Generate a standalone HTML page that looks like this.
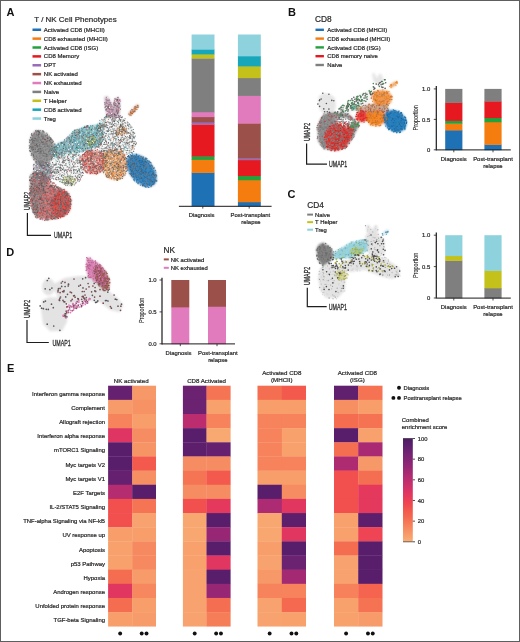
<!DOCTYPE html>
<html><head><meta charset="utf-8"><style>
html,body{margin:0;padding:0;background:#fff;}
body{width:520px;height:642px;overflow:hidden;}
svg{display:block;font-family:"Liberation Sans", sans-serif;will-change:transform;}
</style></head><body>
<svg width="520" height="642" viewBox="0 0 520 642">
<rect x="0" y="0" width="520" height="642" fill="#fff"/>
<text x="6.40" y="15.80" font-size="11.0" text-anchor="start" fill="#111" font-weight="bold" >A</text>
<text x="288.00" y="15.70" font-size="11.0" text-anchor="start" fill="#111" font-weight="bold" >B</text>
<text x="287.60" y="197.60" font-size="11.0" text-anchor="start" fill="#111" font-weight="bold" >C</text>
<text x="6.20" y="255.70" font-size="11.0" text-anchor="start" fill="#111" font-weight="bold" >D</text>
<text x="7.00" y="372.20" font-size="11.0" text-anchor="start" fill="#111" font-weight="bold" >E</text>
<text x="34.30" y="21.80" font-size="7.95" text-anchor="start" fill="#2b2b2b" font-weight="normal" stroke="#2b2b2b" stroke-width="0.22" >T / NK Cell Phenotypes</text>
<rect x="32.5" y="28.50" width="8.6" height="2.5" fill="#1f71b6"/>
<text x="43.80" y="31.85" font-size="6.0" text-anchor="start" fill="#2b2b2b" font-weight="normal" stroke="#2b2b2b" stroke-width="0.22" >Activated CD8 (MHCII)</text>
<rect x="32.5" y="37.38" width="8.6" height="2.5" fill="#f57d0f"/>
<text x="43.80" y="40.73" font-size="6.0" text-anchor="start" fill="#2b2b2b" font-weight="normal" stroke="#2b2b2b" stroke-width="0.22" >CD8 exhausted (MHCII)</text>
<rect x="32.5" y="46.26" width="8.6" height="2.5" fill="#22a23c"/>
<text x="43.80" y="49.61" font-size="6.0" text-anchor="start" fill="#2b2b2b" font-weight="normal" stroke="#2b2b2b" stroke-width="0.22" >Activated CD8 (ISG)</text>
<rect x="32.5" y="55.14" width="8.6" height="2.5" fill="#e5191f"/>
<text x="43.80" y="58.49" font-size="6.0" text-anchor="start" fill="#2b2b2b" font-weight="normal" stroke="#2b2b2b" stroke-width="0.22" >CD8 Memory</text>
<rect x="32.5" y="64.02" width="8.6" height="2.5" fill="#9a6cb8"/>
<text x="43.80" y="67.37" font-size="6.0" text-anchor="start" fill="#2b2b2b" font-weight="normal" stroke="#2b2b2b" stroke-width="0.22" >DPT</text>
<rect x="32.5" y="72.90" width="8.6" height="2.5" fill="#9b5149"/>
<text x="43.80" y="76.25" font-size="6.0" text-anchor="start" fill="#2b2b2b" font-weight="normal" stroke="#2b2b2b" stroke-width="0.22" >NK activated</text>
<rect x="32.5" y="81.78" width="8.6" height="2.5" fill="#e27bbd"/>
<text x="43.80" y="85.13" font-size="6.0" text-anchor="start" fill="#2b2b2b" font-weight="normal" stroke="#2b2b2b" stroke-width="0.22" >NK exhausted</text>
<rect x="32.5" y="90.66" width="8.6" height="2.5" fill="#7f7f7f"/>
<text x="43.80" y="94.01" font-size="6.0" text-anchor="start" fill="#2b2b2b" font-weight="normal" stroke="#2b2b2b" stroke-width="0.22" >Naive</text>
<rect x="32.5" y="99.54" width="8.6" height="2.5" fill="#c4c21a"/>
<text x="43.80" y="102.89" font-size="6.0" text-anchor="start" fill="#2b2b2b" font-weight="normal" stroke="#2b2b2b" stroke-width="0.22" >T Helper</text>
<rect x="32.5" y="108.42" width="8.6" height="2.5" fill="#17a6ba"/>
<text x="43.80" y="111.77" font-size="6.0" text-anchor="start" fill="#2b2b2b" font-weight="normal" stroke="#2b2b2b" stroke-width="0.22" >CD8 activated</text>
<rect x="32.5" y="117.30" width="8.6" height="2.5" fill="#8ed2dd"/>
<text x="43.80" y="120.65" font-size="6.0" text-anchor="start" fill="#2b2b2b" font-weight="normal" stroke="#2b2b2b" stroke-width="0.22" >Treg</text>
<text x="315.00" y="22.40" font-size="8.3" text-anchor="start" fill="#2b2b2b" font-weight="normal" stroke="#2b2b2b" stroke-width="0.22" >CD8</text>
<rect x="315.5" y="28.60" width="8.4" height="2.4" fill="#1f71b6"/>
<text x="327.30" y="31.90" font-size="5.9" text-anchor="start" fill="#2b2b2b" font-weight="normal" stroke="#2b2b2b" stroke-width="0.22" >Activated CD8 (MHCII)</text>
<rect x="315.5" y="37.40" width="8.4" height="2.4" fill="#f57d0f"/>
<text x="327.30" y="40.70" font-size="5.9" text-anchor="start" fill="#2b2b2b" font-weight="normal" stroke="#2b2b2b" stroke-width="0.22" >CD8 exhausted (MHCII)</text>
<rect x="315.5" y="46.20" width="8.4" height="2.4" fill="#22a23c"/>
<text x="327.30" y="49.50" font-size="5.9" text-anchor="start" fill="#2b2b2b" font-weight="normal" stroke="#2b2b2b" stroke-width="0.22" >Activated CD8 (ISG)</text>
<rect x="315.5" y="55.00" width="8.4" height="2.4" fill="#e5191f"/>
<text x="327.30" y="58.30" font-size="5.9" text-anchor="start" fill="#2b2b2b" font-weight="normal" stroke="#2b2b2b" stroke-width="0.22" >CD8 memory naive</text>
<rect x="315.5" y="63.80" width="8.4" height="2.4" fill="#7f7f7f"/>
<text x="327.30" y="67.10" font-size="5.9" text-anchor="start" fill="#2b2b2b" font-weight="normal" stroke="#2b2b2b" stroke-width="0.22" >Naive</text>
<text x="307.20" y="208.20" font-size="8.3" text-anchor="start" fill="#2b2b2b" font-weight="normal" stroke="#2b2b2b" stroke-width="0.22" >CD4</text>
<rect x="307.2" y="213.60" width="5.8" height="2.0" fill="#7f7f7f"/>
<text x="315.00" y="216.70" font-size="5.9" text-anchor="start" fill="#2b2b2b" font-weight="normal" stroke="#2b2b2b" stroke-width="0.22" >Naive</text>
<rect x="307.2" y="221.15" width="5.8" height="2.0" fill="#c4c21a"/>
<text x="315.00" y="224.25" font-size="5.9" text-anchor="start" fill="#2b2b2b" font-weight="normal" stroke="#2b2b2b" stroke-width="0.22" >T Helper</text>
<rect x="307.2" y="228.70" width="5.8" height="2.0" fill="#8ed2dd"/>
<text x="315.00" y="231.80" font-size="5.9" text-anchor="start" fill="#2b2b2b" font-weight="normal" stroke="#2b2b2b" stroke-width="0.22" >Treg</text>
<text x="163.60" y="253.20" font-size="8.3" text-anchor="start" fill="#2b2b2b" font-weight="normal" stroke="#2b2b2b" stroke-width="0.22" >NK</text>
<rect x="163.8" y="258.40" width="5.0" height="2.0" fill="#9b5149"/>
<text x="170.80" y="261.50" font-size="5.9" text-anchor="start" fill="#2b2b2b" font-weight="normal" stroke="#2b2b2b" stroke-width="0.22" >NK activated</text>
<rect x="163.8" y="266.80" width="5.0" height="2.0" fill="#e27bbd"/>
<text x="170.80" y="269.90" font-size="5.9" text-anchor="start" fill="#2b2b2b" font-weight="normal" stroke="#2b2b2b" stroke-width="0.22" >NK exhausted</text>
<rect x="191.60" y="172.50" width="22.90" height="33.85" fill="#1f71b6"/>
<rect x="191.60" y="159.60" width="22.90" height="13.25" fill="#f57d0f"/>
<rect x="191.60" y="156.10" width="22.90" height="3.85" fill="#22a23c"/>
<rect x="191.60" y="124.30" width="22.90" height="32.15" fill="#e5191f"/>
<rect x="191.60" y="122.00" width="22.90" height="2.65" fill="#9a6cb8"/>
<rect x="191.60" y="116.80" width="22.90" height="5.55" fill="#9b5149"/>
<rect x="191.60" y="111.90" width="22.90" height="5.25" fill="#e27bbd"/>
<rect x="191.60" y="58.20" width="22.90" height="54.05" fill="#7f7f7f"/>
<rect x="191.60" y="54.10" width="22.90" height="4.45" fill="#c4c21a"/>
<rect x="191.60" y="49.20" width="22.90" height="5.25" fill="#17a6ba"/>
<rect x="191.60" y="34.50" width="22.90" height="15.05" fill="#8ed2dd"/>
<rect x="237.90" y="201.90" width="22.90" height="4.45" fill="#1f71b6"/>
<rect x="237.90" y="179.90" width="22.90" height="22.35" fill="#f57d0f"/>
<rect x="237.90" y="175.70" width="22.90" height="4.55" fill="#22a23c"/>
<rect x="237.90" y="159.90" width="22.90" height="16.15" fill="#e5191f"/>
<rect x="237.90" y="158.20" width="22.90" height="2.05" fill="#9a6cb8"/>
<rect x="237.90" y="123.20" width="22.90" height="35.35" fill="#9b5149"/>
<rect x="237.90" y="95.60" width="22.90" height="27.95" fill="#e27bbd"/>
<rect x="237.90" y="77.80" width="22.90" height="18.15" fill="#7f7f7f"/>
<rect x="237.90" y="66.10" width="22.90" height="12.05" fill="#c4c21a"/>
<rect x="237.90" y="56.00" width="22.90" height="10.45" fill="#17a6ba"/>
<rect x="237.90" y="34.50" width="22.90" height="21.85" fill="#8ed2dd"/>
<line x1="178.9" y1="206.3" x2="271.6" y2="206.3" stroke="#1a1a1a" stroke-width="1.0"/>
<line x1="202.8" y1="206.3" x2="202.8" y2="208.6" stroke="#222" stroke-width="0.8"/>
<line x1="249.2" y1="206.3" x2="249.2" y2="208.6" stroke="#222" stroke-width="0.8"/>
<text x="201.60" y="216.60" font-size="5.9" text-anchor="middle" fill="#2b2b2b" font-weight="normal" stroke="#2b2b2b" stroke-width="0.22" >Diagnosis</text>
<text x="250.40" y="216.60" font-size="5.9" text-anchor="middle" fill="#2b2b2b" font-weight="normal" stroke="#2b2b2b" stroke-width="0.22" >Post-transplant</text>
<text x="251.00" y="223.80" font-size="5.9" text-anchor="middle" fill="#2b2b2b" font-weight="normal" stroke="#2b2b2b" stroke-width="0.22" >relapse</text>
<rect x="445.20" y="130.10" width="17.20" height="20.05" fill="#1f71b6"/>
<rect x="445.20" y="123.40" width="17.20" height="7.05" fill="#f57d0f"/>
<rect x="445.20" y="120.60" width="17.20" height="3.15" fill="#22a23c"/>
<rect x="445.20" y="102.60" width="17.20" height="18.35" fill="#e5191f"/>
<rect x="445.20" y="88.90" width="17.20" height="14.05" fill="#7f7f7f"/>
<rect x="484.40" y="144.50" width="17.20" height="5.65" fill="#1f71b6"/>
<rect x="484.40" y="121.90" width="17.20" height="22.95" fill="#f57d0f"/>
<rect x="484.40" y="117.70" width="17.20" height="4.55" fill="#22a23c"/>
<rect x="484.40" y="101.20" width="17.20" height="16.85" fill="#e5191f"/>
<rect x="484.40" y="88.90" width="17.20" height="12.65" fill="#7f7f7f"/>
<line x1="436.3" y1="86.0" x2="436.3" y2="150.4" stroke="#1a1a1a" stroke-width="1.2"/>
<line x1="433.8" y1="88.9" x2="436.3" y2="88.9" stroke="#222" stroke-width="0.8"/>
<text x="430.30" y="91.00" font-size="5.9" text-anchor="end" fill="#2b2b2b" font-weight="normal" stroke="#2b2b2b" stroke-width="0.22" >1.0</text>
<line x1="433.8" y1="119.4" x2="436.3" y2="119.4" stroke="#222" stroke-width="0.8"/>
<text x="430.30" y="121.50" font-size="5.9" text-anchor="end" fill="#2b2b2b" font-weight="normal" stroke="#2b2b2b" stroke-width="0.22" >0.5</text>
<line x1="433.8" y1="149.8" x2="436.3" y2="149.8" stroke="#222" stroke-width="0.8"/>
<text x="430.30" y="151.90" font-size="5.9" text-anchor="end" fill="#2b2b2b" font-weight="normal" stroke="#2b2b2b" stroke-width="0.22" >0</text>
<line x1="436.7" y1="149.9" x2="510.8" y2="149.9" stroke="#1a1a1a" stroke-width="1.0"/>
<line x1="453.8" y1="150" x2="453.8" y2="152.3" stroke="#222" stroke-width="0.8"/>
<line x1="493.0" y1="150" x2="493.0" y2="152.3" stroke="#222" stroke-width="0.8"/>
<text x="453.80" y="160.50" font-size="5.9" text-anchor="middle" fill="#2b2b2b" font-weight="normal" stroke="#2b2b2b" stroke-width="0.22" >Diagnosis</text>
<text x="493.00" y="160.50" font-size="5.9" text-anchor="middle" fill="#2b2b2b" font-weight="normal" stroke="#2b2b2b" stroke-width="0.22" >Post-transplant</text>
<text x="493.00" y="167.70" font-size="5.9" text-anchor="middle" fill="#2b2b2b" font-weight="normal" stroke="#2b2b2b" stroke-width="0.22" >relapse</text>
<text x="0" y="0" font-size="7.2" fill="#2b2b2b" stroke="#2b2b2b" stroke-width="0.12" text-anchor="middle" transform="translate(418.0,117.8) rotate(-90) scale(0.77,1)">Proportion</text>
<rect x="445.20" y="260.50" width="17.20" height="37.85" fill="#7f7f7f"/>
<rect x="445.20" y="255.70" width="17.20" height="5.15" fill="#c4c21a"/>
<rect x="445.20" y="235.20" width="17.20" height="20.85" fill="#8ed2dd"/>
<rect x="484.40" y="288.00" width="17.20" height="10.35" fill="#7f7f7f"/>
<rect x="484.40" y="270.50" width="17.20" height="17.85" fill="#c4c21a"/>
<rect x="484.40" y="235.20" width="17.20" height="35.65" fill="#8ed2dd"/>
<line x1="436.3" y1="232.6" x2="436.3" y2="298.6" stroke="#1a1a1a" stroke-width="1.2"/>
<line x1="433.8" y1="235.2" x2="436.3" y2="235.2" stroke="#222" stroke-width="0.8"/>
<text x="430.30" y="237.30" font-size="5.9" text-anchor="end" fill="#2b2b2b" font-weight="normal" stroke="#2b2b2b" stroke-width="0.22" >1.0</text>
<line x1="433.8" y1="266.6" x2="436.3" y2="266.6" stroke="#222" stroke-width="0.8"/>
<text x="430.30" y="268.70" font-size="5.9" text-anchor="end" fill="#2b2b2b" font-weight="normal" stroke="#2b2b2b" stroke-width="0.22" >0.5</text>
<line x1="433.8" y1="298.0" x2="436.3" y2="298.0" stroke="#222" stroke-width="0.8"/>
<text x="430.30" y="300.10" font-size="5.9" text-anchor="end" fill="#2b2b2b" font-weight="normal" stroke="#2b2b2b" stroke-width="0.22" >0</text>
<line x1="436.7" y1="298.1" x2="510.8" y2="298.1" stroke="#1a1a1a" stroke-width="1.0"/>
<line x1="453.8" y1="298.2" x2="453.8" y2="300.5" stroke="#222" stroke-width="0.8"/>
<line x1="493.0" y1="298.2" x2="493.0" y2="300.5" stroke="#222" stroke-width="0.8"/>
<text x="453.80" y="308.50" font-size="5.9" text-anchor="middle" fill="#2b2b2b" font-weight="normal" stroke="#2b2b2b" stroke-width="0.22" >Diagnosis</text>
<text x="493.00" y="308.50" font-size="5.9" text-anchor="middle" fill="#2b2b2b" font-weight="normal" stroke="#2b2b2b" stroke-width="0.22" >Post-transplant</text>
<text x="493.00" y="315.70" font-size="5.9" text-anchor="middle" fill="#2b2b2b" font-weight="normal" stroke="#2b2b2b" stroke-width="0.22" >relapse</text>
<text x="0" y="0" font-size="7.2" fill="#2b2b2b" stroke="#2b2b2b" stroke-width="0.12" text-anchor="middle" transform="translate(417.9,265.3) rotate(-90) scale(0.77,1)">Proportion</text>
<rect x="171.30" y="307.00" width="18.00" height="37.15" fill="#e27bbd"/>
<rect x="171.30" y="280.00" width="18.00" height="27.35" fill="#9b5149"/>
<rect x="208.00" y="306.50" width="18.00" height="37.65" fill="#e27bbd"/>
<rect x="208.00" y="280.00" width="18.00" height="26.85" fill="#9b5149"/>
<line x1="162.0" y1="277.8" x2="162.0" y2="344.4" stroke="#1a1a1a" stroke-width="1.2"/>
<line x1="159.5" y1="280.0" x2="162.0" y2="280.0" stroke="#222" stroke-width="0.8"/>
<text x="156.60" y="282.10" font-size="5.9" text-anchor="end" fill="#2b2b2b" font-weight="normal" stroke="#2b2b2b" stroke-width="0.22" >1.0</text>
<line x1="159.5" y1="311.9" x2="162.0" y2="311.9" stroke="#222" stroke-width="0.8"/>
<text x="156.60" y="314.00" font-size="5.9" text-anchor="end" fill="#2b2b2b" font-weight="normal" stroke="#2b2b2b" stroke-width="0.22" >0.5</text>
<line x1="159.5" y1="343.8" x2="162.0" y2="343.8" stroke="#222" stroke-width="0.8"/>
<text x="156.60" y="345.90" font-size="5.9" text-anchor="end" fill="#2b2b2b" font-weight="normal" stroke="#2b2b2b" stroke-width="0.22" >0.0</text>
<line x1="162" y1="343.9" x2="235.0" y2="343.9" stroke="#1a1a1a" stroke-width="1.0"/>
<line x1="180.3" y1="343.9" x2="180.3" y2="346.2" stroke="#222" stroke-width="0.8"/>
<line x1="217.0" y1="343.9" x2="217.0" y2="346.2" stroke="#222" stroke-width="0.8"/>
<text x="178.50" y="354.50" font-size="5.9" text-anchor="middle" fill="#2b2b2b" font-weight="normal" stroke="#2b2b2b" stroke-width="0.22" >Diagnosis</text>
<text x="217.80" y="354.50" font-size="5.9" text-anchor="middle" fill="#2b2b2b" font-weight="normal" stroke="#2b2b2b" stroke-width="0.22" >Post-transplant</text>
<text x="217.80" y="361.70" font-size="5.9" text-anchor="middle" fill="#2b2b2b" font-weight="normal" stroke="#2b2b2b" stroke-width="0.22" >relapse</text>
<text x="0" y="0" font-size="7.2" fill="#2b2b2b" stroke="#2b2b2b" stroke-width="0.12" text-anchor="middle" transform="translate(143.6,310.3) rotate(-90) scale(0.77,1)">Proportion</text>
<polyline points="27.4,213.0 27.4,235.4 51.0,235.4" fill="none" stroke="#1e1e1e" stroke-width="1.2"/>
<text x="0" y="0" font-size="8.6" fill="#2b2b2b" stroke="#2b2b2b" stroke-width="0.3" transform="translate(54.0,238.496) scale(0.615,1)">UMAP1</text>
<text x="0" y="0" font-size="8.6" fill="#2b2b2b" stroke="#2b2b2b" stroke-width="0.3" text-anchor="middle" transform="translate(30.496,200.8) rotate(-90) scale(0.615,1)">UMAP2</text>
<polyline points="306.6,143.5 306.6,164.2 327.0,164.2" fill="none" stroke="#1e1e1e" stroke-width="1.2"/>
<text x="0" y="0" font-size="8.6" fill="#2b2b2b" stroke="#2b2b2b" stroke-width="0.3" transform="translate(329.0,167.296) scale(0.615,1)">UMAP1</text>
<text x="0" y="0" font-size="8.6" fill="#2b2b2b" stroke="#2b2b2b" stroke-width="0.3" text-anchor="middle" transform="translate(309.696,132.0) rotate(-90) scale(0.615,1)">UMAP2</text>
<polyline points="307.3,287.7 307.3,306.7 326.7,306.7" fill="none" stroke="#1e1e1e" stroke-width="1.2"/>
<text x="0" y="0" font-size="8.6" fill="#2b2b2b" stroke="#2b2b2b" stroke-width="0.3" transform="translate(328.8,309.796) scale(0.615,1)">UMAP1</text>
<text x="0" y="0" font-size="8.6" fill="#2b2b2b" stroke="#2b2b2b" stroke-width="0.3" text-anchor="middle" transform="translate(310.396,276.0) rotate(-90) scale(0.615,1)">UMAP2</text>
<polyline points="27.0,320.0 27.0,342.5 48.8,342.5" fill="none" stroke="#1e1e1e" stroke-width="1.2"/>
<text x="0" y="0" font-size="8.6" fill="#2b2b2b" stroke="#2b2b2b" stroke-width="0.3" transform="translate(52.5,345.596) scale(0.615,1)">UMAP1</text>
<text x="0" y="0" font-size="8.6" fill="#2b2b2b" stroke="#2b2b2b" stroke-width="0.3" text-anchor="middle" transform="translate(30.096,308.8) rotate(-90) scale(0.615,1)">UMAP2</text>
<rect x="108.1" y="385.70" width="24.40" height="14.45" fill="#65216f"/>
<rect x="132.2" y="385.70" width="23.80" height="14.45" fill="#f79868"/>
<rect x="108.1" y="399.85" width="24.40" height="14.45" fill="#f79b6a"/>
<rect x="132.2" y="399.85" width="23.80" height="14.45" fill="#f79264"/>
<rect x="108.1" y="414.00" width="24.40" height="14.45" fill="#f6835c"/>
<rect x="132.2" y="414.00" width="23.80" height="14.45" fill="#f89e6b"/>
<rect x="108.1" y="428.15" width="24.40" height="14.45" fill="#de3562"/>
<rect x="132.2" y="428.15" width="23.80" height="14.45" fill="#f68c61"/>
<rect x="108.1" y="442.30" width="24.40" height="14.45" fill="#581e6b"/>
<rect x="132.2" y="442.30" width="23.80" height="14.45" fill="#f79466"/>
<rect x="108.1" y="456.45" width="24.40" height="14.45" fill="#581e6b"/>
<rect x="132.2" y="456.45" width="23.80" height="14.45" fill="#f3594d"/>
<rect x="108.1" y="470.60" width="24.40" height="14.45" fill="#65216f"/>
<rect x="132.2" y="470.60" width="23.80" height="14.45" fill="#f68f62"/>
<rect x="108.1" y="484.75" width="24.40" height="14.45" fill="#b62c70"/>
<rect x="132.2" y="484.75" width="23.80" height="14.45" fill="#581e6b"/>
<rect x="108.1" y="498.90" width="24.40" height="14.45" fill="#f1504e"/>
<rect x="132.2" y="498.90" width="23.80" height="14.45" fill="#f57454"/>
<rect x="108.1" y="513.05" width="24.40" height="14.45" fill="#f1504e"/>
<rect x="132.2" y="513.05" width="23.80" height="14.45" fill="#f8a36f"/>
<rect x="108.1" y="527.20" width="24.40" height="14.45" fill="#f89e6b"/>
<rect x="132.2" y="527.20" width="23.80" height="14.45" fill="#f89e6b"/>
<rect x="108.1" y="541.35" width="24.40" height="14.45" fill="#f8a16d"/>
<rect x="132.2" y="541.35" width="23.80" height="14.45" fill="#f6895f"/>
<rect x="108.1" y="555.50" width="24.40" height="14.45" fill="#f8a16d"/>
<rect x="132.2" y="555.50" width="23.80" height="14.45" fill="#f6895f"/>
<rect x="108.1" y="569.65" width="24.40" height="14.45" fill="#f46d51"/>
<rect x="132.2" y="569.65" width="23.80" height="14.45" fill="#f79b6a"/>
<rect x="108.1" y="583.80" width="24.40" height="14.45" fill="#e03660"/>
<rect x="132.2" y="583.80" width="23.80" height="14.45" fill="#f6875e"/>
<rect x="108.1" y="597.95" width="24.40" height="14.45" fill="#f46d51"/>
<rect x="132.2" y="597.95" width="23.80" height="14.45" fill="#f89e6b"/>
<rect x="108.1" y="612.10" width="24.40" height="14.45" fill="#f89e6b"/>
<rect x="132.2" y="612.10" width="23.80" height="14.45" fill="#f79b6a"/>
<circle cx="120.15" cy="633.5" r="1.95" fill="#111"/>
<circle cx="141.70" cy="633.5" r="1.95" fill="#111"/>
<circle cx="146.50" cy="633.5" r="1.95" fill="#111"/>
<rect x="182.9" y="385.70" width="23.90" height="14.45" fill="#6b2271"/>
<rect x="206.5" y="385.70" width="24.10" height="14.45" fill="#f57454"/>
<rect x="182.9" y="399.85" width="23.90" height="14.45" fill="#6b2271"/>
<rect x="206.5" y="399.85" width="24.10" height="14.45" fill="#f8a16d"/>
<rect x="182.9" y="414.00" width="23.90" height="14.45" fill="#bc2d6f"/>
<rect x="206.5" y="414.00" width="24.10" height="14.45" fill="#f6835c"/>
<rect x="182.9" y="428.15" width="23.90" height="14.45" fill="#581e6b"/>
<rect x="206.5" y="428.15" width="24.10" height="14.45" fill="#f8a972"/>
<rect x="182.9" y="442.30" width="23.90" height="14.45" fill="#5d1f6c"/>
<rect x="206.5" y="442.30" width="24.10" height="14.45" fill="#65216f"/>
<rect x="182.9" y="456.45" width="23.90" height="14.45" fill="#f68c61"/>
<rect x="206.5" y="456.45" width="24.10" height="14.45" fill="#f68c61"/>
<rect x="182.9" y="470.60" width="23.90" height="14.45" fill="#f57454"/>
<rect x="206.5" y="470.60" width="24.10" height="14.45" fill="#f3594d"/>
<rect x="182.9" y="484.75" width="23.90" height="14.45" fill="#f68c61"/>
<rect x="206.5" y="484.75" width="24.10" height="14.45" fill="#f68c61"/>
<rect x="182.9" y="498.90" width="23.90" height="14.45" fill="#f1504e"/>
<rect x="206.5" y="498.90" width="24.10" height="14.45" fill="#e4385d"/>
<rect x="182.9" y="513.05" width="23.90" height="14.45" fill="#f8a771"/>
<rect x="206.5" y="513.05" width="24.10" height="14.45" fill="#581e6b"/>
<rect x="182.9" y="527.20" width="23.90" height="14.45" fill="#f8a771"/>
<rect x="206.5" y="527.20" width="24.10" height="14.45" fill="#972774"/>
<rect x="182.9" y="541.35" width="23.90" height="14.45" fill="#f8a16d"/>
<rect x="206.5" y="541.35" width="24.10" height="14.45" fill="#581e6b"/>
<rect x="182.9" y="555.50" width="23.90" height="14.45" fill="#f8a16d"/>
<rect x="206.5" y="555.50" width="24.10" height="14.45" fill="#e03660"/>
<rect x="182.9" y="569.65" width="23.90" height="14.45" fill="#f8a36f"/>
<rect x="206.5" y="569.65" width="24.10" height="14.45" fill="#581e6b"/>
<rect x="182.9" y="583.80" width="23.90" height="14.45" fill="#f8a36f"/>
<rect x="206.5" y="583.80" width="24.10" height="14.45" fill="#972774"/>
<rect x="182.9" y="597.95" width="23.90" height="14.45" fill="#f8a36f"/>
<rect x="206.5" y="597.95" width="24.10" height="14.45" fill="#f46f52"/>
<rect x="182.9" y="612.10" width="23.90" height="14.45" fill="#f8a36f"/>
<rect x="206.5" y="612.10" width="24.10" height="14.45" fill="#f57e59"/>
<circle cx="194.70" cy="633.5" r="1.95" fill="#111"/>
<circle cx="216.15" cy="633.5" r="1.95" fill="#111"/>
<circle cx="220.95" cy="633.5" r="1.95" fill="#111"/>
<rect x="257.5" y="385.70" width="24.60" height="14.45" fill="#f46f52"/>
<rect x="281.8" y="385.70" width="24.20" height="14.45" fill="#f3594d"/>
<rect x="257.5" y="399.85" width="24.60" height="14.45" fill="#f89e6b"/>
<rect x="281.8" y="399.85" width="24.20" height="14.45" fill="#f89e6b"/>
<rect x="257.5" y="414.00" width="24.60" height="14.45" fill="#f6835c"/>
<rect x="281.8" y="414.00" width="24.20" height="14.45" fill="#f6835c"/>
<rect x="257.5" y="428.15" width="24.60" height="14.45" fill="#f6835c"/>
<rect x="281.8" y="428.15" width="24.20" height="14.45" fill="#f8a16d"/>
<rect x="257.5" y="442.30" width="24.60" height="14.45" fill="#f6835c"/>
<rect x="281.8" y="442.30" width="24.20" height="14.45" fill="#f8a16d"/>
<rect x="257.5" y="456.45" width="24.60" height="14.45" fill="#f6835c"/>
<rect x="281.8" y="456.45" width="24.20" height="14.45" fill="#f6835c"/>
<rect x="257.5" y="470.60" width="24.60" height="14.45" fill="#f89e6b"/>
<rect x="281.8" y="470.60" width="24.20" height="14.45" fill="#f89e6b"/>
<rect x="257.5" y="484.75" width="24.60" height="14.45" fill="#581e6b"/>
<rect x="281.8" y="484.75" width="24.20" height="14.45" fill="#f68c61"/>
<rect x="257.5" y="498.90" width="24.60" height="14.45" fill="#ac2b72"/>
<rect x="281.8" y="498.90" width="24.20" height="14.45" fill="#e03660"/>
<rect x="257.5" y="513.05" width="24.60" height="14.45" fill="#f8a771"/>
<rect x="281.8" y="513.05" width="24.20" height="14.45" fill="#5d1f6c"/>
<rect x="257.5" y="527.20" width="24.60" height="14.45" fill="#f8a771"/>
<rect x="281.8" y="527.20" width="24.20" height="14.45" fill="#e03660"/>
<rect x="257.5" y="541.35" width="24.60" height="14.45" fill="#f89e6b"/>
<rect x="281.8" y="541.35" width="24.20" height="14.45" fill="#581e6b"/>
<rect x="257.5" y="555.50" width="24.60" height="14.45" fill="#f8a36f"/>
<rect x="281.8" y="555.50" width="24.20" height="14.45" fill="#6b2271"/>
<rect x="257.5" y="569.65" width="24.60" height="14.45" fill="#f79868"/>
<rect x="281.8" y="569.65" width="24.20" height="14.45" fill="#a32973"/>
<rect x="257.5" y="583.80" width="24.60" height="14.45" fill="#f6835c"/>
<rect x="281.8" y="583.80" width="24.20" height="14.45" fill="#f6835c"/>
<rect x="257.5" y="597.95" width="24.60" height="14.45" fill="#f8a36f"/>
<rect x="281.8" y="597.95" width="24.20" height="14.45" fill="#f46950"/>
<rect x="257.5" y="612.10" width="24.60" height="14.45" fill="#f8a36f"/>
<rect x="281.8" y="612.10" width="24.20" height="14.45" fill="#f8a16d"/>
<circle cx="269.65" cy="633.5" r="1.95" fill="#111"/>
<circle cx="291.50" cy="633.5" r="1.95" fill="#111"/>
<circle cx="296.30" cy="633.5" r="1.95" fill="#111"/>
<rect x="334.0" y="385.70" width="24.50" height="14.45" fill="#60206d"/>
<rect x="358.2" y="385.70" width="24.30" height="14.45" fill="#f57253"/>
<rect x="334.0" y="399.85" width="24.50" height="14.45" fill="#f68f62"/>
<rect x="358.2" y="399.85" width="24.30" height="14.45" fill="#f89e6b"/>
<rect x="334.0" y="414.00" width="24.50" height="14.45" fill="#f46d51"/>
<rect x="358.2" y="414.00" width="24.30" height="14.45" fill="#f57253"/>
<rect x="334.0" y="428.15" width="24.50" height="14.45" fill="#581e6b"/>
<rect x="358.2" y="428.15" width="24.30" height="14.45" fill="#f8a16d"/>
<rect x="334.0" y="442.30" width="24.50" height="14.45" fill="#f46f52"/>
<rect x="358.2" y="442.30" width="24.30" height="14.45" fill="#a92a72"/>
<rect x="334.0" y="456.45" width="24.50" height="14.45" fill="#af2b71"/>
<rect x="358.2" y="456.45" width="24.30" height="14.45" fill="#f79868"/>
<rect x="334.0" y="470.60" width="24.50" height="14.45" fill="#f1504e"/>
<rect x="358.2" y="470.60" width="24.30" height="14.45" fill="#f46f52"/>
<rect x="334.0" y="484.75" width="24.50" height="14.45" fill="#f1504e"/>
<rect x="358.2" y="484.75" width="24.30" height="14.45" fill="#e4385d"/>
<rect x="334.0" y="498.90" width="24.50" height="14.45" fill="#f1504e"/>
<rect x="358.2" y="498.90" width="24.30" height="14.45" fill="#e4385d"/>
<rect x="334.0" y="513.05" width="24.50" height="14.45" fill="#f8a16d"/>
<rect x="358.2" y="513.05" width="24.30" height="14.45" fill="#5d1f6c"/>
<rect x="334.0" y="527.20" width="24.50" height="14.45" fill="#f8a16d"/>
<rect x="358.2" y="527.20" width="24.30" height="14.45" fill="#ee4453"/>
<rect x="334.0" y="541.35" width="24.50" height="14.45" fill="#f46d51"/>
<rect x="358.2" y="541.35" width="24.30" height="14.45" fill="#581e6b"/>
<rect x="334.0" y="555.50" width="24.50" height="14.45" fill="#f8a36f"/>
<rect x="358.2" y="555.50" width="24.30" height="14.45" fill="#581e6b"/>
<rect x="334.0" y="569.65" width="24.50" height="14.45" fill="#f8a36f"/>
<rect x="358.2" y="569.65" width="24.30" height="14.45" fill="#581e6b"/>
<rect x="334.0" y="583.80" width="24.50" height="14.45" fill="#f6815a"/>
<rect x="358.2" y="583.80" width="24.30" height="14.45" fill="#f4644f"/>
<rect x="334.0" y="597.95" width="24.50" height="14.45" fill="#f8a16d"/>
<rect x="358.2" y="597.95" width="24.30" height="14.45" fill="#f57253"/>
<rect x="334.0" y="612.10" width="24.50" height="14.45" fill="#f8a16d"/>
<rect x="358.2" y="612.10" width="24.30" height="14.45" fill="#f79b6a"/>
<circle cx="346.10" cy="633.5" r="1.95" fill="#111"/>
<circle cx="367.95" cy="633.5" r="1.95" fill="#111"/>
<circle cx="372.75" cy="633.5" r="1.95" fill="#111"/>
<text x="105.00" y="395.88" font-size="5.95" text-anchor="end" fill="#2b2b2b" font-weight="normal" stroke="#2b2b2b" stroke-width="0.22" >Interferon gamma response</text>
<text x="105.00" y="410.02" font-size="5.95" text-anchor="end" fill="#2b2b2b" font-weight="normal" stroke="#2b2b2b" stroke-width="0.22" >Complement</text>
<text x="105.00" y="424.18" font-size="5.95" text-anchor="end" fill="#2b2b2b" font-weight="normal" stroke="#2b2b2b" stroke-width="0.22" >Allograft rejection</text>
<text x="105.00" y="438.32" font-size="5.95" text-anchor="end" fill="#2b2b2b" font-weight="normal" stroke="#2b2b2b" stroke-width="0.22" >Interferon alpha response</text>
<text x="105.00" y="452.48" font-size="5.95" text-anchor="end" fill="#2b2b2b" font-weight="normal" stroke="#2b2b2b" stroke-width="0.22" >mTORC1 Signaling</text>
<text x="105.00" y="466.62" font-size="5.95" text-anchor="end" fill="#2b2b2b" font-weight="normal" stroke="#2b2b2b" stroke-width="0.22" >Myc targets V2</text>
<text x="105.00" y="480.78" font-size="5.95" text-anchor="end" fill="#2b2b2b" font-weight="normal" stroke="#2b2b2b" stroke-width="0.22" >Myc targets V1</text>
<text x="105.00" y="494.93" font-size="5.95" text-anchor="end" fill="#2b2b2b" font-weight="normal" stroke="#2b2b2b" stroke-width="0.22" >E2F Targets</text>
<text x="105.00" y="509.07" font-size="5.95" text-anchor="end" fill="#2b2b2b" font-weight="normal" stroke="#2b2b2b" stroke-width="0.22" >IL-2/STAT5 Signaling</text>
<text x="105.00" y="523.23" font-size="5.95" text-anchor="end" fill="#2b2b2b" font-weight="normal" stroke="#2b2b2b" stroke-width="0.22" >TNF-alpha Signaling via NF-kB</text>
<text x="105.00" y="537.38" font-size="5.95" text-anchor="end" fill="#2b2b2b" font-weight="normal" stroke="#2b2b2b" stroke-width="0.22" >UV response up</text>
<text x="105.00" y="551.53" font-size="5.95" text-anchor="end" fill="#2b2b2b" font-weight="normal" stroke="#2b2b2b" stroke-width="0.22" >Apoptosis</text>
<text x="105.00" y="565.68" font-size="5.95" text-anchor="end" fill="#2b2b2b" font-weight="normal" stroke="#2b2b2b" stroke-width="0.22" >p53 Pathway</text>
<text x="105.00" y="579.83" font-size="5.95" text-anchor="end" fill="#2b2b2b" font-weight="normal" stroke="#2b2b2b" stroke-width="0.22" >Hypoxia</text>
<text x="105.00" y="593.98" font-size="5.95" text-anchor="end" fill="#2b2b2b" font-weight="normal" stroke="#2b2b2b" stroke-width="0.22" >Androgen response</text>
<text x="105.00" y="608.13" font-size="5.95" text-anchor="end" fill="#2b2b2b" font-weight="normal" stroke="#2b2b2b" stroke-width="0.22" >Unfolded protein response</text>
<text x="105.00" y="622.28" font-size="5.95" text-anchor="end" fill="#2b2b2b" font-weight="normal" stroke="#2b2b2b" stroke-width="0.22" >TGF-beta Signaling</text>
<text x="131.20" y="382.90" font-size="6.15" text-anchor="middle" fill="#2b2b2b" font-weight="normal" stroke="#2b2b2b" stroke-width="0.22" >NK activated</text>
<text x="206.60" y="382.90" font-size="6.15" text-anchor="middle" fill="#2b2b2b" font-weight="normal" stroke="#2b2b2b" stroke-width="0.22" >CD8 Activated</text>
<text x="281.80" y="375.10" font-size="6.15" text-anchor="middle" fill="#2b2b2b" font-weight="normal" stroke="#2b2b2b" stroke-width="0.22" >Activated CD8</text>
<text x="281.80" y="382.40" font-size="6.15" text-anchor="middle" fill="#2b2b2b" font-weight="normal" stroke="#2b2b2b" stroke-width="0.22" >(MHCII)</text>
<text x="357.40" y="375.10" font-size="6.15" text-anchor="middle" fill="#2b2b2b" font-weight="normal" stroke="#2b2b2b" stroke-width="0.22" >Activated CD8</text>
<text x="357.40" y="382.40" font-size="6.15" text-anchor="middle" fill="#2b2b2b" font-weight="normal" stroke="#2b2b2b" stroke-width="0.22" >(ISG)</text>
<circle cx="399.0" cy="387.7" r="1.95" fill="#111"/>
<text x="403.50" y="389.50" font-size="5.85" text-anchor="start" fill="#2b2b2b" font-weight="normal" stroke="#2b2b2b" stroke-width="0.22" >Diagnosis</text>
<circle cx="393.4" cy="397.9" r="1.95" fill="#111"/>
<circle cx="399.0" cy="397.9" r="1.95" fill="#111"/>
<text x="403.50" y="400.10" font-size="5.85" text-anchor="start" fill="#2b2b2b" font-weight="normal" stroke="#2b2b2b" stroke-width="0.22" >Posttransplant relapse</text>
<text x="401.80" y="421.60" font-size="5.95" text-anchor="start" fill="#2b2b2b" font-weight="normal" stroke="#2b2b2b" stroke-width="0.22" >Combined</text>
<text x="401.80" y="428.70" font-size="5.95" text-anchor="start" fill="#2b2b2b" font-weight="normal" stroke="#2b2b2b" stroke-width="0.22" >enrichment score</text>
<defs><linearGradient id="cb" x1="0" y1="1" x2="0" y2="0"><stop offset="0.00" stop-color="#f9af76"/><stop offset="0.05" stop-color="#f8a16d"/><stop offset="0.10" stop-color="#f79264"/><stop offset="0.15" stop-color="#f6835c"/><stop offset="0.20" stop-color="#f57454"/><stop offset="0.25" stop-color="#f4664f"/><stop offset="0.30" stop-color="#f3594d"/><stop offset="0.35" stop-color="#f04c4f"/><stop offset="0.40" stop-color="#ec4055"/><stop offset="0.45" stop-color="#e4385d"/><stop offset="0.50" stop-color="#d93365"/><stop offset="0.55" stop-color="#cb306b"/><stop offset="0.60" stop-color="#bc2d6f"/><stop offset="0.65" stop-color="#ac2b72"/><stop offset="0.70" stop-color="#9d2874"/><stop offset="0.75" stop-color="#8e2675"/><stop offset="0.80" stop-color="#812474"/><stop offset="0.85" stop-color="#742373"/><stop offset="0.90" stop-color="#65216f"/><stop offset="0.95" stop-color="#581e6b"/><stop offset="1.00" stop-color="#4b1b67"/></linearGradient></defs>
<rect x="403.0" y="438.5" width="9.8" height="103.29999999999995" fill="url(#cb)"/>
<line x1="412.8" y1="541.80" x2="415.0" y2="541.80" stroke="#222" stroke-width="0.8"/>
<text x="417.80" y="543.90" font-size="5.85" text-anchor="start" fill="#2b2b2b" font-weight="normal" stroke="#2b2b2b" stroke-width="0.22" >0</text>
<line x1="412.8" y1="521.14" x2="415.0" y2="521.14" stroke="#222" stroke-width="0.8"/>
<text x="417.80" y="523.24" font-size="5.85" text-anchor="start" fill="#2b2b2b" font-weight="normal" stroke="#2b2b2b" stroke-width="0.22" >20</text>
<line x1="412.8" y1="500.48" x2="415.0" y2="500.48" stroke="#222" stroke-width="0.8"/>
<text x="417.80" y="502.58" font-size="5.85" text-anchor="start" fill="#2b2b2b" font-weight="normal" stroke="#2b2b2b" stroke-width="0.22" >40</text>
<line x1="412.8" y1="479.82" x2="415.0" y2="479.82" stroke="#222" stroke-width="0.8"/>
<text x="417.80" y="481.92" font-size="5.85" text-anchor="start" fill="#2b2b2b" font-weight="normal" stroke="#2b2b2b" stroke-width="0.22" >60</text>
<line x1="412.8" y1="459.16" x2="415.0" y2="459.16" stroke="#222" stroke-width="0.8"/>
<text x="417.80" y="461.26" font-size="5.85" text-anchor="start" fill="#2b2b2b" font-weight="normal" stroke="#2b2b2b" stroke-width="0.22" >80</text>
<line x1="412.8" y1="438.50" x2="415.0" y2="438.50" stroke="#222" stroke-width="0.8"/>
<text x="417.80" y="440.60" font-size="5.85" text-anchor="start" fill="#2b2b2b" font-weight="normal" stroke="#2b2b2b" stroke-width="0.22" >100</text>
<line x1="403" y1="438.5" x2="412.8" y2="438.5" stroke="#333" stroke-width="0.7"/>
<line x1="403" y1="541.8" x2="412.8" y2="541.8" stroke="#333" stroke-width="0.7"/>
<defs><filter id="soft" x="-10%" y="-10%" width="120%" height="120%"><feGaussianBlur stdDeviation="1.0"/></filter></defs>
<g filter="url(#soft)">
<polygon points="30,140 32,134 36,130.5 42,131 47,134 51,139 55,145 56,152 52,158 48,164 43,167 37,164 33,158 30,150" fill="#8a8a8a" fill-opacity="0.9"/>
<polygon points="34,164 40,163 48,163 52,168 51,176 46,180 38,180 34,174" fill="#8f8a96" fill-opacity="0.7"/>
<polygon points="31,178 34,173 42,173 50,179 56,186 63,189 68,193 71,200 70,210 66,215 58,218 46,220 36,217 32,208 30,195" fill="#c07474" fill-opacity="0.9"/>
<polygon points="30,176 34,171 45,172 48,180 43,190 40,205 38,217 33,212 30,195" fill="#959090" fill-opacity="0.75"/>
<polygon points="54,196 62,190 68,193 71,200 70,210 66,215 58,218 52,214 51,204" fill="#e24a40" fill-opacity="0.8"/>
<polygon points="50,177 58,176 63,182 62,189 55,188 50,184" fill="#ffffff" fill-opacity="0.8"/>
<polygon points="50,150 58,143 63.5,141.5 73.8,131.2 85.4,126.5 97,124.8 104,120 104,135 100,145 90,150 78,152 65,154 55,158" fill="#76aeb8" fill-opacity="0.8"/>
<ellipse cx="91.0" cy="140.5" rx="5.0" ry="4.0" transform="rotate(0 91.0 140.5)" fill="#b0b85a" fill-opacity="0.6"/>
<polygon points="100,120 106,116 120,116 126,120 133.75,131 136,142.5 133,152 125,155 112,152 100,152 98,140" fill="#a0a8a8" fill-opacity="0.12"/>
<ellipse cx="121.0" cy="131.0" rx="5.0" ry="4.0" transform="rotate(0 121.0 131.0)" fill="#de8a4a" fill-opacity="0.7"/>
<polygon points="82,156 88,151 96,150 103,152 104,160 103,171 96,174 88,173 82,168 80,162" fill="#c8645a" fill-opacity="0.65"/>
<polygon points="103,152 110,149 118,150 124,154 127,162 126,172 123,178 116,180 108,178 104,173 103,162" fill="#d88c50" fill-opacity="0.65"/>
<polygon points="52,158 65,155 82,154 84,170 80,180 72,186 62,182 52,178 48,168" fill="#b0b0b0" fill-opacity="0.12"/>
<ellipse cx="69.0" cy="181.0" rx="6.0" ry="4.5" transform="rotate(0 69.0 181.0)" fill="#a8ac70" fill-opacity="0.55"/>
<ellipse cx="141.5" cy="170.5" rx="19.0" ry="11.5" transform="rotate(50 141.5 170.5)" fill="#2a78b4" fill-opacity="0.9"/>
<polygon points="104.5,97 107.5,96.5 110.5,101 112.5,107 114.5,99 118,97 120,101 120,110 119,117 112,118 107,117 105.5,108" fill="#ad8298" fill-opacity="0.7"/>
<polygon points="128.5,113.5 133,108.5 137,104.5 139,105.5 135,111 130,116" fill="#bc6c40" fill-opacity="0.8"/>
</g>
<path d="M88.8 152.9h0M84.2 162.2h0M93.0 169.9h0M86.2 155.2h0M91.2 152.5h0M97.7 169.6h0M91.9 168.2h0M92.4 159.4h0M103.8 163.9h0M95.3 164.6h0M82.4 164.5h0M84.0 159.1h0M91.5 170.3h0M102.4 158.4h0M84.4 155.3h0M104.0 158.2h0M95.0 154.3h0M101.5 166.8h0M91.5 160.1h0M83.5 161.9h0M92.9 156.5h0M97.5 163.3h0M86.1 152.7h0M93.3 162.4h0" stroke="#a8786c" stroke-width="1.20" stroke-linecap="round" fill="none"/>
<path d="M129.6 142.7h0M131.8 142.2h0M107.3 144.1h0M112.4 144.2h0M127.8 132.8h0M122.1 132.3h0M111.9 124.3h0M118.6 120.9h0M131.9 127.2h0M118.3 117.4h0M109.0 130.3h0M133.7 136.7h0M113.0 125.4h0M120.7 140.5h0M121.2 151.6h0M115.7 144.2h0M135.4 136.1h0M119.5 145.4h0M131.4 142.2h0M102.7 148.9h0M106.2 133.5h0M118.9 152.6h0M109.3 137.1h0M103.4 137.9h0M109.0 134.3h0M117.8 145.7h0M124.8 131.0h0M108.5 119.5h0M114.7 136.3h0M104.9 119.5h0" stroke="#838a8a" stroke-width="1.20" stroke-linecap="round" fill="none"/>
<path d="M50.5 218.6h0M33.3 206.2h0M45.3 206.8h0M56.8 211.6h0M50.9 192.1h0M43.0 185.5h0M39.9 196.0h0M49.7 203.7h0M44.1 194.1h0M44.1 182.7h0M60.0 190.5h0M32.8 188.0h0M50.8 182.4h0M42.1 201.5h0M60.9 209.1h0M36.2 186.6h0M61.7 209.9h0M122.7 123.3h0M45.8 207.1h0M52.1 205.7h0M57.9 186.6h0M55.3 185.1h0M125.3 123.1h0M39.8 175.1h0M36.4 205.4h0M51.7 211.7h0M31.2 199.7h0M107.0 148.6h0M44.4 192.2h0M62.4 214.2h0M35.6 196.6h0M34.6 214.5h0M32.0 187.4h0M33.8 199.6h0M38.8 202.8h0M62.3 195.1h0M68.3 197.9h0M53.8 191.1h0M53.2 209.9h0M44.0 181.7h0M42.8 192.6h0M58.0 216.3h0M38.3 214.6h0M99.0 137.0h0M36.5 197.6h0M65.4 196.5h0M60.8 188.1h0M47.7 218.4h0M56.0 212.0h0M66.0 214.4h0M48.6 192.0h0M33.2 207.7h0M34.4 197.1h0M37.7 194.4h0M57.3 190.3h0M45.8 189.6h0M48.2 217.7h0M35.3 214.7h0M42.0 206.6h0M37.6 207.9h0M53.8 189.4h0M51.2 214.8h0M35.1 173.6h0M59.5 211.2h0M54.9 189.4h0M45.1 194.8h0M35.3 209.5h0M33.0 211.8h0M39.9 185.0h0M50.1 197.1h0M108.3 130.0h0M54.5 212.8h0M119.6 128.9h0M64.3 203.0h0M38.9 209.0h0M52.7 217.7h0M67.5 211.3h0M65.1 214.6h0M45.9 210.5h0M45.5 219.2h0M44.5 206.2h0M120.9 128.1h0M30.9 193.6h0M35.9 213.3h0M45.4 197.8h0M36.4 175.7h0M58.5 190.7h0M34.0 188.0h0M101.9 132.0h0M43.7 217.0h0M50.7 181.4h0" stroke="#9c7878" stroke-width="1.20" stroke-linecap="round" fill="none"/>
<path d="M120.9 117.4h0M109.1 123.0h0M63.9 159.7h0M81.1 165.8h0M57.2 156.2h0M110.8 152.7h0M131.6 135.8h0M61.7 155.8h0M128.1 153.0h0M112.2 143.3h0M122.9 128.8h0M108.5 131.2h0M104.7 151.0h0M82.9 166.9h0M122.0 151.0h0M100.6 123.9h0M56.3 163.5h0M119.8 153.0h0M81.8 166.3h0M99.1 138.8h0M75.0 183.7h0M100.2 128.1h0M118.3 129.5h0M126.7 143.1h0M68.6 168.0h0M114.2 145.5h0M54.7 169.4h0M121.9 125.6h0M104.4 150.7h0M113.6 139.9h0M72.6 164.3h0M120.4 149.7h0M79.6 169.6h0M112.1 120.9h0M76.1 182.4h0M81.8 161.3h0M100.6 128.6h0M110.2 139.8h0M134.8 146.1h0M124.5 138.2h0M67.6 174.2h0M113.8 120.5h0M117.3 128.2h0M100.8 151.9h0M55.7 162.9h0M77.8 170.6h0M57.7 167.3h0M118.2 129.2h0M99.8 148.0h0M48.3 170.0h0M114.6 123.3h0M127.3 142.8h0M64.7 157.6h0M83.1 164.4h0M78.0 159.6h0M113.0 118.1h0M114.4 133.4h0M127.4 132.8h0M127.5 140.2h0M116.7 135.1h0M124.4 135.7h0M118.3 128.6h0M115.6 139.1h0M122.9 121.4h0M68.1 182.3h0M71.3 184.9h0M68.3 184.4h0M124.1 149.2h0M59.0 158.3h0M111.3 133.2h0M113.3 130.7h0M80.8 175.0h0M126.0 130.1h0M127.5 143.6h0M63.9 169.5h0M133.3 132.0h0M62.9 162.7h0M99.8 151.9h0M108.1 146.5h0M120.7 134.1h0M78.9 174.0h0M75.2 179.2h0M122.2 139.7h0M73.6 155.1h0M118.6 124.0h0" stroke="#909090" stroke-width="1.20" stroke-linecap="round" fill="none"/>
<path d="M87.2 125.7h0M77.4 150.6h0M99.0 132.2h0M71.8 147.6h0M66.1 147.2h0M101.2 124.9h0M103.1 130.5h0M76.4 152.9h0M79.4 149.0h0M93.9 140.1h0M62.4 149.9h0M92.3 126.0h0M93.3 135.4h0M81.1 145.7h0M62.7 148.1h0M83.9 139.3h0M75.9 137.8h0M90.3 125.6h0M74.3 141.4h0M88.3 125.5h0M72.5 147.1h0M83.0 145.1h0M95.8 141.3h0M75.5 137.9h0M53.5 153.6h0M96.5 139.7h0M75.2 144.0h0M84.3 146.4h0M99.7 132.3h0" stroke="#78909c" stroke-width="1.20" stroke-linecap="round" fill="none"/>
<path d="M126.6 158.5h0M138.3 167.4h0M152.2 181.5h0M144.9 162.0h0M131.1 164.9h0M133.9 174.6h0M133.8 173.6h0M149.2 161.2h0M147.1 176.2h0M144.1 167.4h0M145.4 164.9h0M136.5 177.2h0M142.5 178.8h0M153.6 172.9h0M152.3 176.7h0M136.9 166.4h0M141.1 164.8h0M132.1 158.2h0M143.0 185.9h0M145.1 171.5h0M130.5 169.6h0M128.5 161.8h0M144.8 171.2h0M139.0 172.5h0M129.5 166.3h0M154.0 182.2h0M146.0 172.0h0M145.2 177.4h0M143.7 163.3h0M152.8 181.7h0M145.8 161.9h0" stroke="#226294" stroke-width="1.20" stroke-linecap="round" fill="none"/>
<path d="M33.2 179.8h0M52.8 186.3h0M32.8 200.3h0M51.8 198.3h0M40.8 185.5h0M62.7 194.8h0M64.6 191.3h0M66.5 195.8h0M47.2 210.7h0M59.5 190.3h0M67.9 208.7h0M47.1 213.0h0M42.2 174.4h0M61.7 208.1h0M38.6 188.3h0M46.0 214.6h0M59.2 206.4h0M36.8 207.1h0M35.6 189.0h0M33.7 177.1h0M54.2 190.1h0M51.2 205.5h0M50.0 200.6h0M52.9 189.8h0M36.6 189.6h0M35.9 209.1h0M45.6 191.8h0M40.6 206.4h0M54.5 189.3h0M53.1 200.1h0M62.1 190.9h0M55.2 203.7h0M47.9 181.8h0M59.8 191.6h0M31.3 205.9h0M55.2 199.9h0M62.2 213.0h0M47.1 188.7h0M34.4 179.7h0M35.5 201.7h0M53.2 188.4h0M33.4 198.9h0M69.6 207.3h0M70.1 196.3h0M40.2 182.0h0M68.3 207.0h0M49.3 179.1h0M64.8 211.3h0M49.9 193.6h0M62.6 216.3h0M48.1 199.6h0M58.9 193.0h0M64.4 192.0h0M67.1 201.9h0M58.7 208.1h0M37.8 187.3h0M37.3 212.6h0M67.1 200.5h0M35.6 205.3h0M43.6 175.4h0M47.0 210.3h0" stroke="#9d5f5f" stroke-width="1.20" stroke-linecap="round" fill="none"/>
<path d="M101.4 144.0h0M34.2 151.9h0M54.5 153.9h0M123.6 140.6h0M29.8 147.3h0M31.6 133.6h0M43.3 163.8h0M113.8 133.2h0M37.4 157.9h0M32.1 139.9h0M111.7 120.0h0M124.6 148.0h0M111.2 151.9h0M38.9 150.6h0M34.7 158.4h0M36.2 152.6h0M51.3 157.8h0M42.9 155.4h0M33.2 144.7h0M42.5 131.8h0M111.9 133.8h0M100.7 144.9h0M32.7 139.3h0M113.7 120.9h0M42.9 138.1h0M34.4 147.8h0M35.0 135.9h0M46.2 146.2h0M34.7 134.6h0M124.7 130.8h0M39.2 134.4h0M42.4 165.6h0M54.8 143.9h0M46.7 143.4h0M51.9 159.2h0M33.7 146.2h0M39.0 130.9h0M56.0 150.6h0M30.6 147.8h0M42.1 134.3h0M44.7 158.7h0M43.3 131.3h0M133.1 135.0h0M29.3 148.5h0M42.6 130.7h0M43.4 147.4h0M35.8 139.6h0M49.5 137.3h0M121.7 151.5h0M42.3 133.8h0M43.1 153.7h0M39.4 148.9h0M132.7 147.8h0M43.3 131.8h0M43.3 156.1h0M32.6 138.2h0M45.1 142.2h0M46.5 155.6h0M34.5 143.6h0M50.3 153.2h0M33.1 137.5h0M33.8 159.1h0M38.5 145.8h0M36.7 134.7h0M51.2 158.2h0M110.8 123.0h0M113.0 151.2h0M105.1 150.8h0M44.9 156.4h0M116.8 134.3h0M41.6 141.2h0M124.1 142.6h0M31.7 145.0h0M128.0 145.1h0M37.7 143.3h0M36.0 139.1h0M45.4 155.0h0M120.8 128.9h0M108.0 148.0h0M38.7 139.8h0M49.3 137.5h0M51.9 146.2h0M51.9 140.6h0M51.8 139.4h0M118.8 154.1h0M43.0 150.0h0" stroke="#848484" stroke-width="1.20" stroke-linecap="round" fill="none"/>
<path d="M50.5 172.3h0M45.8 166.2h0M46.0 166.9h0M37.1 175.1h0M34.3 172.8h0M45.6 176.8h0M46.2 177.8h0M44.6 178.8h0M42.7 163.4h0M41.1 171.8h0M51.4 166.6h0M49.4 169.7h0M40.6 174.9h0M47.0 177.6h0M36.0 177.6h0M38.2 162.9h0M42.3 166.1h0M43.4 162.6h0M49.3 176.8h0M49.2 163.7h0" stroke="#848490" stroke-width="1.20" stroke-linecap="round" fill="none"/>
<path d="M40.8 151.9h0M43.0 136.5h0M44.5 165.0h0M37.8 141.4h0M43.7 151.9h0M34.6 141.9h0M35.5 130.9h0M37.7 130.6h0M32.6 139.1h0M45.3 149.9h0M32.7 135.5h0M45.2 163.3h0M43.1 137.6h0M43.1 150.1h0M47.4 135.2h0M29.5 142.2h0M53.3 141.7h0M33.5 157.0h0M40.9 161.2h0M37.0 139.0h0M29.7 147.2h0M35.2 143.8h0M42.3 160.9h0M31.7 153.4h0M43.4 153.2h0M30.0 140.4h0" stroke="#717171" stroke-width="1.20" stroke-linecap="round" fill="none"/>
<path d="M48.4 165.5h0M79.3 171.8h0M73.4 165.5h0M82.8 163.7h0M56.1 164.4h0M75.6 170.3h0M79.8 160.8h0M61.6 168.5h0M83.6 169.4h0M77.7 178.9h0M55.7 178.3h0M72.5 167.0h0M58.8 178.6h0M59.5 168.6h0M62.5 181.5h0M67.8 176.8h0M57.1 177.4h0M71.1 176.7h0M65.9 159.4h0M69.3 179.2h0M64.0 155.3h0M74.5 184.9h0M80.2 174.2h0M77.8 176.6h0M75.0 166.7h0M58.6 160.5h0M53.9 158.6h0M58.6 164.1h0M62.3 159.1h0M57.8 157.4h0M67.9 176.2h0M80.4 156.4h0M58.0 167.2h0M68.0 175.7h0" stroke="#9c9c9c" stroke-width="1.20" stroke-linecap="round" fill="none"/>
<path d="M73.0 155.9h0M70.2 170.3h0M53.4 171.0h0M51.9 174.9h0M59.0 156.1h0M50.7 175.7h0" stroke="#cc606c" stroke-width="1.20" stroke-linecap="round" fill="none"/>
<path d="M44.2 214.1h0M64.9 207.0h0M52.9 197.0h0M54.2 200.2h0M38.3 183.1h0M61.2 215.5h0M56.8 211.3h0M51.7 197.7h0M70.2 201.4h0M48.2 199.9h0M44.6 195.0h0M39.6 175.6h0M33.0 184.1h0M38.0 172.9h0M36.5 187.4h0M34.6 183.9h0M40.1 213.9h0M36.8 208.1h0M55.9 188.5h0M40.8 198.6h0M64.2 203.7h0M68.4 207.3h0M36.0 189.4h0M51.8 218.2h0M48.8 209.4h0M63.4 213.8h0M63.8 194.5h0M43.7 190.7h0M53.4 182.8h0M69.6 205.1h0M43.2 182.7h0M45.7 193.6h0M42.4 191.2h0M38.8 178.4h0M42.8 190.1h0M48.0 204.3h0M36.2 180.5h0M42.1 209.3h0M44.8 181.8h0M63.1 216.6h0M31.0 190.8h0M44.1 199.0h0M59.8 189.2h0M40.6 182.1h0M42.9 202.8h0M50.3 216.8h0M31.2 191.3h0M60.7 191.7h0M38.6 187.3h0M66.9 195.8h0M35.0 201.0h0M37.0 202.8h0M59.5 190.8h0M40.9 184.4h0M58.0 190.7h0M48.9 216.9h0M51.0 217.3h0M40.9 189.9h0M40.7 212.8h0M52.5 213.0h0M58.6 208.5h0M40.3 209.7h0M52.9 194.0h0M44.2 190.9h0M59.1 194.0h0M42.0 200.5h0M47.3 217.4h0M64.4 197.1h0M69.4 204.1h0M39.6 177.6h0M33.5 190.1h0M38.9 194.2h0M38.2 212.9h0M61.0 203.4h0M65.4 213.4h0M33.7 179.7h0M33.0 208.8h0M39.9 184.2h0M54.2 196.4h0M46.9 195.2h0M39.4 180.6h0M56.9 198.4h0M66.0 201.3h0M44.8 179.5h0M34.2 196.3h0M31.1 180.5h0M31.0 202.3h0M34.1 212.5h0M43.6 187.9h0M32.2 193.3h0M64.4 210.8h0M34.4 191.9h0M36.9 215.4h0M55.7 214.6h0M32.1 201.5h0M46.4 182.1h0M65.2 202.3h0M39.5 183.0h0M37.3 207.3h0M46.2 197.1h0M45.6 219.0h0M39.8 213.3h0M58.3 189.2h0M49.1 180.2h0M61.0 213.7h0M37.1 212.3h0M57.4 197.2h0M35.0 212.5h0" stroke="#d84848" stroke-width="1.20" stroke-linecap="round" fill="none"/>
<path d="M113.8 171.3h0M105.6 158.5h0M108.2 151.6h0M110.9 168.5h0M113.5 152.0h0M124.7 154.6h0M122.9 156.4h0" stroke="#d8543c" stroke-width="1.20" stroke-linecap="round" fill="none"/>
<path d="M103.5 164.0h0M122.7 165.4h0M104.5 160.8h0M103.4 153.5h0M121.0 159.9h0M125.6 163.5h0M127.4 162.6h0M105.2 170.0h0M124.4 166.2h0M127.6 163.0h0M107.2 150.6h0M107.1 166.4h0M105.0 170.7h0M112.4 148.6h0M110.7 163.5h0M108.5 157.9h0M125.7 173.7h0M113.1 155.6h0M114.8 150.0h0M106.7 154.2h0M106.3 170.8h0M122.1 156.0h0M118.8 165.1h0M102.7 151.9h0M105.8 153.2h0M109.2 152.8h0M118.0 169.2h0" stroke="#a8846c" stroke-width="1.20" stroke-linecap="round" fill="none"/>
<path d="M74.1 133.4h0M88.0 146.3h0M103.2 129.9h0M101.2 129.6h0M87.6 143.6h0M87.5 126.6h0M61.4 142.5h0M80.9 135.3h0M78.3 143.1h0M87.2 127.2h0M86.3 126.1h0M77.0 152.4h0M72.0 133.6h0M76.7 145.6h0M83.1 143.8h0M75.6 140.2h0M54.5 155.4h0M70.3 143.0h0M88.5 143.0h0M57.3 149.2h0M93.4 131.8h0M93.4 138.7h0M101.0 126.2h0M77.8 142.5h0M54.3 156.5h0M64.8 145.6h0M63.0 150.7h0M98.2 131.9h0M79.2 135.5h0M79.9 141.0h0" stroke="#618f97" stroke-width="1.20" stroke-linecap="round" fill="none"/>
<path d="M71.9 141.3h0M78.0 149.7h0M69.7 135.1h0M61.6 149.3h0M55.8 154.2h0M54.7 147.7h0M57.4 157.2h0M91.1 139.7h0M77.8 147.8h0M67.1 139.5h0M81.5 128.0h0M72.6 147.3h0M93.5 137.8h0M81.9 138.7h0M90.8 135.0h0M82.3 151.8h0M89.2 132.4h0M75.8 130.3h0M73.9 131.5h0M94.3 132.7h0M78.5 144.1h0M71.3 149.7h0M55.4 146.5h0M73.7 135.8h0M56.1 154.8h0M74.5 134.9h0M88.2 126.3h0M90.6 134.1h0M64.5 154.3h0M79.5 147.3h0M53.8 146.9h0M81.8 130.2h0M78.1 144.7h0M79.0 150.2h0M78.5 140.0h0M70.4 150.9h0M85.5 140.9h0M85.2 149.8h0M59.4 145.3h0M90.9 126.5h0M76.6 148.9h0M93.0 142.1h0M75.0 140.9h0M63.7 142.5h0M54.1 152.5h0M63.2 150.5h0M75.4 137.6h0M83.3 133.1h0M82.5 133.7h0M88.6 144.9h0M85.2 145.0h0M98.4 145.0h0M90.7 145.6h0M68.9 138.6h0M72.3 133.5h0" stroke="#48a8b4" stroke-width="1.20" stroke-linecap="round" fill="none"/>
<path d="M111.3 174.4h0M103.7 154.1h0M117.7 166.2h0M109.7 160.1h0M119.3 162.6h0M125.0 167.5h0M105.4 171.1h0M118.8 176.0h0M111.9 174.9h0M110.3 159.3h0M112.0 153.4h0M122.0 171.9h0M116.8 165.5h0M106.1 154.9h0M124.8 163.7h0M110.7 176.6h0M113.7 152.8h0M121.4 152.9h0M120.2 161.3h0M120.0 162.7h0M120.3 160.4h0M105.9 169.5h0M112.1 174.9h0M107.1 174.8h0M127.0 168.7h0M113.9 177.5h0M119.0 179.4h0M112.0 173.7h0M107.1 165.5h0M115.0 173.1h0M106.3 157.6h0M106.5 175.3h0M107.6 167.3h0M117.1 172.8h0M126.5 164.5h0M118.1 172.8h0M113.0 167.4h0M104.0 151.5h0M110.0 170.8h0M119.2 164.6h0M113.0 174.6h0" stroke="#e48430" stroke-width="1.20" stroke-linecap="round" fill="none"/>
<path d="M76.1 156.3h0M72.2 179.8h0M65.5 156.3h0M73.1 157.9h0M65.1 160.7h0M81.0 161.9h0M77.0 160.9h0M69.3 155.0h0" stroke="#6ca878" stroke-width="1.20" stroke-linecap="round" fill="none"/>
<path d="M130.5 162.4h0M150.3 162.5h0M131.3 167.6h0M143.2 163.5h0M126.8 161.9h0M150.4 170.4h0M143.0 161.4h0M155.7 177.2h0M138.1 166.5h0M142.6 157.7h0M130.3 154.6h0M148.2 187.2h0M149.0 181.7h0M150.4 171.9h0M145.0 166.2h0M127.0 163.6h0M131.5 173.7h0M131.3 174.9h0M132.2 157.9h0M156.7 180.3h0M136.8 179.9h0M135.5 170.2h0M143.8 167.5h0M127.4 163.0h0M149.3 183.0h0M150.0 166.0h0M144.9 186.6h0M143.4 180.3h0M150.4 178.2h0M134.6 164.2h0M132.6 153.9h0M149.8 161.9h0M138.2 183.7h0M133.6 174.7h0M129.2 165.8h0M137.3 175.0h0M150.1 167.1h0M149.4 180.2h0M131.8 166.0h0M127.3 170.1h0M139.2 169.6h0M143.3 175.4h0M142.0 161.9h0M144.5 183.3h0M155.2 175.0h0M140.2 171.6h0M127.7 156.6h0M142.8 159.2h0M139.5 178.7h0M130.1 166.2h0M134.8 170.3h0M147.0 166.9h0M148.5 173.2h0M143.6 184.4h0M143.5 157.1h0M150.0 176.1h0M137.1 164.0h0M131.0 170.0h0M138.0 166.8h0M146.2 185.0h0M142.5 162.5h0M143.3 181.4h0M130.8 174.1h0M151.5 175.8h0M141.2 162.8h0M138.8 177.2h0M137.6 158.7h0M153.0 172.1h0M130.7 160.7h0M146.8 162.6h0M145.1 173.4h0M143.2 185.2h0M135.9 174.2h0" stroke="#2478b4" stroke-width="1.20" stroke-linecap="round" fill="none"/>
<path d="M115.3 117.5h0M119.2 117.6h0M120.4 109.0h0M120.4 109.2h0M118.6 115.6h0M106.9 117.3h0M119.7 104.0h0M117.8 105.8h0M104.9 104.1h0" stroke="#8e6b7d" stroke-width="1.20" stroke-linecap="round" fill="none"/>
<path d="M102.0 160.0h0M89.9 153.6h0M92.3 166.9h0M82.2 158.0h0M102.9 169.2h0M85.1 156.4h0M84.8 154.5h0M87.1 172.9h0M92.6 167.4h0M103.6 166.9h0M90.1 173.7h0M97.6 172.6h0M92.0 153.6h0M82.9 154.5h0M103.7 154.8h0M91.8 150.7h0M90.5 166.8h0M101.2 161.8h0M93.1 169.6h0M92.0 156.0h0M102.1 166.9h0M95.5 167.7h0M89.3 166.7h0M88.6 166.5h0M102.0 156.6h0M98.6 163.0h0M104.3 163.1h0M82.2 159.9h0M90.8 173.5h0M100.4 156.1h0M89.6 168.2h0M100.6 164.4h0M90.2 172.2h0M99.9 171.3h0M83.5 154.3h0M100.8 155.6h0M88.9 160.7h0" stroke="#d83c3c" stroke-width="1.20" stroke-linecap="round" fill="none"/>
<path d="M48.4 184.3h0M67.3 200.8h0M45.2 197.6h0M38.7 181.1h0M33.6 184.4h0M47.5 205.2h0M56.2 189.9h0M50.3 201.3h0M34.8 206.5h0M48.7 207.3h0M53.9 188.4h0" stroke="#cc789c" stroke-width="1.20" stroke-linecap="round" fill="none"/>
<path d="M69.5 150.2h0M77.4 144.1h0M86.4 126.4h0M103.7 127.7h0M72.3 149.5h0M91.2 136.5h0" stroke="#a8606c" stroke-width="1.20" stroke-linecap="round" fill="none"/>
<path d="M66.7 171.0h0M128.6 142.8h0M58.6 159.4h0M59.3 161.2h0M123.8 132.8h0M128.9 139.7h0M84.1 167.6h0M113.7 132.5h0M62.7 166.1h0M78.4 155.1h0M61.6 175.6h0" stroke="#9cc0c0" stroke-width="1.20" stroke-linecap="round" fill="none"/>
<path d="M43.3 137.0h0M45.6 153.3h0M41.3 136.7h0M41.7 150.0h0M36.6 134.7h0M47.6 165.0h0M50.9 138.2h0M43.6 155.7h0M31.9 148.7h0M50.5 149.1h0M43.1 144.1h0M32.1 153.9h0M42.9 161.5h0M38.6 140.1h0M51.1 150.6h0M53.8 153.6h0M36.7 139.2h0M49.9 147.9h0M32.8 146.1h0M48.2 145.9h0M43.2 141.9h0" stroke="#787878" stroke-width="1.20" stroke-linecap="round" fill="none"/>
<path d="M101.0 143.5h0M90.6 146.9h0M62.1 154.4h0M65.9 151.5h0M91.7 147.5h0M65.9 148.1h0M64.7 144.4h0M86.9 135.5h0M55.3 149.9h0M84.6 142.3h0M75.7 148.5h0M57.1 147.5h0" stroke="#48a878" stroke-width="1.20" stroke-linecap="round" fill="none"/>
<path d="M94.3 167.3h0M83.9 160.0h0M83.4 165.6h0M85.6 152.4h0M100.7 165.1h0M93.9 164.2h0M95.8 166.3h0M85.4 171.2h0M102.0 158.3h0M92.9 161.8h0M86.6 166.7h0M94.3 173.4h0M81.9 164.5h0M94.9 171.5h0M102.6 162.8h0M89.0 156.0h0M81.7 160.5h0M97.1 171.2h0M92.5 155.0h0M103.1 162.2h0M97.1 162.8h0M99.5 159.3h0M94.2 159.6h0M99.2 160.7h0M84.9 170.0h0M81.4 168.1h0M85.3 166.2h0" stroke="#a4524a" stroke-width="1.20" stroke-linecap="round" fill="none"/>
<path d="M117.0 117.1h0M103.1 137.3h0M107.7 145.5h0M119.1 145.2h0M132.1 147.9h0M104.1 129.3h0M105.6 126.7h0M120.2 126.2h0M123.8 150.5h0M101.2 138.5h0M119.0 141.8h0M116.2 118.0h0M113.5 139.1h0M118.1 128.2h0M133.0 147.7h0M99.3 135.8h0M103.9 126.6h0M132.3 146.7h0" stroke="#cc9060" stroke-width="1.20" stroke-linecap="round" fill="none"/>
<path d="M67.1 181.1h0M69.6 184.2h0M64.6 177.6h0M71.3 180.3h0" stroke="#909078" stroke-width="1.20" stroke-linecap="round" fill="none"/>
<path d="M135.4 159.8h0M137.2 166.2h0M150.0 183.9h0M151.2 185.8h0M154.7 181.5h0M139.5 168.2h0" stroke="#246ca8" stroke-width="1.20" stroke-linecap="round" fill="none"/>
<path d="M42.4 203.2h0M58.3 206.6h0M32.2 199.4h0M64.1 205.2h0M52.5 189.4h0M45.1 208.0h0M54.7 200.2h0M35.4 216.8h0M46.8 196.6h0M43.0 207.0h0M68.2 207.8h0M66.4 211.1h0M31.8 205.1h0" stroke="#a86060" stroke-width="1.20" stroke-linecap="round" fill="none"/>
<path d="M78.4 168.8h0M120.4 142.2h0M125.6 150.0h0M105.6 116.4h0M129.4 137.7h0M61.3 176.5h0M73.4 159.6h0M119.5 130.1h0M117.5 132.6h0M109.2 146.1h0M114.7 144.1h0M130.2 152.5h0M70.0 154.2h0M52.9 170.9h0M61.8 182.5h0M116.7 138.8h0M121.3 129.6h0M105.6 125.7h0M134.0 136.7h0M127.1 133.5h0M51.5 165.0h0M108.4 139.3h0M101.1 126.1h0M113.2 146.1h0M58.4 166.9h0M119.9 119.9h0" stroke="#60a8b4" stroke-width="1.20" stroke-linecap="round" fill="none"/>
<path d="M72.3 150.0h0M87.1 134.4h0M97.8 141.9h0M95.8 125.8h0M96.5 141.6h0M94.9 140.9h0M90.1 134.4h0M81.4 133.0h0M62.2 154.6h0M86.6 144.1h0M100.2 123.6h0M71.7 150.7h0M68.5 150.3h0M79.6 133.4h0M73.5 136.0h0M78.6 141.1h0M63.3 152.1h0M103.4 129.6h0M79.2 147.4h0M86.5 135.1h0M102.7 130.7h0M92.2 128.9h0M72.9 143.2h0M104.0 133.8h0M84.8 150.9h0M99.7 125.9h0M73.7 137.4h0M98.0 129.5h0M94.6 138.5h0M83.3 149.5h0M71.9 140.5h0M80.6 134.9h0M87.0 142.3h0M83.6 128.4h0M59.9 147.2h0M87.4 140.3h0M53.8 148.7h0M51.6 153.9h0M63.5 152.5h0M68.7 137.6h0M78.6 151.5h0M58.2 148.8h0" stroke="#84c0cc" stroke-width="1.20" stroke-linecap="round" fill="none"/>
<path d="M38.7 187.8h0M42.6 182.5h0M31.5 177.9h0M44.7 175.6h0M34.2 181.3h0M38.7 183.3h0M30.2 190.5h0M34.7 214.0h0M47.6 179.2h0M39.1 188.1h0M37.2 215.9h0M36.2 186.2h0M45.9 179.9h0" stroke="#c05454" stroke-width="1.20" stroke-linecap="round" fill="none"/>
<path d="M41.9 183.4h0M40.0 189.5h0M41.3 179.2h0M45.2 181.7h0M37.3 202.1h0M35.8 178.0h0M46.9 180.7h0M35.5 171.9h0M45.3 182.0h0M33.1 174.4h0M37.6 179.4h0M39.1 184.0h0M32.4 194.1h0M39.8 188.6h0M32.0 197.9h0M37.4 184.9h0M38.1 209.8h0M39.1 193.7h0M40.4 191.7h0M39.4 177.5h0" stroke="#7a7676" stroke-width="1.20" stroke-linecap="round" fill="none"/>
<path d="M63.5 213.1h0M60.4 198.4h0M65.2 205.5h0M54.6 199.1h0M66.5 203.7h0M62.0 216.6h0M55.4 209.8h0M58.2 192.2h0M66.4 193.6h0M55.7 196.9h0M70.1 208.7h0M63.9 202.3h0M63.0 208.5h0M66.4 203.1h0M66.9 202.4h0M58.4 216.5h0M66.1 207.7h0M57.4 196.0h0M62.1 208.6h0M56.7 209.9h0M64.5 197.4h0M64.0 192.2h0M58.7 205.8h0M64.6 194.2h0M65.8 199.6h0M62.4 214.7h0M63.9 211.1h0M55.8 207.6h0M59.1 206.3h0" stroke="#e43030" stroke-width="1.20" stroke-linecap="round" fill="none"/>
<path d="M91.7 144.8h0M92.5 143.6h0" stroke="#9c9c6c" stroke-width="1.20" stroke-linecap="round" fill="none"/>
<path d="M107.6 114.8h0M115.0 115.0h0M110.2 107.0h0M111.9 106.6h0M112.4 118.0h0M118.8 110.5h0M107.6 111.7h0M116.5 103.4h0" stroke="#a86c6c" stroke-width="1.20" stroke-linecap="round" fill="none"/>
<path d="M36.5 194.5h0M32.9 176.7h0M35.5 172.8h0M34.5 207.1h0M41.6 188.1h0M35.8 190.1h0M44.7 175.2h0M33.3 212.0h0M34.3 199.3h0M41.9 175.3h0M42.7 173.4h0M37.5 179.4h0M32.8 173.5h0M39.2 185.6h0M34.0 198.2h0M42.0 174.6h0M31.1 183.3h0M41.4 197.0h0M32.8 177.5h0M42.9 178.5h0M43.6 181.3h0M29.9 193.0h0M32.9 194.0h0M39.0 190.1h0M38.4 176.9h0M41.7 176.7h0M36.2 213.0h0M32.2 206.4h0M40.3 204.9h0M34.2 209.7h0M36.3 191.6h0M37.5 178.1h0M32.5 176.7h0M41.5 193.2h0M36.2 206.1h0M30.4 194.3h0M33.4 191.7h0M34.7 205.7h0M36.2 199.0h0M30.3 188.3h0M34.5 173.1h0M33.8 207.5h0M35.8 175.4h0M42.2 190.8h0M40.3 180.8h0M43.4 181.0h0M30.4 182.8h0" stroke="#908484" stroke-width="1.20" stroke-linecap="round" fill="none"/>
<path d="M72.1 179.1h0M70.4 178.5h0M70.7 176.1h0M63.8 180.4h0M65.6 179.5h0" stroke="#8a8d5c" stroke-width="1.20" stroke-linecap="round" fill="none"/>
<path d="M43.1 180.3h0M42.4 164.9h0M47.3 166.7h0M40.8 176.8h0M50.9 176.9h0M33.4 165.8h0" stroke="#9078a8" stroke-width="1.20" stroke-linecap="round" fill="none"/>
<path d="M117.7 133.8h0M123.9 128.8h0M122.9 129.6h0M123.3 128.0h0M122.6 126.5h0M122.7 132.0h0M124.4 133.7h0" stroke="#f08430" stroke-width="1.20" stroke-linecap="round" fill="none"/>
<path d="M71.0 184.3h0M70.1 176.1h0" stroke="#60a854" stroke-width="1.20" stroke-linecap="round" fill="none"/>
<path d="M85.4 161.2h0M84.9 162.6h0M94.0 159.7h0M88.1 155.2h0M83.0 169.5h0M99.0 167.2h0M97.3 155.0h0M94.3 169.0h0M92.3 154.3h0M85.8 172.1h0" stroke="#d86c30" stroke-width="1.20" stroke-linecap="round" fill="none"/>
<path d="M43.6 176.0h0M42.8 171.5h0M35.3 174.0h0" stroke="#90a8c0" stroke-width="1.20" stroke-linecap="round" fill="none"/>
<path d="M119.4 174.5h0M105.6 160.4h0M119.0 162.8h0M104.9 160.5h0M105.8 174.5h0M125.2 158.0h0M119.3 151.8h0M111.9 153.6h0M112.0 167.6h0M113.1 175.4h0M116.4 154.4h0M116.9 156.0h0M121.8 170.9h0M106.6 176.8h0M105.8 166.6h0M106.5 175.9h0M111.4 156.8h0M103.6 169.7h0M124.0 155.6h0M114.3 158.1h0M116.7 179.5h0M109.1 177.0h0" stroke="#b17342" stroke-width="1.20" stroke-linecap="round" fill="none"/>
<path d="M51.2 173.5h0M44.0 177.0h0M50.5 171.9h0M44.1 178.4h0M34.0 164.4h0M45.0 168.0h0M50.1 171.2h0M49.4 167.7h0M39.5 170.2h0M36.2 163.1h0M38.2 176.1h0M44.8 179.6h0" stroke="#75717b" stroke-width="1.20" stroke-linecap="round" fill="none"/>
<path d="M93.7 139.8h0M94.5 143.5h0" stroke="#6ca848" stroke-width="1.20" stroke-linecap="round" fill="none"/>
<path d="M116.8 134.2h0M116.8 133.7h0M116.0 131.8h0" stroke="#b6713d" stroke-width="1.20" stroke-linecap="round" fill="none"/>
<path d="M38.2 186.2h0M57.4 202.9h0M53.6 208.5h0M42.3 207.5h0" stroke="#906c6c" stroke-width="1.20" stroke-linecap="round" fill="none"/>
<path d="M55.0 200.3h0M70.2 208.3h0M61.1 198.8h0M63.9 203.4h0M68.2 209.8h0M64.7 192.8h0M55.5 204.5h0M67.4 210.8h0M64.7 204.9h0M61.7 190.5h0M67.7 193.8h0M55.3 212.3h0" stroke="#b93d34" stroke-width="1.20" stroke-linecap="round" fill="none"/>
<path d="M98.2 126.3h0M77.4 131.7h0M93.7 137.4h0M85.5 135.5h0M59.2 153.6h0M86.6 144.0h0M71.7 138.0h0" stroke="#9cb46c" stroke-width="1.20" stroke-linecap="round" fill="none"/>
<path d="M109.3 107.4h0M106.8 106.1h0M118.4 111.7h0M109.3 99.9h0M108.4 115.7h0M116.7 103.4h0M120.3 106.0h0M106.2 101.8h0M108.4 106.6h0" stroke="#908490" stroke-width="1.20" stroke-linecap="round" fill="none"/>
<path d="M43.9 159.4h0" stroke="#90789c" stroke-width="1.20" stroke-linecap="round" fill="none"/>
<path d="M151.1 162.9h0M131.5 166.7h0M129.4 173.6h0M149.2 168.1h0M145.2 165.4h0M135.6 163.6h0M134.0 179.7h0" stroke="#54789c" stroke-width="1.20" stroke-linecap="round" fill="none"/>
<path d="M131.9 113.3h0M128.9 114.1h0M135.0 108.7h0" stroke="#a86048" stroke-width="1.20" stroke-linecap="round" fill="none"/>
<path d="M42.2 179.8h0M37.8 164.8h0M49.1 172.9h0M48.1 164.1h0M46.8 173.3h0M46.0 169.1h0" stroke="#549ca8" stroke-width="1.20" stroke-linecap="round" fill="none"/>
<path d="M64.8 181.4h0M68.2 176.4h0M65.3 181.1h0M62.3 182.1h0" stroke="#b4b448" stroke-width="1.20" stroke-linecap="round" fill="none"/>
<path d="M116.8 180.4h0M108.7 152.3h0M108.7 169.3h0M111.5 165.2h0M105.5 154.6h0M118.9 154.5h0M107.8 173.1h0M115.9 167.7h0" stroke="#789c84" stroke-width="1.20" stroke-linecap="round" fill="none"/>
<path d="M124.5 133.3h0M125.9 131.3h0M123.6 128.9h0" stroke="#a88460" stroke-width="1.20" stroke-linecap="round" fill="none"/>
<path d="M96.0 139.3h0M93.2 141.9h0M88.7 144.3h0M86.0 140.9h0M95.5 138.8h0M93.2 143.0h0" stroke="#c0c03c" stroke-width="1.20" stroke-linecap="round" fill="none"/>
<path d="M47.3 141.2h0M36.4 156.1h0" stroke="#b45454" stroke-width="1.20" stroke-linecap="round" fill="none"/>
<path d="M118.5 108.5h0M119.3 107.9h0M113.8 104.0h0M112.2 111.6h0" stroke="#a878a8" stroke-width="1.20" stroke-linecap="round" fill="none"/>
<path d="M31.7 146.6h0M37.9 161.7h0" stroke="#90a8b4" stroke-width="1.20" stroke-linecap="round" fill="none"/>
<path d="M137.8 105.4h0M133.1 111.6h0" stroke="#9a5934" stroke-width="1.20" stroke-linecap="round" fill="none"/>
<path d="M66.0 192.7h0M60.7 190.2h0M56.6 211.7h0M70.7 201.4h0M53.6 206.0h0" stroke="#b46060" stroke-width="1.20" stroke-linecap="round" fill="none"/>
<path d="M92.5 169.9h0M103.7 155.6h0M84.5 153.9h0M84.4 153.5h0" stroke="#b46054" stroke-width="1.20" stroke-linecap="round" fill="none"/>
<path d="M111.0 138.3h0M118.8 131.8h0M113.3 137.7h0M119.6 140.3h0M113.5 150.7h0M114.4 146.4h0M109.3 147.6h0" stroke="#c06060" stroke-width="1.20" stroke-linecap="round" fill="none"/>
<path d="M107.5 103.5h0M111.0 113.3h0M116.7 109.4h0M109.6 112.5h0M108.3 108.1h0M118.5 107.2h0M111.7 116.4h0M105.4 106.3h0M109.4 116.3h0M106.1 103.0h0M117.7 97.3h0M118.0 101.5h0" stroke="#cc78a8" stroke-width="1.20" stroke-linecap="round" fill="none"/>
<path d="M90.1 145.0h0M90.2 145.1h0M89.7 143.6h0" stroke="#90974a" stroke-width="1.20" stroke-linecap="round" fill="none"/>
<path d="M92.2 144.0h0" stroke="#9cc09c" stroke-width="1.20" stroke-linecap="round" fill="none"/>
<path d="M131.0 115.5h0" stroke="#9c7860" stroke-width="1.20" stroke-linecap="round" fill="none"/>
<path d="M154.5 179.2h0M154.6 174.9h0M139.5 160.9h0M136.4 154.5h0M132.4 160.2h0M154.2 181.7h0M142.7 171.0h0M150.6 171.3h0M134.1 179.1h0M132.0 174.8h0M132.6 174.4h0M149.3 185.3h0M142.1 173.5h0M139.7 162.0h0M128.4 164.2h0M152.3 166.0h0M142.3 162.5h0M143.9 176.3h0M149.4 174.7h0M145.6 168.3h0M144.2 178.2h0M140.2 168.0h0M149.6 185.3h0M129.7 163.3h0M152.8 174.4h0M137.1 158.4h0M146.9 158.7h0M134.5 167.5h0M149.7 165.2h0M137.7 175.9h0M152.6 171.8h0M149.6 171.6h0M139.5 161.9h0M137.1 165.5h0M143.0 172.0h0M145.2 186.1h0M132.0 171.6h0M140.0 178.8h0M132.1 169.9h0M154.1 180.2h0M146.9 175.6h0M143.7 162.1h0M146.2 186.8h0M129.0 161.7h0M138.3 168.9h0M146.4 168.4h0M131.1 164.6h0M147.6 160.7h0M134.5 155.9h0M154.2 167.8h0M129.9 157.1h0M146.6 172.6h0M147.6 181.2h0M140.6 176.1h0M155.1 179.1h0M131.2 159.0h0M140.0 178.2h0M136.0 168.6h0M141.2 169.6h0M126.5 166.7h0M144.6 165.7h0M131.9 170.1h0M125.9 164.3h0M150.1 179.0h0M135.5 160.7h0M152.2 182.5h0M147.5 186.1h0M153.8 184.3h0M136.2 166.4h0M156.5 175.9h0M145.4 158.5h0M136.7 162.2h0M153.0 173.3h0M145.2 181.5h0M149.7 165.0h0M140.4 174.3h0M127.4 161.4h0" stroke="#2478b4" stroke-width="1.20" stroke-linecap="round" fill="none"/>
<path d="M112.9 170.9h0M104.7 164.6h0M114.6 166.1h0M104.1 151.1h0M118.7 154.4h0M121.6 168.9h0M115.4 152.9h0" stroke="#789c84" stroke-width="1.20" stroke-linecap="round" fill="none"/>
<path d="M72.5 135.2h0M58.6 153.7h0M87.4 126.5h0M89.0 137.4h0M69.1 143.7h0M83.7 138.3h0M72.1 146.4h0M69.3 139.7h0M74.8 130.2h0M86.8 136.2h0" stroke="#a8606c" stroke-width="1.20" stroke-linecap="round" fill="none"/>
<path d="M92.0 126.2h0M77.7 142.2h0M90.5 138.7h0M72.6 140.6h0M66.9 140.3h0M68.3 141.8h0M74.2 131.3h0M78.4 138.1h0M87.1 140.7h0M57.9 145.2h0M53.4 146.6h0M69.4 153.6h0M93.0 146.7h0M100.9 135.3h0M72.6 136.6h0M61.0 153.5h0M61.0 152.7h0M98.2 139.0h0M101.9 139.3h0M92.0 125.6h0M83.1 151.0h0M90.0 134.0h0M73.5 144.9h0M87.3 138.6h0M92.9 126.7h0M82.7 150.0h0M102.2 126.9h0M81.1 151.7h0M75.5 146.1h0M102.3 128.1h0M87.0 131.3h0M97.4 134.8h0M65.6 146.1h0M85.3 139.6h0M67.5 138.1h0M99.4 136.1h0M71.6 146.8h0M86.2 145.7h0M51.2 151.9h0M61.3 144.3h0M58.7 155.2h0M74.8 139.3h0M69.3 145.3h0M76.3 139.9h0M76.6 134.5h0M83.5 134.6h0M101.3 141.3h0M71.2 149.1h0M77.4 149.3h0M84.8 141.8h0M95.7 128.9h0M98.2 146.2h0M79.1 131.5h0M96.8 146.0h0M69.1 151.2h0" stroke="#84c0cc" stroke-width="1.20" stroke-linecap="round" fill="none"/>
<path d="M40.0 163.8h0" stroke="#90a8c0" stroke-width="1.20" stroke-linecap="round" fill="none"/>
<path d="M33.3 199.0h0M47.0 201.6h0M61.0 188.8h0M46.0 208.5h0M43.3 195.8h0M35.0 181.4h0M47.7 203.3h0M31.5 186.7h0M31.8 184.2h0M34.6 193.8h0M60.6 196.6h0M64.2 196.6h0M45.4 194.2h0M40.0 181.6h0M36.1 197.8h0M39.6 216.2h0M60.8 188.8h0M36.7 189.5h0M34.8 186.5h0M44.2 202.8h0M59.3 216.2h0M42.8 199.5h0M57.2 201.4h0M64.6 190.1h0M39.9 177.2h0M42.0 188.9h0M30.9 205.2h0M37.7 201.5h0M35.7 211.0h0M68.1 207.9h0M30.6 190.7h0M43.7 179.8h0M41.2 209.3h0M69.7 196.7h0M38.9 217.1h0M58.6 212.1h0M58.3 218.0h0M49.5 183.0h0M56.9 205.8h0M43.3 208.2h0M33.0 188.7h0M50.0 193.3h0M44.3 180.5h0M46.4 216.4h0M50.1 186.1h0M38.0 175.2h0M48.2 212.9h0M57.1 209.8h0M62.8 201.2h0M37.3 191.8h0M30.6 201.3h0M56.2 211.5h0M46.6 199.7h0M54.1 203.1h0M41.6 197.1h0M51.1 200.8h0M68.1 205.7h0M33.2 198.0h0M53.4 197.9h0M62.6 206.7h0M40.9 175.1h0M30.7 199.5h0M41.0 184.7h0M39.6 176.5h0M56.4 198.6h0M64.6 211.9h0M44.1 181.3h0M41.5 202.8h0M42.2 214.3h0M62.0 214.6h0M39.7 201.8h0M53.2 216.8h0" stroke="#d84848" stroke-width="1.20" stroke-linecap="round" fill="none"/>
<path d="M137.7 179.3h0M152.5 184.0h0M149.7 179.5h0M126.8 158.6h0M138.2 156.4h0M141.0 162.7h0M133.3 172.6h0M127.2 167.2h0M144.0 166.4h0M130.2 166.8h0M136.3 155.9h0M134.3 163.0h0M136.3 163.9h0M128.9 156.1h0M151.5 165.0h0M142.1 161.2h0M149.0 179.4h0M140.7 166.5h0M151.4 174.9h0M146.7 162.0h0M154.7 182.9h0M143.6 165.3h0M150.3 166.0h0M131.6 173.9h0M139.0 174.8h0" stroke="#226294" stroke-width="1.20" stroke-linecap="round" fill="none"/>
<path d="M72.5 184.1h0M72.1 181.6h0M70.2 180.8h0M72.4 180.3h0" stroke="#b4b448" stroke-width="1.20" stroke-linecap="round" fill="none"/>
<path d="M119.9 165.9h0M109.9 177.9h0M113.8 165.9h0M120.0 168.9h0M121.0 178.0h0M111.6 178.8h0M104.6 155.8h0M116.4 172.1h0M118.3 178.4h0M107.2 166.2h0M124.2 157.1h0M107.5 172.4h0M106.1 155.6h0M118.4 155.2h0M107.3 172.9h0M117.4 178.1h0M119.7 167.3h0M118.8 176.6h0M118.0 165.2h0M104.2 167.7h0M117.5 160.7h0M109.7 150.0h0M109.9 158.6h0M111.7 173.8h0M110.0 150.5h0M114.7 163.0h0M118.5 169.8h0M120.5 151.4h0M107.3 177.3h0M114.1 179.8h0M115.0 150.2h0M120.9 175.5h0M123.4 169.5h0M114.6 176.5h0M103.6 163.9h0M109.7 169.9h0M125.4 165.8h0M115.3 169.3h0M127.1 167.0h0M114.4 162.8h0M113.2 172.7h0M123.8 157.6h0M124.2 158.2h0M121.1 151.4h0M111.2 162.9h0M107.4 165.7h0" stroke="#e48430" stroke-width="1.20" stroke-linecap="round" fill="none"/>
<path d="M37.0 177.9h0M43.3 182.9h0M37.8 209.7h0M34.7 214.1h0M37.5 197.4h0M31.1 174.5h0M32.1 181.1h0M41.1 184.2h0M43.2 180.4h0M41.3 176.2h0M36.3 201.7h0M29.7 188.8h0M40.0 206.5h0M36.8 186.2h0M31.2 194.1h0M36.2 171.8h0M34.4 187.7h0M35.7 175.1h0M42.4 171.8h0M43.9 181.7h0M39.9 199.4h0M29.8 179.9h0M41.4 195.6h0M43.1 175.7h0M43.5 176.5h0M41.1 178.4h0M37.0 215.4h0M34.8 174.2h0M31.9 184.9h0M33.7 200.0h0M36.4 206.4h0M37.7 202.3h0M39.1 177.3h0M40.6 177.9h0M31.1 192.9h0M44.3 175.1h0M37.9 189.5h0M38.2 192.5h0M31.7 183.7h0M31.4 205.7h0M36.2 180.2h0M37.8 209.7h0M35.7 182.9h0M36.5 205.1h0M34.6 175.6h0M36.1 211.8h0M41.3 176.0h0M37.0 203.0h0M37.4 181.5h0M44.2 188.0h0M39.1 175.8h0M46.8 181.3h0M33.1 194.9h0M36.5 183.0h0M36.0 205.1h0M36.0 205.3h0M36.4 204.1h0M36.0 203.3h0" stroke="#908484" stroke-width="1.20" stroke-linecap="round" fill="none"/>
<path d="M48.0 137.3h0M49.3 140.7h0M40.9 161.0h0M131.7 152.9h0M52.4 148.0h0M32.1 151.1h0M105.8 117.9h0M122.9 153.4h0M46.6 144.8h0M33.4 148.4h0M42.8 166.1h0M56.5 151.7h0M38.8 130.4h0M100.7 126.7h0M49.2 150.9h0M51.8 149.1h0M54.1 153.4h0M33.8 134.2h0M30.9 137.6h0M35.0 139.8h0M35.6 148.2h0M40.9 154.8h0M33.8 135.9h0M40.2 146.7h0M35.2 145.0h0M108.5 129.6h0M105.3 120.9h0M37.7 160.8h0M49.5 139.3h0M30.8 149.1h0M42.2 142.8h0M40.0 162.9h0M41.4 136.5h0M33.3 139.4h0M46.3 155.4h0M103.7 125.6h0M39.1 158.8h0M34.1 159.8h0M42.4 155.8h0M47.5 144.2h0M51.8 157.9h0M31.6 154.9h0M36.1 139.9h0M51.5 154.6h0M47.2 160.2h0M30.3 140.9h0M37.8 137.5h0M33.6 146.7h0M53.1 146.8h0M49.4 146.9h0M34.8 149.0h0M120.9 145.8h0M46.1 149.0h0M36.4 143.7h0M98.2 143.2h0M104.6 126.1h0M45.2 147.1h0M51.8 146.2h0M39.9 138.3h0M51.8 139.6h0M36.5 132.9h0M115.5 144.4h0M128.3 150.6h0M119.0 152.9h0M35.7 139.1h0M52.9 140.8h0M123.7 139.2h0M49.8 162.0h0M120.5 121.1h0M55.1 150.6h0M114.3 125.6h0M44.5 159.6h0M53.6 156.5h0M40.6 149.7h0M104.2 137.2h0M36.9 143.1h0M32.4 149.9h0M56.0 151.9h0M37.6 138.6h0M49.2 154.2h0M54.4 146.6h0M29.4 139.8h0M39.4 151.3h0M48.0 156.1h0M29.3 145.7h0M33.7 156.2h0M48.7 153.9h0M36.4 145.7h0M45.7 150.7h0M32.2 135.9h0M41.2 162.9h0M129.8 148.4h0M36.0 132.2h0" stroke="#848484" stroke-width="1.20" stroke-linecap="round" fill="none"/>
<path d="M64.4 156.3h0M74.5 162.4h0M67.4 176.2h0M77.6 175.8h0M79.4 154.8h0M61.2 182.1h0M65.5 180.8h0M70.4 165.3h0M72.9 158.1h0M74.1 170.8h0M66.3 183.4h0M80.3 162.1h0M73.4 182.9h0M56.7 157.0h0M73.9 154.5h0M50.5 163.8h0M66.1 163.4h0M81.1 164.5h0M54.8 173.2h0M64.1 173.2h0M79.4 156.1h0M81.7 176.5h0M79.1 177.4h0M56.9 157.5h0M75.7 183.2h0M77.7 180.9h0M82.9 163.1h0M56.7 164.0h0M55.6 169.1h0M75.9 166.8h0M75.6 173.3h0M63.2 160.3h0M64.9 182.5h0M65.4 179.9h0M74.6 178.9h0M77.6 176.3h0M60.4 168.9h0M76.1 156.5h0M80.3 168.4h0M58.6 157.7h0M69.4 160.9h0M62.7 177.2h0M61.7 157.6h0M56.0 164.9h0M53.7 169.9h0M74.8 164.5h0M72.4 179.9h0M64.6 158.5h0M80.5 168.6h0M71.0 166.9h0M51.4 166.8h0M66.0 159.7h0M56.0 169.5h0M70.6 156.8h0M80.6 156.3h0" stroke="#9c9c9c" stroke-width="1.20" stroke-linecap="round" fill="none"/>
<path d="M31.0 143.1h0M51.1 156.3h0M44.6 153.6h0M42.9 136.9h0M53.3 150.9h0M36.8 131.6h0M35.5 149.4h0M31.4 146.8h0M43.8 167.0h0M50.1 140.8h0M38.7 161.4h0M53.9 147.8h0M41.6 135.1h0M40.8 139.5h0M35.4 145.6h0M30.6 137.4h0M40.4 143.0h0M40.8 164.4h0M30.2 146.2h0M32.9 143.5h0M30.9 144.7h0M32.6 146.6h0M43.7 165.3h0M48.8 146.8h0M47.0 158.9h0M39.2 137.3h0M46.1 135.4h0M40.0 144.9h0M47.8 140.8h0M37.5 147.3h0M39.5 144.7h0M35.0 151.9h0M42.1 148.2h0M30.9 140.3h0" stroke="#717171" stroke-width="1.20" stroke-linecap="round" fill="none"/>
<path d="M122.5 128.6h0M130.2 141.7h0M119.9 152.4h0M108.7 117.1h0M121.7 125.1h0M57.7 171.6h0M117.9 149.5h0M136.2 143.4h0M110.8 143.2h0M60.1 158.5h0M105.0 128.1h0M120.4 147.8h0M124.6 127.3h0M127.2 142.0h0M121.1 117.0h0M114.5 119.0h0M106.9 116.0h0M71.0 170.7h0M63.4 177.3h0M60.4 164.3h0M122.2 136.0h0M55.7 174.8h0M62.4 174.1h0M74.6 155.0h0M122.0 137.5h0M100.4 144.2h0M118.8 142.9h0M101.3 126.9h0M119.6 129.0h0M101.9 125.4h0M129.6 150.4h0M114.5 121.5h0M55.6 167.9h0M125.8 144.1h0M69.5 162.1h0M60.1 173.9h0M67.5 159.9h0M116.1 123.8h0M113.4 134.2h0M55.5 179.3h0M124.5 147.9h0M75.1 163.6h0M123.3 152.0h0M79.1 163.3h0M53.2 167.3h0M57.8 158.6h0M122.5 141.5h0M110.6 130.5h0M115.6 138.7h0M113.5 119.9h0M122.9 137.3h0M74.2 154.9h0M54.4 173.2h0M63.7 156.1h0M106.8 146.6h0M102.8 132.3h0M126.8 150.6h0M77.1 176.8h0M72.3 154.3h0M73.7 173.2h0M65.9 179.5h0M75.4 180.1h0M129.4 136.4h0M62.6 165.5h0M103.2 150.6h0M53.3 166.2h0M99.8 120.3h0M70.3 169.1h0M62.1 175.2h0M58.7 164.0h0M121.6 117.6h0M71.3 172.2h0M60.9 168.1h0M66.5 172.6h0M59.8 164.9h0M114.1 149.0h0M70.5 175.2h0M124.9 143.3h0M120.6 148.8h0M99.8 131.2h0M113.7 143.9h0M59.2 178.8h0M106.9 135.1h0M69.1 167.0h0M63.3 158.1h0M128.7 126.7h0M52.7 172.0h0M130.1 137.8h0M109.2 122.4h0M116.6 151.8h0M76.4 177.5h0M129.1 126.4h0M81.9 169.9h0M59.6 181.6h0" stroke="#909090" stroke-width="1.20" stroke-linecap="round" fill="none"/>
<path d="M75.4 133.0h0M51.2 149.2h0M97.9 130.9h0M79.2 138.3h0M102.3 131.6h0M84.0 140.3h0M85.7 139.4h0M99.8 142.0h0M79.2 152.2h0M58.1 144.0h0M62.4 142.4h0M92.9 133.8h0M98.5 131.5h0M97.5 129.5h0M97.3 144.6h0M99.8 123.0h0M97.6 141.9h0M91.9 144.5h0M77.9 150.1h0M79.6 151.6h0M90.3 138.7h0M55.2 147.7h0M91.2 141.7h0M72.1 142.5h0M56.6 151.0h0M78.5 134.2h0M83.9 144.4h0M79.2 137.5h0M63.3 151.4h0M91.5 141.1h0M88.8 127.3h0M71.7 153.1h0" stroke="#618f97" stroke-width="1.20" stroke-linecap="round" fill="none"/>
<path d="M40.5 205.2h0M59.5 194.6h0M51.1 185.3h0M55.3 205.1h0M54.3 183.2h0M54.3 199.2h0M45.6 211.7h0M40.6 177.1h0M46.0 197.8h0M36.9 217.9h0M30.7 181.1h0M43.5 193.4h0M66.0 207.3h0M30.7 203.4h0M49.2 199.4h0M36.2 190.3h0M36.1 208.1h0M48.9 213.0h0M65.4 212.1h0M67.9 206.7h0M47.9 204.6h0M33.0 191.4h0M54.1 190.6h0M56.5 217.0h0M34.0 205.9h0M51.3 193.9h0M35.0 172.6h0M52.8 183.2h0M41.2 181.8h0M68.6 205.0h0M50.4 205.0h0M50.7 192.8h0M48.6 177.2h0M44.3 180.2h0M60.5 197.3h0M31.4 198.3h0M51.8 199.7h0M41.0 173.7h0M53.5 218.5h0M40.3 219.1h0M46.7 192.0h0M37.6 187.8h0M36.1 200.2h0M36.9 213.0h0M52.3 185.4h0M39.2 189.2h0M32.6 205.6h0M55.8 213.3h0M31.5 198.7h0M62.6 212.6h0M56.7 191.8h0M57.2 199.8h0M52.6 205.8h0M39.4 199.3h0M34.4 196.2h0M54.4 194.7h0M49.2 187.3h0M39.1 193.1h0M33.3 210.3h0M51.4 204.7h0M45.9 195.3h0M53.8 217.1h0M43.7 188.3h0M44.2 186.8h0M35.7 209.0h0" stroke="#9d5f5f" stroke-width="1.20" stroke-linecap="round" fill="none"/>
<path d="M44.8 181.1h0M34.6 194.1h0M42.2 193.8h0M36.4 190.8h0M40.4 196.9h0M32.7 209.8h0M38.3 193.7h0M39.9 176.6h0M32.6 200.9h0M34.5 193.4h0M34.1 209.0h0M36.4 214.0h0" stroke="#c05454" stroke-width="1.20" stroke-linecap="round" fill="none"/>
<path d="M117.2 105.0h0M117.8 100.2h0M106.2 102.9h0M118.8 102.8h0M109.8 104.7h0M106.6 106.2h0M110.6 117.7h0M117.5 112.6h0M112.4 116.7h0M109.6 115.6h0M116.1 112.0h0" stroke="#8e6b7d" stroke-width="1.20" stroke-linecap="round" fill="none"/>
<path d="M153.9 181.9h0M137.0 156.5h0M134.3 158.5h0M132.7 172.4h0M131.7 174.5h0M145.0 182.0h0M138.0 180.8h0M143.1 183.3h0M155.8 172.0h0M137.8 175.8h0M145.3 175.5h0" stroke="#54789c" stroke-width="1.20" stroke-linecap="round" fill="none"/>
<path d="M134.4 111.2h0M135.6 106.9h0" stroke="#9a5934" stroke-width="1.20" stroke-linecap="round" fill="none"/>
<path d="M44.4 167.3h0M44.1 167.1h0M40.4 171.0h0M47.2 162.5h0M44.2 167.0h0M39.7 168.1h0M51.0 173.6h0M45.1 176.7h0M47.6 165.7h0M41.8 174.8h0M44.3 167.1h0M43.2 171.2h0M44.3 167.7h0M43.1 167.3h0" stroke="#75717b" stroke-width="1.20" stroke-linecap="round" fill="none"/>
<path d="M105.8 103.0h0M109.3 102.6h0M110.3 103.8h0M113.4 109.3h0M106.8 110.8h0" stroke="#a878a8" stroke-width="1.20" stroke-linecap="round" fill="none"/>
<path d="M53.9 192.5h0M35.8 216.5h0M37.9 209.1h0M60.1 200.6h0M50.5 185.8h0M50.6 199.2h0M33.9 211.7h0M52.7 214.1h0M34.0 189.4h0M40.4 187.4h0M30.7 188.0h0M46.2 204.9h0M32.3 193.6h0M49.2 189.9h0M114.8 125.7h0M42.4 218.1h0M43.8 198.0h0M34.1 198.2h0M49.0 207.6h0M41.9 218.9h0M62.2 215.1h0M39.9 197.5h0M63.9 198.9h0M67.3 214.4h0M55.6 211.6h0M40.5 199.4h0M123.5 139.5h0M40.4 179.7h0M55.2 190.5h0M44.8 184.1h0M32.9 206.0h0M30.8 196.7h0M30.9 180.1h0M57.1 217.5h0M68.1 211.8h0M40.3 215.9h0M126.8 130.8h0M48.8 188.0h0M65.4 193.2h0M34.2 213.2h0M65.5 199.2h0M45.2 204.4h0M40.1 194.7h0M61.7 212.9h0M64.4 189.3h0M42.0 189.2h0M31.3 188.4h0M60.9 212.7h0M66.3 198.1h0M41.1 197.6h0M52.8 185.2h0M33.1 203.1h0M58.7 211.8h0M35.0 206.6h0M40.5 173.7h0M122.5 116.8h0M39.1 200.5h0M64.4 216.1h0M37.6 194.5h0M53.6 185.5h0M58.2 187.0h0M65.5 204.7h0M125.3 125.7h0M42.3 203.5h0M62.9 195.5h0M112.6 116.2h0M64.0 214.6h0M44.2 192.3h0M50.5 185.0h0M53.1 211.1h0M31.0 192.2h0M66.3 196.6h0M64.9 203.2h0M50.5 179.9h0M35.0 209.9h0M33.2 195.8h0M58.1 192.3h0M30.1 194.5h0M32.9 203.9h0M69.0 193.8h0M38.0 177.1h0" stroke="#9c7878" stroke-width="1.20" stroke-linecap="round" fill="none"/>
<path d="M133.5 129.5h0M133.1 134.1h0M107.1 116.8h0M111.7 142.8h0M101.2 137.6h0M136.3 142.9h0M101.0 136.2h0M113.7 121.4h0M115.2 152.5h0M121.9 129.0h0M102.4 141.4h0M126.7 148.2h0M108.2 117.0h0M119.3 130.0h0M132.1 145.6h0M103.2 151.5h0M119.3 119.4h0M104.9 148.2h0M97.9 143.7h0M119.0 132.8h0M112.9 147.5h0M111.8 144.1h0M118.3 137.5h0M113.4 129.1h0M112.3 134.1h0M106.4 130.9h0M119.3 126.2h0M130.4 136.4h0M122.1 124.7h0M110.1 115.8h0M126.2 140.1h0M128.9 146.1h0M122.9 144.8h0M107.4 144.3h0M113.1 137.4h0" stroke="#838a8a" stroke-width="1.20" stroke-linecap="round" fill="none"/>
<path d="M67.0 211.9h0M61.8 197.1h0M56.0 200.9h0M58.7 208.3h0M68.5 206.0h0M58.3 203.8h0M57.7 210.8h0M63.1 192.6h0M63.1 210.8h0M62.8 206.4h0M67.8 200.3h0M67.5 194.4h0M54.6 205.0h0M58.1 212.8h0M59.8 214.9h0M64.9 209.4h0M67.2 210.3h0M58.8 194.9h0M62.7 192.8h0M58.3 192.9h0M63.1 216.5h0M64.6 191.7h0M54.5 198.4h0M61.9 216.7h0M60.0 210.4h0M61.1 196.5h0M60.3 216.2h0M67.3 207.9h0M55.4 211.2h0M53.1 203.8h0M65.5 213.1h0M57.4 217.3h0M63.2 198.8h0M59.1 195.0h0M67.4 196.2h0M50.8 205.3h0M58.5 197.9h0M60.5 208.0h0M58.6 212.0h0" stroke="#e43030" stroke-width="1.20" stroke-linecap="round" fill="none"/>
<path d="M47.5 134.4h0M44.6 144.8h0M49.9 154.8h0M54.7 144.5h0" stroke="#90789c" stroke-width="1.20" stroke-linecap="round" fill="none"/>
<path d="M79.5 146.0h0M85.9 139.8h0M89.3 134.9h0M89.7 127.5h0M69.3 142.0h0M76.8 146.8h0M71.0 136.1h0M72.1 147.1h0M101.2 138.7h0M93.6 133.7h0M96.1 144.9h0M100.3 123.5h0M80.4 142.8h0M86.2 139.8h0M88.8 150.4h0M83.1 144.9h0M63.9 145.6h0M59.6 153.0h0M78.8 130.3h0M93.9 144.9h0M81.6 128.7h0M58.4 145.0h0M94.9 146.0h0M97.7 125.9h0M65.9 148.8h0M54.3 147.0h0M97.3 144.1h0M102.4 129.4h0M102.3 140.0h0M93.1 138.4h0M60.1 143.4h0M70.8 152.8h0M71.2 136.0h0M73.6 141.9h0M100.2 133.9h0M89.0 142.2h0M81.1 135.4h0M68.8 148.3h0M72.6 136.3h0" stroke="#48a8b4" stroke-width="1.20" stroke-linecap="round" fill="none"/>
<path d="M126.4 146.9h0M122.0 133.8h0M128.0 123.1h0M112.6 128.3h0M71.4 157.2h0M47.9 168.8h0M114.0 148.6h0M78.2 154.0h0M62.2 158.3h0M108.7 117.7h0M76.5 156.4h0M64.3 156.3h0M62.5 169.1h0M113.2 124.3h0M56.1 160.7h0M80.5 155.8h0M104.8 138.3h0M52.9 168.7h0M111.1 131.3h0" stroke="#9cc0c0" stroke-width="1.20" stroke-linecap="round" fill="none"/>
<path d="M36.8 175.2h0M49.1 178.3h0M46.3 178.8h0M39.1 170.1h0M41.3 164.1h0M47.3 173.8h0M41.5 173.1h0M39.9 178.2h0M34.2 167.8h0M46.1 176.9h0M45.6 162.5h0M36.5 178.2h0M40.3 172.7h0M35.2 164.9h0M36.1 177.0h0M37.2 176.1h0M40.0 165.1h0M36.8 162.9h0" stroke="#848490" stroke-width="1.20" stroke-linecap="round" fill="none"/>
<path d="M96.7 130.5h0M66.9 140.0h0M90.6 144.8h0M54.8 150.5h0M67.4 151.9h0M79.4 133.3h0M56.7 154.1h0M66.6 148.6h0M83.0 128.4h0M76.9 129.6h0M95.0 129.2h0M76.3 135.9h0M60.5 152.9h0M68.3 151.6h0M96.5 146.4h0M54.7 150.2h0M101.4 130.6h0M62.3 152.9h0M83.0 135.0h0M85.1 134.7h0M78.3 132.6h0M63.9 141.3h0M100.9 129.1h0M56.7 148.9h0M56.4 146.3h0M61.6 144.1h0M81.3 130.3h0M82.0 140.1h0M51.4 151.1h0" stroke="#78909c" stroke-width="1.20" stroke-linecap="round" fill="none"/>
<path d="M40.6 170.0h0M47.5 163.8h0M48.6 177.8h0M46.3 170.7h0M43.5 176.5h0M39.7 173.5h0M45.3 173.8h0" stroke="#549ca8" stroke-width="1.20" stroke-linecap="round" fill="none"/>
<path d="M119.0 159.6h0M123.6 170.1h0M114.1 169.5h0M119.0 169.5h0M105.9 164.9h0M117.0 151.8h0M107.0 168.1h0M113.7 169.8h0M108.6 175.9h0M107.4 175.7h0M120.1 165.9h0M106.1 151.7h0M118.2 175.8h0M107.6 175.9h0M117.2 176.6h0M113.5 156.7h0M124.8 159.1h0M113.2 151.2h0M103.2 162.1h0M113.1 167.2h0M116.2 161.9h0M110.5 171.4h0M112.0 159.6h0M120.4 178.8h0M116.1 178.1h0M108.0 174.2h0M108.8 171.9h0M125.8 168.4h0M120.2 152.3h0" stroke="#a8846c" stroke-width="1.20" stroke-linecap="round" fill="none"/>
<path d="M86.0 161.7h0M96.4 154.6h0M90.1 157.4h0M90.9 154.9h0M88.5 155.2h0M86.9 159.9h0M91.2 163.5h0M96.8 165.5h0M84.0 166.1h0M101.1 160.4h0M91.6 160.7h0M86.7 159.9h0M88.0 169.9h0M93.9 170.7h0" stroke="#a8786c" stroke-width="1.20" stroke-linecap="round" fill="none"/>
<path d="M103.2 161.1h0M85.3 156.0h0M96.9 160.5h0M93.3 171.0h0M92.2 150.6h0M86.7 163.6h0M100.0 159.0h0M100.5 153.2h0M82.0 159.2h0M102.0 164.9h0M87.0 155.8h0M102.1 170.5h0M90.9 155.9h0M90.2 156.2h0M87.4 156.9h0M99.5 153.8h0M102.8 163.1h0M89.0 161.0h0M103.6 152.7h0M94.3 153.0h0M86.4 163.9h0M104.2 163.4h0M96.4 171.3h0M101.3 151.1h0M82.3 158.5h0M83.6 160.4h0M89.6 169.8h0M97.4 172.9h0M84.8 162.8h0M87.4 159.8h0M100.5 171.9h0M95.9 173.6h0M82.1 167.4h0M92.8 153.4h0M88.0 154.4h0M91.3 153.0h0M82.9 154.6h0" stroke="#d83c3c" stroke-width="1.20" stroke-linecap="round" fill="none"/>
<path d="M123.1 170.2h0M106.5 174.3h0M103.8 167.6h0M105.2 164.3h0M108.3 170.0h0M113.6 176.0h0M113.5 160.6h0M119.3 158.0h0M117.1 158.5h0M115.6 166.3h0M117.5 175.9h0M112.1 158.2h0M115.7 155.5h0M109.6 168.6h0M111.2 174.1h0M117.2 167.9h0M126.1 167.0h0M106.1 175.8h0M115.3 176.5h0M121.0 175.4h0M121.1 170.7h0M120.6 172.8h0M109.8 172.7h0M106.6 164.1h0M125.3 171.9h0M108.6 174.1h0M118.9 166.8h0M120.5 162.2h0" stroke="#b17342" stroke-width="1.20" stroke-linecap="round" fill="none"/>
<path d="M38.1 211.3h0M38.6 176.3h0M32.3 200.0h0M38.0 194.2h0M42.0 189.5h0M43.3 182.4h0M31.6 180.3h0M45.9 177.0h0M45.6 178.6h0M38.6 205.0h0M32.4 184.1h0M38.7 179.4h0M40.8 182.4h0M39.5 183.3h0M36.7 174.6h0M38.4 179.6h0M43.4 180.1h0M45.0 175.9h0M38.4 175.9h0M30.4 195.4h0M37.6 177.6h0" stroke="#7a7676" stroke-width="1.20" stroke-linecap="round" fill="none"/>
<path d="M101.2 153.2h0M89.1 150.5h0M103.0 169.2h0M103.2 158.2h0M89.7 154.1h0M94.7 154.4h0M90.5 151.1h0M91.1 155.5h0M100.0 152.8h0M94.7 171.8h0M86.8 171.8h0M90.3 159.8h0M96.0 171.0h0M91.5 172.3h0M87.6 151.9h0M85.0 152.6h0M92.3 173.1h0M97.4 172.3h0M88.2 170.3h0M92.0 154.5h0" stroke="#a4524a" stroke-width="1.20" stroke-linecap="round" fill="none"/>
<path d="M57.0 195.4h0M57.3 213.9h0M55.5 208.8h0M56.2 202.4h0M56.8 204.4h0M66.0 209.0h0M57.4 210.1h0M61.9 193.2h0M61.4 206.5h0M60.6 200.5h0M62.6 200.4h0M58.5 199.4h0M68.0 195.5h0M57.7 213.1h0M57.2 216.6h0M54.8 198.8h0M50.9 208.4h0" stroke="#b93d34" stroke-width="1.20" stroke-linecap="round" fill="none"/>
<path d="M74.1 152.8h0M95.4 127.6h0M93.8 128.5h0M51.6 150.8h0M57.4 155.4h0M95.3 139.6h0M70.0 144.4h0M53.8 147.1h0M84.1 137.1h0" stroke="#9cb46c" stroke-width="1.20" stroke-linecap="round" fill="none"/>
<path d="M118.7 132.0h0M103.1 139.3h0M100.9 127.2h0M127.6 148.7h0M101.1 151.3h0M52.7 176.8h0M119.8 127.4h0M116.1 149.1h0M107.5 131.5h0M55.0 157.2h0M109.3 139.7h0M131.9 130.1h0M127.4 131.1h0M122.6 127.3h0M115.9 138.4h0" stroke="#60a8b4" stroke-width="1.20" stroke-linecap="round" fill="none"/>
<path d="M135.1 111.0h0" stroke="#a86048" stroke-width="1.20" stroke-linecap="round" fill="none"/>
<path d="M60.2 213.3h0M62.8 196.2h0M69.5 196.5h0M62.6 194.3h0M67.5 204.2h0M70.4 206.7h0M52.3 211.9h0M65.3 193.0h0M65.4 204.8h0" stroke="#b46060" stroke-width="1.20" stroke-linecap="round" fill="none"/>
<path d="M66.0 196.2h0M44.2 177.1h0M66.0 203.7h0M41.3 183.8h0M57.8 217.4h0M67.2 213.3h0M48.5 200.4h0M31.7 183.7h0M37.7 216.9h0M41.2 181.7h0M38.5 191.6h0M50.4 217.4h0" stroke="#a86060" stroke-width="1.20" stroke-linecap="round" fill="none"/>
<path d="M93.9 140.9h0M88.4 140.4h0M88.5 143.7h0" stroke="#c0c03c" stroke-width="1.20" stroke-linecap="round" fill="none"/>
<path d="M36.2 140.9h0M40.8 164.7h0M40.1 150.7h0M39.5 142.4h0M41.8 136.6h0M35.3 138.4h0M35.7 147.8h0M36.3 136.0h0M38.6 133.2h0M47.0 141.3h0M33.9 159.6h0M30.3 151.1h0M30.1 150.8h0M33.1 149.7h0M37.9 140.2h0M44.8 143.9h0M40.5 140.5h0M37.8 151.3h0M45.3 164.2h0M29.6 150.7h0M36.9 145.6h0M43.1 161.5h0M49.4 150.7h0" stroke="#787878" stroke-width="1.20" stroke-linecap="round" fill="none"/>
<path d="M101.1 139.0h0M113.7 151.6h0M98.8 132.1h0M112.9 151.0h0M100.6 145.3h0M114.9 138.4h0M99.4 124.0h0M120.2 132.1h0M132.4 148.9h0M99.5 127.8h0M111.8 152.0h0M126.5 122.7h0M100.6 126.4h0" stroke="#cc9060" stroke-width="1.20" stroke-linecap="round" fill="none"/>
<path d="M116.8 109.5h0M116.2 104.9h0M118.3 109.9h0" stroke="#a86c6c" stroke-width="1.20" stroke-linecap="round" fill="none"/>
<path d="M116.0 132.7h0M126.1 129.4h0M118.4 133.5h0M120.4 133.7h0M117.5 134.7h0" stroke="#f08430" stroke-width="1.20" stroke-linecap="round" fill="none"/>
<path d="M108.7 100.4h0M119.0 104.8h0M116.9 111.4h0M112.9 110.7h0M117.4 111.0h0M107.7 108.0h0M110.5 113.3h0M117.2 110.4h0M119.6 116.3h0M111.6 109.2h0M109.0 100.8h0M108.6 115.4h0M116.5 111.4h0" stroke="#908490" stroke-width="1.20" stroke-linecap="round" fill="none"/>
<path d="M64.6 179.6h0M65.4 182.4h0M72.7 184.7h0" stroke="#8a8d5c" stroke-width="1.20" stroke-linecap="round" fill="none"/>
<path d="M72.6 131.8h0M101.0 134.0h0M68.9 147.4h0M79.1 141.9h0M96.1 132.7h0M100.4 140.2h0M90.1 130.0h0M87.1 130.5h0M77.6 147.2h0M76.4 152.6h0" stroke="#48a878" stroke-width="1.20" stroke-linecap="round" fill="none"/>
<path d="M135.4 108.8h0M136.9 109.4h0M132.1 112.1h0" stroke="#d87824" stroke-width="1.20" stroke-linecap="round" fill="none"/>
<path d="M45.7 174.0h0M37.2 165.6h0M47.2 178.1h0" stroke="#9078a8" stroke-width="1.20" stroke-linecap="round" fill="none"/>
<path d="M111.5 178.0h0M114.7 149.9h0M123.3 167.4h0M119.0 151.9h0M121.4 174.5h0M105.5 165.7h0" stroke="#d8543c" stroke-width="1.20" stroke-linecap="round" fill="none"/>
<path d="M80.1 179.7h0M69.1 159.8h0M79.3 158.1h0" stroke="#cc606c" stroke-width="1.20" stroke-linecap="round" fill="none"/>
<path d="M91.0 144.7h0M92.9 136.6h0M93.2 142.7h0" stroke="#90974a" stroke-width="1.20" stroke-linecap="round" fill="none"/>
<path d="M37.9 152.0h0" stroke="#90a8b4" stroke-width="1.20" stroke-linecap="round" fill="none"/>
<path d="M141.7 170.2h0M148.5 163.7h0M131.6 170.9h0M147.5 166.0h0M144.5 176.3h0M148.1 184.3h0M127.1 161.9h0" stroke="#246ca8" stroke-width="1.20" stroke-linecap="round" fill="none"/>
<path d="M96.7 174.0h0M80.5 161.5h0M92.0 161.3h0M79.9 160.2h0" stroke="#d86c30" stroke-width="1.20" stroke-linecap="round" fill="none"/>
<path d="M37.5 173.1h0M40.3 207.0h0M32.2 195.4h0M42.7 219.7h0M39.2 201.1h0M67.9 205.5h0" stroke="#cc789c" stroke-width="1.20" stroke-linecap="round" fill="none"/>
<path d="M87.2 141.9h0M95.0 142.9h0M92.2 136.5h0" stroke="#9c9c6c" stroke-width="1.20" stroke-linecap="round" fill="none"/>
<path d="M118.5 108.6h0M114.6 100.3h0M120.6 101.1h0M114.1 102.4h0M107.4 107.9h0M112.4 115.6h0M116.7 109.0h0M110.3 112.8h0" stroke="#cc78a8" stroke-width="1.20" stroke-linecap="round" fill="none"/>
<path d="M64.4 183.6h0M56.3 171.2h0M83.7 168.4h0M77.2 171.0h0M48.3 166.1h0" stroke="#6ca878" stroke-width="1.20" stroke-linecap="round" fill="none"/>
<path d="M36.2 212.3h0M47.3 186.0h0M35.4 204.8h0M67.1 193.6h0M56.6 186.7h0" stroke="#906c6c" stroke-width="1.20" stroke-linecap="round" fill="none"/>
<path d="M87.6 153.1h0M95.7 159.6h0M90.6 171.0h0M94.2 164.9h0" stroke="#b46054" stroke-width="1.20" stroke-linecap="round" fill="none"/>
<path d="M72.2 183.6h0M63.2 181.8h0" stroke="#60a854" stroke-width="1.20" stroke-linecap="round" fill="none"/>
<path d="M106.6 142.2h0M120.9 149.2h0M107.6 150.5h0M128.1 132.5h0" stroke="#c06060" stroke-width="1.20" stroke-linecap="round" fill="none"/>
<path d="M65.9 177.7h0M68.2 181.8h0" stroke="#909078" stroke-width="1.20" stroke-linecap="round" fill="none"/>
<path d="M48.3 166.6h0M45.5 175.4h0M44.9 168.6h0" stroke="#c05460" stroke-width="1.20" stroke-linecap="round" fill="none"/>
<path d="M117.4 129.7h0M122.5 128.7h0M116.0 132.4h0" stroke="#a88460" stroke-width="1.20" stroke-linecap="round" fill="none"/>
<path d="M45.9 142.2h0M48.9 163.2h0M34.5 133.2h0M35.7 145.6h0" stroke="#b45454" stroke-width="1.20" stroke-linecap="round" fill="none"/>
<path d="M119.0 132.6h0" stroke="#b6713d" stroke-width="1.20" stroke-linecap="round" fill="none"/>
<path d="M131.2 155.5h0M140.2 158.7h0M136.8 154.6h0M143.7 167.1h0M153.6 183.4h0M141.3 182.4h0M127.9 161.0h0M134.4 157.9h0M127.0 160.0h0M148.3 161.2h0M145.8 171.5h0M136.2 171.9h0M132.3 171.6h0M138.4 177.5h0M143.0 184.3h0M145.1 171.2h0M144.0 172.5h0M154.0 179.0h0M151.6 169.2h0M140.9 174.4h0M138.2 156.8h0M144.2 183.6h0M134.0 179.9h0M138.8 176.3h0M140.1 181.7h0M151.1 177.5h0M146.1 169.0h0M127.5 164.9h0M128.7 160.2h0M134.9 167.8h0M147.5 174.5h0M129.0 166.6h0M143.6 159.2h0M139.1 155.5h0M144.4 162.7h0M139.4 162.9h0M140.9 167.3h0M133.3 166.0h0M146.0 158.9h0M141.2 182.4h0M130.5 159.7h0M141.3 160.6h0M144.1 164.2h0M151.3 185.5h0M138.2 170.6h0M148.9 187.3h0M142.5 178.5h0M144.7 160.0h0M143.8 179.1h0M133.5 169.0h0M136.9 165.5h0M143.8 170.1h0M149.5 184.3h0M148.9 172.9h0M150.8 179.9h0M134.1 161.2h0M128.0 170.1h0M137.5 170.4h0M150.3 168.6h0M151.3 168.2h0M141.5 170.5h0M137.6 173.1h0M147.6 179.0h0M147.8 172.7h0M149.0 172.2h0M144.2 161.9h0M140.4 160.7h0M137.6 183.0h0M145.9 171.2h0M134.4 180.8h0M154.0 170.8h0M141.1 168.6h0M156.0 181.4h0M150.8 179.2h0M140.2 173.8h0M128.3 162.0h0M146.2 167.5h0M136.6 180.2h0M133.6 171.3h0M139.2 161.1h0M144.8 167.7h0M134.3 177.9h0M140.4 185.1h0M151.2 171.5h0M138.5 158.0h0M133.1 177.0h0M135.5 169.6h0" stroke="#2478b4" stroke-width="1.20" stroke-linecap="round" fill="none"/>
<path d="M77.5 163.4h0M78.9 169.0h0M82.4 169.1h0M61.4 179.3h0M54.3 171.6h0M64.7 174.2h0M63.6 167.9h0M65.9 176.6h0M73.9 167.4h0M61.6 170.8h0M74.1 162.2h0M84.1 170.6h0M79.9 157.1h0M63.2 170.0h0M53.0 164.4h0M72.9 176.8h0M69.9 162.9h0M74.2 172.6h0M55.3 171.9h0M55.2 173.6h0M65.5 182.4h0M60.5 164.6h0M78.1 175.6h0M66.3 156.3h0M59.2 170.9h0M73.8 167.3h0M64.7 165.3h0M72.0 159.8h0M83.5 168.1h0M65.6 163.3h0M54.0 170.8h0M60.1 167.4h0M63.2 157.3h0M74.8 170.0h0M66.0 156.6h0M83.4 173.4h0M83.1 169.0h0M71.6 184.8h0M57.2 173.5h0M80.6 161.2h0" stroke="#9c9c9c" stroke-width="1.20" stroke-linecap="round" fill="none"/>
<path d="M44.5 146.5h0M48.0 146.0h0M43.6 165.0h0M41.9 135.9h0M39.5 164.7h0M42.8 144.3h0M40.0 149.0h0M48.5 163.1h0M45.4 139.7h0M43.4 142.7h0M45.3 163.7h0M38.1 135.5h0M39.2 146.0h0M33.1 149.7h0M36.4 159.3h0M35.9 151.6h0M44.9 163.5h0M46.8 143.9h0M45.1 144.8h0M31.2 155.2h0M41.8 150.7h0M46.5 141.4h0M34.1 138.6h0" stroke="#717171" stroke-width="1.20" stroke-linecap="round" fill="none"/>
<path d="M38.4 160.2h0M119.1 131.1h0M50.2 159.4h0M36.4 157.0h0M35.5 131.0h0M44.3 132.1h0M46.8 133.2h0M107.9 152.2h0M119.7 140.3h0M39.1 163.4h0M125.9 145.1h0M40.4 162.0h0M116.6 133.2h0M113.8 153.1h0M41.7 141.2h0M39.6 142.6h0M46.4 149.2h0M52.4 140.9h0M55.6 153.2h0M40.0 165.0h0M41.7 142.7h0M39.9 139.3h0M39.9 142.2h0M123.9 138.9h0M41.6 140.0h0M36.2 143.0h0M124.7 130.2h0M49.9 154.3h0M37.3 147.2h0M49.4 159.3h0M40.5 160.6h0M38.3 138.2h0M47.9 163.8h0M49.4 160.8h0M49.3 137.6h0M33.1 142.8h0M46.9 164.4h0M38.0 143.5h0M49.2 136.2h0M53.2 155.3h0M39.8 155.2h0M40.4 163.3h0M42.3 148.9h0M102.3 125.0h0M53.6 147.8h0M42.7 138.7h0M43.8 135.3h0M35.3 158.7h0M32.2 148.4h0M40.3 165.8h0M32.8 139.2h0M133.8 143.7h0M41.1 148.5h0M40.2 148.3h0M118.0 144.5h0M132.6 136.2h0M130.9 138.2h0M48.4 152.4h0M32.0 143.6h0M105.3 151.3h0M115.5 152.3h0M49.9 145.5h0M39.0 147.2h0M33.2 134.2h0M43.2 138.6h0M43.7 163.0h0M50.3 151.6h0M124.1 146.9h0M56.7 152.2h0M31.3 139.9h0M101.0 137.7h0M49.7 141.3h0M110.5 115.4h0M29.7 142.4h0M32.2 135.6h0M47.9 136.8h0M30.9 140.0h0M34.6 137.5h0M106.4 140.9h0M124.3 120.7h0" stroke="#848484" stroke-width="1.20" stroke-linecap="round" fill="none"/>
<path d="M32.8 199.2h0M37.7 190.3h0M42.1 179.0h0M35.3 190.0h0M39.9 180.0h0M31.5 201.5h0M44.3 184.1h0M41.9 177.9h0M33.6 180.6h0M33.9 211.0h0M40.6 197.6h0M34.3 206.0h0M40.6 190.5h0M36.6 170.7h0M33.1 210.9h0M42.2 180.8h0M42.4 172.8h0M37.8 207.9h0M32.4 202.8h0M40.9 194.5h0M44.6 183.6h0" stroke="#7a7676" stroke-width="1.20" stroke-linecap="round" fill="none"/>
<path d="M103.6 157.9h0M118.8 165.5h0M124.7 155.5h0M107.3 153.6h0M119.5 161.3h0M111.9 150.3h0M109.7 163.4h0M126.9 168.3h0M114.3 155.3h0M110.8 158.5h0M123.1 154.8h0M106.5 161.7h0M107.3 154.4h0M123.5 160.6h0M118.0 178.6h0M119.3 168.9h0M125.6 168.7h0M123.1 154.7h0M117.2 168.3h0M123.0 173.6h0M103.4 168.9h0M113.0 154.1h0M108.0 156.4h0M124.5 158.9h0M115.9 179.0h0M126.1 158.0h0M108.4 177.5h0M107.5 155.7h0" stroke="#b17342" stroke-width="1.20" stroke-linecap="round" fill="none"/>
<path d="M117.9 158.0h0M117.3 157.5h0M103.2 161.7h0M104.3 165.6h0M108.0 170.4h0M119.1 170.4h0M102.4 155.6h0M112.3 172.8h0M116.8 150.4h0M108.0 155.6h0M108.8 171.1h0M107.5 163.3h0M112.5 164.5h0M104.1 155.5h0M115.9 162.1h0M121.4 171.7h0M125.0 164.1h0M116.3 158.7h0M110.2 151.3h0M120.9 159.5h0M108.7 167.0h0M114.6 159.2h0M115.6 161.1h0M122.1 173.6h0M115.5 162.6h0M115.1 164.8h0M121.4 163.0h0M124.4 154.0h0M110.6 154.6h0M106.2 165.8h0M112.4 160.6h0M116.2 177.3h0M120.1 175.3h0M112.6 158.7h0M104.9 168.8h0M112.9 175.0h0M109.1 166.4h0M104.3 165.6h0M105.9 156.5h0M103.8 166.0h0M117.7 180.3h0M103.0 158.8h0M103.2 153.5h0M106.0 173.3h0M117.0 163.4h0" stroke="#e48430" stroke-width="1.20" stroke-linecap="round" fill="none"/>
<path d="M133.0 176.8h0M140.0 173.2h0M127.8 156.6h0M131.8 171.9h0M148.1 172.5h0M133.3 173.9h0M132.5 161.0h0M154.8 175.9h0M133.5 163.1h0M142.5 180.9h0M144.7 185.6h0M129.3 157.3h0M138.6 161.1h0M150.7 178.7h0" stroke="#246ca8" stroke-width="1.20" stroke-linecap="round" fill="none"/>
<path d="M55.2 194.7h0M65.4 198.0h0M56.0 212.5h0M56.7 196.1h0M56.3 214.8h0M59.2 194.3h0M52.4 204.0h0M60.5 201.4h0M68.5 212.3h0M61.9 201.8h0M69.0 201.3h0M66.4 191.9h0M70.0 198.5h0M65.6 195.8h0M66.8 207.9h0M50.8 202.8h0M68.7 200.3h0M68.5 198.2h0M58.9 192.2h0M60.8 202.4h0M56.3 212.0h0M68.5 198.9h0M53.3 213.5h0M56.4 202.4h0M67.0 207.8h0M63.1 215.0h0M60.1 211.7h0M67.0 210.5h0M56.1 196.6h0M54.9 203.2h0M58.4 218.4h0M54.1 213.3h0M68.3 200.9h0M51.4 201.7h0M54.8 199.2h0M51.5 212.6h0M55.5 209.4h0M65.5 206.4h0M67.1 204.9h0M56.0 203.8h0M64.0 215.0h0M65.9 212.9h0M60.5 217.7h0M56.8 203.7h0M66.6 206.1h0" stroke="#e43030" stroke-width="1.20" stroke-linecap="round" fill="none"/>
<path d="M71.7 200.1h0M62.2 193.0h0M52.6 208.8h0M32.3 201.2h0M43.9 211.1h0M61.7 205.3h0M66.3 194.2h0M64.3 204.8h0M45.6 192.1h0M49.7 179.5h0M49.1 198.2h0M57.9 208.4h0M59.6 211.9h0M52.8 209.6h0M47.2 198.4h0M53.1 189.8h0M31.1 193.7h0M36.8 200.4h0M54.4 194.3h0M53.7 200.5h0M51.5 206.4h0M44.0 208.7h0M42.9 210.5h0M54.5 218.7h0M68.6 202.4h0M41.8 192.0h0M50.3 197.2h0M31.9 202.8h0M56.4 213.3h0M39.5 197.3h0M60.2 208.6h0M31.5 195.1h0M56.0 185.0h0M38.2 188.1h0M70.2 200.0h0M37.6 187.0h0M29.6 195.3h0M50.5 215.9h0M54.2 204.7h0M34.6 209.2h0M62.1 198.4h0M42.1 180.4h0M47.1 219.7h0M37.9 192.9h0M69.4 196.0h0M52.1 214.7h0M32.9 180.8h0M55.8 193.8h0M50.5 203.1h0M57.6 188.2h0M61.1 203.7h0M41.6 176.5h0M41.5 189.7h0M50.9 203.1h0M32.2 208.9h0M40.6 208.7h0M47.1 179.8h0M44.6 220.3h0" stroke="#9d5f5f" stroke-width="1.20" stroke-linecap="round" fill="none"/>
<path d="M31.0 199.8h0M67.7 200.5h0M44.0 179.0h0M48.2 199.2h0M53.3 189.4h0M40.2 206.8h0M44.4 211.2h0M41.7 191.2h0M44.8 211.1h0M50.5 186.7h0M50.4 216.0h0M70.2 206.7h0M47.2 203.0h0M39.3 196.2h0M50.4 210.1h0M51.4 194.2h0M48.3 195.5h0M67.8 205.5h0M51.0 190.8h0M53.8 191.8h0M67.9 195.2h0M51.2 218.7h0M56.7 198.0h0M34.9 175.2h0M41.2 210.9h0M42.2 179.3h0M37.3 198.6h0M64.2 194.6h0M41.6 198.7h0M50.4 189.9h0M52.9 190.9h0M55.3 185.6h0M47.8 207.8h0M49.4 210.3h0M59.3 193.6h0M57.8 208.8h0M40.2 173.6h0M63.2 209.1h0M69.0 203.9h0M35.2 181.9h0M56.4 216.9h0M52.5 202.0h0M53.5 207.0h0M43.8 211.6h0M62.9 199.9h0M33.2 205.1h0M58.6 192.5h0M53.2 192.1h0M52.5 219.3h0M32.6 192.1h0M40.1 193.4h0M33.7 173.2h0M62.0 209.9h0M43.0 213.1h0M37.6 196.4h0M58.0 202.2h0M47.7 183.5h0M62.9 205.7h0M45.9 211.4h0M37.2 205.2h0M39.3 190.2h0M56.7 202.7h0M36.8 185.1h0M67.9 194.1h0M41.6 199.5h0M48.7 188.5h0M65.6 210.4h0M46.0 217.9h0M33.0 173.6h0M35.8 175.0h0M57.0 198.6h0M59.4 216.6h0M64.6 202.7h0M43.0 176.8h0M62.6 214.5h0M57.3 206.2h0M52.6 187.6h0M51.3 208.1h0M50.0 178.8h0M39.5 212.7h0M67.1 210.8h0M44.8 206.8h0M48.6 188.8h0M55.6 201.1h0M51.1 190.5h0M49.5 214.6h0M55.1 186.7h0M44.6 183.1h0" stroke="#d84848" stroke-width="1.20" stroke-linecap="round" fill="none"/>
<path d="M82.4 141.0h0M95.4 137.4h0M86.8 135.3h0M69.9 139.5h0" stroke="#48a878" stroke-width="1.20" stroke-linecap="round" fill="none"/>
<path d="M93.4 145.0h0M61.6 144.9h0M63.0 146.2h0M102.0 132.7h0M102.2 136.1h0M51.6 152.0h0M74.2 142.6h0M80.6 131.6h0M90.3 129.1h0M53.5 152.0h0M83.9 146.6h0M67.4 143.1h0M72.6 139.2h0M98.4 133.5h0M78.0 130.5h0M58.9 154.6h0M102.4 130.3h0M73.9 133.1h0M94.7 127.4h0M63.9 146.6h0M61.6 153.7h0M85.0 130.5h0M78.2 130.4h0M82.5 151.5h0M78.8 131.5h0M83.6 134.1h0M79.5 150.6h0M92.1 131.4h0M55.8 144.9h0M77.0 140.2h0M94.0 144.0h0M72.2 132.6h0M82.4 144.9h0M77.6 140.2h0M85.2 145.1h0M100.6 141.1h0M103.6 127.5h0M73.4 142.0h0M88.7 138.6h0M97.4 127.4h0M63.2 151.1h0M62.5 146.6h0M60.3 150.9h0M67.0 143.6h0M80.4 133.6h0M94.4 126.6h0" stroke="#84c0cc" stroke-width="1.20" stroke-linecap="round" fill="none"/>
<path d="M56.3 211.1h0M63.5 199.0h0M57.5 196.4h0M59.7 205.1h0M62.2 212.1h0M51.6 208.9h0M66.7 193.8h0M53.6 199.4h0M63.8 200.0h0M57.7 215.2h0M70.4 202.5h0" stroke="#b46060" stroke-width="1.20" stroke-linecap="round" fill="none"/>
<path d="M93.8 142.1h0M51.2 149.9h0M75.7 148.7h0M87.1 142.0h0M74.6 139.7h0M71.0 141.2h0M95.9 129.4h0M99.1 133.7h0M103.9 121.2h0M80.2 147.5h0M56.9 145.7h0M82.6 129.7h0M95.5 134.4h0M91.7 130.3h0M97.3 124.3h0M88.0 137.4h0M87.5 147.3h0M98.7 145.3h0M85.5 136.2h0M90.3 141.4h0M97.8 132.0h0M81.1 148.1h0M72.9 147.0h0M97.2 125.4h0M98.0 130.9h0M63.9 144.3h0M83.4 127.5h0M74.3 152.1h0M75.1 143.5h0M56.4 148.7h0M94.2 145.4h0M83.4 143.6h0M75.7 141.1h0M79.4 148.1h0M55.3 146.2h0M102.0 133.5h0M100.4 129.3h0M102.4 140.3h0M77.9 148.5h0M81.6 142.1h0M98.9 141.5h0M65.9 145.8h0M100.2 137.8h0M93.2 132.6h0M78.8 144.1h0M53.6 154.9h0M60.1 144.2h0M76.1 145.1h0" stroke="#48a8b4" stroke-width="1.20" stroke-linecap="round" fill="none"/>
<path d="M142.2 169.8h0M130.6 167.9h0M139.7 160.4h0M146.7 183.8h0M136.0 157.5h0M152.7 173.4h0M130.6 173.9h0M141.1 156.5h0M130.3 168.6h0M143.2 172.4h0M133.0 156.1h0M145.5 161.8h0M132.2 164.8h0M151.9 184.8h0M145.5 172.0h0M131.2 155.9h0M142.4 160.8h0M131.8 163.8h0M136.4 159.2h0M141.3 178.2h0M128.5 155.7h0M132.0 155.5h0M128.5 164.3h0M136.6 181.9h0M135.0 156.5h0M140.9 164.6h0M139.5 166.0h0" stroke="#226294" stroke-width="1.20" stroke-linecap="round" fill="none"/>
<path d="M125.4 147.4h0M108.2 128.5h0M117.2 149.6h0M66.3 165.1h0M116.3 139.1h0M106.6 150.7h0M107.7 116.5h0M122.8 143.0h0M68.8 162.8h0M129.1 124.5h0M118.6 117.0h0M55.8 160.0h0M115.9 142.6h0M55.7 165.1h0M106.9 127.7h0M69.7 177.3h0M112.8 117.3h0M125.2 146.5h0M61.5 176.3h0M64.5 171.2h0M117.2 117.5h0M73.4 158.0h0M130.5 133.7h0M99.3 134.6h0M72.4 158.1h0M124.7 122.5h0M113.3 144.2h0M112.7 146.4h0" stroke="#60a8b4" stroke-width="1.20" stroke-linecap="round" fill="none"/>
<path d="M117.2 164.1h0M109.2 169.3h0M112.3 150.3h0M115.1 153.5h0M121.8 167.2h0M122.1 158.0h0M108.6 150.7h0M121.2 158.8h0M114.0 154.9h0" stroke="#d8543c" stroke-width="1.20" stroke-linecap="round" fill="none"/>
<path d="M78.1 149.4h0M69.4 153.8h0M53.1 152.1h0M86.0 147.2h0M61.6 145.6h0M80.5 143.2h0M77.0 133.3h0M100.7 140.2h0" stroke="#9cb46c" stroke-width="1.20" stroke-linecap="round" fill="none"/>
<path d="M37.8 176.6h0M36.9 165.8h0M49.9 177.2h0M39.3 175.7h0M37.4 170.3h0M45.1 174.8h0M46.0 176.9h0M43.8 178.2h0M48.7 170.8h0M42.2 179.5h0M42.4 172.7h0M42.5 173.2h0M49.0 167.5h0" stroke="#75717b" stroke-width="1.20" stroke-linecap="round" fill="none"/>
<path d="M103.4 156.8h0M95.5 150.5h0M96.8 160.5h0M99.4 151.0h0M103.0 156.2h0M100.6 166.2h0M89.8 166.0h0M102.3 163.1h0M90.6 158.6h0M96.1 156.8h0M100.3 160.1h0M93.8 158.1h0M91.3 170.9h0M102.5 155.5h0M93.3 153.5h0M100.9 155.5h0M99.8 172.1h0M88.0 151.3h0M98.9 154.5h0M103.9 157.7h0M103.0 155.6h0M94.8 153.7h0M92.0 170.5h0" stroke="#a8786c" stroke-width="1.20" stroke-linecap="round" fill="none"/>
<path d="M33.2 140.5h0M43.5 144.3h0M51.2 157.9h0M39.1 145.6h0M46.4 164.0h0M42.3 155.0h0M36.1 140.3h0M47.7 156.1h0M44.6 165.6h0M53.0 156.2h0M43.0 164.8h0M44.0 143.7h0M44.4 163.4h0M31.2 138.9h0M35.8 152.1h0M37.1 131.6h0M39.0 161.0h0M46.7 156.3h0M36.1 130.3h0M38.2 149.5h0M46.7 160.3h0" stroke="#787878" stroke-width="1.20" stroke-linecap="round" fill="none"/>
<path d="M67.7 206.0h0M67.1 205.5h0M58.2 218.5h0M55.6 198.5h0M62.4 216.2h0M60.2 214.0h0M64.5 211.8h0M61.7 210.1h0M59.1 199.6h0M51.6 205.2h0M57.1 215.1h0M65.0 200.5h0M65.4 206.2h0M55.1 196.7h0M67.9 195.6h0M62.1 210.7h0M58.4 195.9h0" stroke="#b93d34" stroke-width="1.20" stroke-linecap="round" fill="none"/>
<path d="M54.4 147.3h0M80.1 142.7h0M82.8 148.4h0M77.9 129.4h0M77.5 143.2h0M54.8 147.0h0M77.6 141.8h0M66.4 148.5h0M64.5 139.7h0M87.3 143.2h0M58.4 144.0h0M75.1 132.1h0M91.3 141.8h0M102.3 127.3h0M94.0 135.7h0M68.8 147.6h0M80.9 132.0h0M97.2 134.0h0M64.1 152.0h0M83.7 134.2h0M75.8 130.0h0M70.9 139.9h0M83.2 149.0h0M68.9 146.5h0M74.8 137.8h0M76.9 139.3h0M77.4 152.6h0M67.3 149.4h0M87.4 137.6h0M75.0 151.1h0M87.6 132.7h0M98.4 137.3h0M68.0 136.7h0" stroke="#78909c" stroke-width="1.20" stroke-linecap="round" fill="none"/>
<path d="M88.3 151.1h0M86.2 153.8h0M87.5 158.1h0M87.9 150.5h0M97.0 171.4h0M87.0 159.4h0" stroke="#b46054" stroke-width="1.20" stroke-linecap="round" fill="none"/>
<path d="M41.6 191.5h0M31.3 183.9h0M62.6 210.8h0M59.5 191.3h0M38.6 176.0h0M62.2 203.0h0M62.7 215.4h0M52.0 196.8h0M43.0 203.6h0M55.5 190.3h0M45.5 177.3h0M31.1 201.6h0M46.0 197.4h0M36.9 177.8h0M35.2 185.4h0M46.7 178.1h0M44.8 197.5h0M56.0 208.3h0M52.1 219.1h0M125.8 123.0h0M60.0 188.2h0M50.4 216.9h0M60.5 205.2h0M69.4 196.2h0M43.6 189.4h0M31.1 206.4h0M47.9 205.6h0M63.1 195.4h0M50.9 201.0h0M34.9 194.3h0M46.5 205.2h0M39.0 215.3h0M39.6 181.5h0M119.0 116.4h0M32.1 207.4h0M44.7 198.0h0M67.9 201.3h0M37.0 214.2h0M46.5 186.2h0M59.6 209.0h0M32.0 186.9h0M34.4 203.8h0M47.5 180.9h0M31.6 202.0h0M57.8 208.9h0M42.2 213.1h0M39.9 173.3h0M47.7 212.3h0M36.2 193.8h0M48.8 219.4h0M132.2 146.9h0M58.3 201.3h0M49.8 215.9h0M66.4 201.7h0M58.2 206.8h0M63.4 200.9h0M29.8 188.9h0M45.1 191.7h0M47.9 177.5h0M36.1 198.0h0M127.8 124.3h0M69.3 210.0h0M52.3 183.1h0M56.6 200.9h0M58.7 209.8h0M55.9 190.1h0M65.0 211.5h0M46.1 177.8h0M54.7 197.5h0M65.2 210.5h0M39.5 181.9h0M42.4 209.7h0M30.6 183.6h0M110.4 150.8h0M68.1 208.6h0M38.3 189.4h0M51.6 191.4h0M38.0 193.1h0M56.5 212.4h0M66.0 199.0h0M32.0 178.2h0M40.7 206.3h0M51.6 186.4h0M40.3 191.4h0M64.3 202.0h0M41.6 215.5h0" stroke="#9c7878" stroke-width="1.20" stroke-linecap="round" fill="none"/>
<path d="M76.1 147.0h0M97.3 126.6h0M81.4 136.9h0M54.1 149.7h0M92.5 139.6h0M82.7 133.0h0M71.4 139.2h0M98.2 128.3h0M66.6 152.6h0M52.5 154.3h0M104.4 132.7h0M74.6 140.5h0M75.9 152.9h0M80.2 132.3h0M87.7 134.0h0M84.6 132.7h0M84.1 142.7h0M96.8 133.9h0M84.6 139.9h0M102.5 134.1h0M92.6 128.1h0M54.5 148.7h0M89.1 148.0h0M85.2 141.1h0M59.5 146.9h0M89.6 145.5h0M54.4 152.3h0M97.5 140.7h0M80.3 148.5h0M81.8 136.2h0M79.3 129.7h0M63.4 146.7h0M89.9 138.5h0M59.4 146.6h0M92.7 125.6h0M91.1 132.8h0M67.2 150.5h0M91.9 138.6h0M96.4 127.3h0" stroke="#618f97" stroke-width="1.20" stroke-linecap="round" fill="none"/>
<path d="M112.6 150.7h0M57.8 169.7h0M64.0 182.5h0M116.8 151.6h0M135.6 144.5h0M107.7 151.8h0M68.7 180.5h0M51.5 171.3h0M67.7 184.9h0M116.5 149.0h0M106.4 116.2h0M123.8 120.5h0M120.6 125.0h0M105.9 139.9h0M117.1 124.8h0M103.3 124.5h0M119.7 126.7h0M110.5 130.2h0M53.9 176.5h0M108.5 151.7h0M110.8 129.7h0M126.9 128.0h0M114.4 131.0h0M104.5 137.0h0M123.7 123.9h0M107.4 131.6h0M125.9 138.4h0M115.7 133.1h0M134.5 133.5h0M114.6 145.2h0M127.6 136.5h0M129.4 153.0h0M52.8 163.0h0M63.0 179.9h0M73.3 154.3h0M62.3 180.0h0M119.6 152.9h0M112.5 147.1h0M120.8 120.0h0M121.9 132.6h0M56.4 167.4h0M75.4 163.0h0M117.2 142.9h0M68.7 158.6h0M118.0 137.5h0M117.1 148.4h0M121.4 131.7h0M68.8 160.5h0M67.7 176.6h0M80.8 166.9h0M125.1 118.7h0M110.5 134.1h0M104.6 142.5h0M133.2 132.8h0M111.7 150.3h0M114.4 128.9h0M50.6 166.7h0M122.2 122.2h0M111.4 148.3h0M125.9 126.3h0M64.4 177.4h0M108.5 143.3h0M103.6 134.7h0M132.2 139.9h0M120.4 124.2h0M106.0 141.4h0" stroke="#909090" stroke-width="1.20" stroke-linecap="round" fill="none"/>
<path d="M74.9 180.3h0M64.7 176.9h0M68.9 182.3h0M64.2 177.5h0M74.9 179.1h0M64.7 178.1h0" stroke="#b4b448" stroke-width="1.20" stroke-linecap="round" fill="none"/>
<path d="M41.1 185.3h0M33.6 189.2h0M35.9 214.6h0M30.6 196.1h0M29.7 179.4h0M44.4 182.1h0M39.0 207.7h0M39.5 185.8h0M29.8 186.2h0M36.6 202.2h0M33.5 191.0h0M31.0 192.2h0M35.2 185.6h0M32.0 178.5h0M41.1 197.0h0M33.1 204.6h0M41.5 196.1h0M38.6 199.6h0M36.3 215.4h0M40.6 180.8h0M39.1 178.2h0M38.6 186.3h0M35.4 206.3h0M30.2 176.0h0M37.8 217.5h0M36.4 211.2h0M37.3 213.2h0M34.2 177.0h0M32.3 177.3h0M33.8 207.8h0M39.9 198.8h0M34.4 212.1h0M42.7 189.1h0M36.2 184.8h0M39.8 185.1h0M35.6 210.4h0M37.2 196.1h0M34.9 189.3h0M37.7 188.8h0M34.0 177.6h0M36.7 203.1h0M30.9 186.0h0M39.1 194.1h0M34.5 177.3h0M38.2 209.4h0M31.2 193.7h0M35.7 202.6h0M44.9 184.1h0M42.8 192.3h0M36.5 197.7h0M41.1 171.8h0M36.6 172.0h0M32.8 177.7h0" stroke="#908484" stroke-width="1.20" stroke-linecap="round" fill="none"/>
<path d="M48.1 181.2h0M43.0 213.2h0M35.5 178.3h0M31.9 183.8h0M47.3 215.4h0M41.4 187.1h0M58.1 204.5h0M35.4 188.5h0M40.5 181.3h0M40.8 218.7h0M48.1 219.9h0" stroke="#a86060" stroke-width="1.20" stroke-linecap="round" fill="none"/>
<path d="M79.1 176.5h0M70.1 185.5h0M74.4 157.7h0M79.9 171.4h0M120.8 130.5h0M130.0 124.7h0M78.0 176.6h0M119.6 126.8h0M57.7 158.7h0M114.5 133.6h0M116.2 138.5h0M75.8 170.4h0M56.4 161.8h0M126.3 142.7h0M130.2 127.8h0M123.3 125.0h0M52.6 175.7h0M118.1 129.2h0M127.1 144.2h0M106.3 148.1h0M117.5 145.3h0M124.6 148.6h0M59.2 175.8h0M101.4 124.3h0M112.8 143.8h0" stroke="#9cc0c0" stroke-width="1.20" stroke-linecap="round" fill="none"/>
<path d="M124.0 139.6h0M108.7 122.1h0M103.8 139.6h0M125.0 142.2h0M101.3 141.9h0M113.5 132.8h0M108.2 145.3h0M130.0 146.0h0M118.9 153.0h0M112.2 143.6h0M134.3 133.1h0M111.4 143.2h0M115.8 140.3h0M132.4 139.0h0M111.1 124.6h0M115.5 136.6h0M99.1 128.2h0M119.3 116.2h0M104.3 118.1h0M116.2 116.2h0M116.3 135.2h0M109.7 123.9h0M110.4 151.2h0M126.8 133.8h0M107.0 144.5h0M133.3 129.5h0M105.8 136.3h0M119.8 127.2h0M103.8 126.3h0M121.6 122.7h0M127.9 122.7h0M134.7 133.0h0M104.5 144.4h0M102.0 137.5h0M118.6 146.5h0M117.5 129.4h0M114.3 152.4h0M100.7 124.2h0M101.7 132.1h0M103.0 122.1h0M129.9 135.8h0M108.8 133.5h0" stroke="#838a8a" stroke-width="1.20" stroke-linecap="round" fill="none"/>
<path d="M45.5 170.0h0M42.9 163.3h0M48.6 165.1h0M45.8 179.5h0M45.0 178.8h0M36.5 178.7h0M33.5 174.3h0" stroke="#9078a8" stroke-width="1.20" stroke-linecap="round" fill="none"/>
<path d="M60.3 181.2h0" stroke="#6ca878" stroke-width="1.20" stroke-linecap="round" fill="none"/>
<path d="M132.0 113.5h0M132.3 113.6h0" stroke="#9a5934" stroke-width="1.20" stroke-linecap="round" fill="none"/>
<path d="M51.2 139.8h0M47.2 137.5h0M43.7 138.8h0" stroke="#b45454" stroke-width="1.20" stroke-linecap="round" fill="none"/>
<path d="M89.4 167.1h0M95.9 173.4h0M103.2 160.2h0M91.7 158.7h0M93.4 163.9h0M103.4 154.4h0M97.8 165.4h0M97.4 149.6h0M99.5 169.9h0M91.6 163.1h0M85.3 164.5h0M99.6 160.8h0M96.9 158.6h0M85.8 169.7h0M98.5 161.7h0M87.0 159.5h0M103.7 168.1h0M87.7 151.9h0M84.1 164.3h0M80.8 157.8h0M86.6 151.4h0M102.6 161.2h0M95.9 166.5h0M83.0 169.4h0" stroke="#d83c3c" stroke-width="1.20" stroke-linecap="round" fill="none"/>
<path d="M111.6 110.8h0M118.4 101.9h0M109.2 110.1h0M107.6 113.6h0M119.9 99.4h0M118.5 116.8h0M114.2 103.6h0M115.0 114.5h0M108.8 111.8h0" stroke="#cc78a8" stroke-width="1.20" stroke-linecap="round" fill="none"/>
<path d="M76.6 132.2h0M67.1 137.9h0M101.1 144.1h0M97.3 147.0h0M92.6 134.6h0M49.7 149.8h0" stroke="#a8606c" stroke-width="1.20" stroke-linecap="round" fill="none"/>
<path d="M117.9 159.0h0M120.9 167.8h0M124.0 165.3h0M105.5 161.4h0M112.7 167.7h0M122.8 171.5h0M105.5 167.2h0M114.2 167.3h0M108.3 158.0h0M116.3 165.5h0M107.3 174.2h0M127.2 163.4h0M103.4 158.0h0M127.0 160.4h0M105.8 170.3h0M124.5 170.5h0M114.4 162.1h0M126.9 162.4h0M121.3 159.9h0M107.1 162.3h0M121.9 171.5h0" stroke="#a8846c" stroke-width="1.20" stroke-linecap="round" fill="none"/>
<path d="M43.6 175.0h0M41.8 181.3h0M42.6 198.1h0M70.4 203.0h0M43.0 202.6h0M64.8 205.4h0M36.9 217.0h0" stroke="#906c6c" stroke-width="1.20" stroke-linecap="round" fill="none"/>
<path d="M108.9 116.1h0M112.2 114.0h0M118.6 103.9h0M117.7 102.8h0M109.3 109.1h0M112.0 117.7h0M111.3 114.0h0M116.5 117.5h0M115.7 114.9h0M109.9 109.4h0M107.9 106.8h0M118.2 99.0h0M104.5 102.7h0M107.3 106.5h0M117.4 107.1h0M105.4 106.4h0" stroke="#908490" stroke-width="1.20" stroke-linecap="round" fill="none"/>
<path d="M90.1 152.3h0M88.8 158.1h0M91.9 165.5h0M96.3 174.1h0" stroke="#d86c30" stroke-width="1.20" stroke-linecap="round" fill="none"/>
<path d="M67.5 208.3h0M57.6 201.3h0M40.9 188.0h0M43.6 183.9h0M52.7 190.2h0M59.9 197.6h0M67.5 211.9h0" stroke="#cc789c" stroke-width="1.20" stroke-linecap="round" fill="none"/>
<path d="M112.0 176.1h0M116.8 150.4h0M116.1 161.2h0M117.9 168.1h0M109.0 171.9h0M124.7 166.5h0M114.2 153.4h0M106.5 163.3h0M118.2 170.5h0M107.1 166.7h0M105.3 156.9h0M112.4 171.4h0" stroke="#789c84" stroke-width="1.20" stroke-linecap="round" fill="none"/>
<path d="M130.9 114.3h0M130.9 113.2h0M137.8 106.9h0M133.5 112.5h0M130.8 113.4h0M135.8 109.5h0" stroke="#d87824" stroke-width="1.20" stroke-linecap="round" fill="none"/>
<path d="M41.5 172.5h0M51.2 170.5h0M39.7 180.4h0M46.6 179.2h0M41.6 178.7h0M40.4 172.9h0M41.8 178.6h0" stroke="#c05460" stroke-width="1.20" stroke-linecap="round" fill="none"/>
<path d="M95.2 157.0h0M87.7 152.6h0M85.0 159.9h0M99.0 158.2h0M99.3 164.3h0M101.1 156.2h0M95.4 153.6h0M91.0 161.0h0M84.4 161.4h0M102.7 153.2h0M102.7 163.8h0M86.3 172.1h0M93.8 167.5h0" stroke="#a4524a" stroke-width="1.20" stroke-linecap="round" fill="none"/>
<path d="M130.1 132.3h0M126.5 142.2h0M120.8 125.3h0M109.8 117.6h0M129.6 141.8h0M103.0 120.2h0M104.5 123.8h0M99.5 139.6h0M133.8 143.8h0M132.6 141.4h0M102.9 124.8h0M101.6 132.7h0" stroke="#cc9060" stroke-width="1.20" stroke-linecap="round" fill="none"/>
<path d="M39.1 173.1h0M46.5 166.2h0" stroke="#549ca8" stroke-width="1.20" stroke-linecap="round" fill="none"/>
<path d="M44.9 169.6h0M50.9 176.8h0M48.5 170.1h0M38.2 180.1h0M33.8 173.5h0M33.5 169.4h0M46.6 179.5h0M38.3 172.7h0" stroke="#848490" stroke-width="1.20" stroke-linecap="round" fill="none"/>
<path d="M32.5 137.0h0M40.7 158.6h0M55.6 146.8h0M41.5 146.4h0M46.6 164.5h0M34.0 147.8h0" stroke="#90789c" stroke-width="1.20" stroke-linecap="round" fill="none"/>
<path d="M55.7 177.8h0M67.5 156.7h0M59.5 157.6h0M58.3 179.8h0M65.2 162.3h0M67.5 169.8h0M69.7 170.5h0M77.5 178.2h0M80.5 178.8h0M73.4 162.1h0" stroke="#cc606c" stroke-width="1.20" stroke-linecap="round" fill="none"/>
<path d="M109.6 107.7h0M115.2 114.7h0M115.7 118.0h0M106.8 109.0h0M119.5 100.2h0M118.1 111.1h0M108.6 104.9h0" stroke="#a86c6c" stroke-width="1.20" stroke-linecap="round" fill="none"/>
<path d="M92.7 136.8h0M90.4 140.8h0M93.6 141.2h0M94.3 141.4h0" stroke="#90974a" stroke-width="1.20" stroke-linecap="round" fill="none"/>
<path d="M126.3 132.4h0M125.5 131.9h0M121.3 126.5h0M124.4 129.4h0M118.9 128.9h0" stroke="#f08430" stroke-width="1.20" stroke-linecap="round" fill="none"/>
<path d="M147.3 180.7h0M145.7 173.4h0M144.5 172.2h0M145.4 165.1h0M145.5 158.1h0M134.8 166.7h0M137.1 175.2h0M130.7 158.6h0M149.5 173.9h0M142.9 177.8h0M129.3 161.8h0M142.2 184.7h0" stroke="#54789c" stroke-width="1.20" stroke-linecap="round" fill="none"/>
<path d="M31.0 201.1h0M36.1 208.9h0M35.8 189.1h0M31.2 189.8h0M35.6 200.9h0M42.3 193.9h0M36.3 213.2h0M39.1 185.2h0M44.0 180.8h0M29.8 180.7h0M43.7 177.1h0M37.8 189.1h0" stroke="#c05454" stroke-width="1.20" stroke-linecap="round" fill="none"/>
<path d="M108.7 108.3h0M106.5 114.4h0M109.9 109.3h0M115.0 98.7h0M116.1 117.1h0M114.7 105.2h0" stroke="#8e6b7d" stroke-width="1.20" stroke-linecap="round" fill="none"/>
<path d="M102.6 136.3h0M111.7 127.2h0M107.7 121.8h0M103.1 129.9h0M124.8 131.8h0M104.4 125.9h0M121.3 141.4h0M116.2 143.8h0M129.7 135.6h0" stroke="#c06060" stroke-width="1.20" stroke-linecap="round" fill="none"/>
<path d="M70.0 184.4h0M65.2 184.1h0" stroke="#909078" stroke-width="1.20" stroke-linecap="round" fill="none"/>
<path d="M74.2 181.3h0M63.8 178.2h0M74.3 179.2h0" stroke="#8a8d5c" stroke-width="1.20" stroke-linecap="round" fill="none"/>
<path d="M116.7 131.8h0" stroke="#a88460" stroke-width="1.20" stroke-linecap="round" fill="none"/>
<path d="M104.9 107.7h0M111.9 113.9h0M117.3 114.0h0M119.6 100.7h0M116.0 115.5h0M106.5 97.2h0" stroke="#a878a8" stroke-width="1.20" stroke-linecap="round" fill="none"/>
<path d="M87.3 139.8h0M88.6 144.8h0M88.8 144.7h0" stroke="#c0c03c" stroke-width="1.20" stroke-linecap="round" fill="none"/>
<path d="M62.5 180.0h0M66.4 179.6h0M73.5 181.5h0M65.9 179.7h0M66.4 181.8h0" stroke="#60a854" stroke-width="1.20" stroke-linecap="round" fill="none"/>
<path d="M40.3 174.2h0" stroke="#90a8c0" stroke-width="1.20" stroke-linecap="round" fill="none"/>
<path d="M92.7 139.0h0" stroke="#9c9c6c" stroke-width="1.20" stroke-linecap="round" fill="none"/>
<path d="M132.0 109.7h0M129.8 115.0h0" stroke="#a86048" stroke-width="1.20" stroke-linecap="round" fill="none"/>
<path d="M49.4 160.7h0M38.6 131.7h0" stroke="#90a8b4" stroke-width="1.20" stroke-linecap="round" fill="none"/>
<path d="M123.8 129.9h0M122.5 135.0h0M124.1 128.2h0" stroke="#b6713d" stroke-width="1.20" stroke-linecap="round" fill="none"/>
<path d="M41.7 141.9h0M35.0 206.7h0M39.7 133.0h0M99.0 146.4h0M106.3 122.2h0M106.7 115.5h0M100.0 139.9h0M46.6 200.3h0M95.5 165.1h0M122.3 157.1h0M70.3 199.0h0M74.3 130.3h0M110.7 163.9h0M36.2 162.0h0M106.3 124.2h0M65.4 210.1h0M78.1 162.7h0M40.6 198.6h0M66.4 198.2h0M36.1 177.6h0M58.5 177.6h0M147.7 178.3h0M101.8 131.9h0M133.7 167.0h0M106.5 116.2h0M125.1 159.1h0M111.9 114.5h0M121.1 160.1h0M53.8 175.6h0M95.1 148.1h0M79.1 160.2h0M110.1 138.0h0M67.4 158.0h0M105.0 156.9h0M124.9 175.1h0M100.9 167.4h0M88.6 161.1h0M80.8 167.1h0M91.5 129.2h0M47.0 163.8h0M33.4 155.3h0M65.9 170.4h0M78.3 155.2h0M38.8 148.8h0M65.8 182.8h0M79.4 131.3h0M37.2 146.4h0M46.4 217.2h0M55.2 164.4h0M62.9 195.8h0M133.5 137.2h0M60.8 211.3h0M151.0 186.8h0M121.0 149.6h0M55.3 202.8h0M33.3 149.5h0M54.5 187.3h0M65.3 197.1h0M130.5 138.1h0M50.9 138.2h0M51.6 158.9h0M52.3 208.2h0M112.1 109.6h0M42.4 175.4h0M38.0 210.2h0M110.8 102.8h0M75.5 135.4h0M110.2 144.7h0M40.9 165.5h0M123.4 165.9h0M91.8 144.3h0M119.4 176.3h0M54.2 189.0h0M123.4 167.5h0M50.9 181.3h0M96.2 133.2h0M43.5 178.9h0M53.4 210.4h0M76.5 147.4h0M41.0 183.7h0M106.8 154.4h0M43.4 189.3h0M143.6 167.8h0M46.3 178.0h0M97.8 130.5h0M126.0 131.9h0M69.3 167.8h0M38.9 134.4h0M31.6 135.0h0M34.2 140.5h0M77.0 172.9h0M42.6 142.2h0M53.7 218.8h0M120.3 154.6h0M54.6 195.1h0M43.4 168.6h0M33.1 155.7h0M61.9 189.5h0M36.5 190.9h0M56.2 146.9h0M57.3 169.4h0M36.0 205.2h0M112.2 133.8h0M61.4 152.9h0M131.0 134.4h0M55.8 216.6h0M69.5 183.2h0M107.7 143.4h0M103.4 153.4h0M106.0 133.6h0M40.9 153.2h0M101.1 142.9h0M44.0 175.9h0M110.2 149.4h0M52.6 167.0h0M81.8 172.9h0M107.2 137.8h0M33.0 173.3h0M62.2 162.6h0M82.5 172.2h0M45.1 211.6h0M94.6 166.6h0M39.7 203.8h0M32.8 203.7h0M57.6 161.3h0M98.7 168.1h0M79.8 180.2h0M99.5 123.6h0M154.7 175.6h0M151.2 180.5h0M34.5 196.9h0M40.0 172.3h0M30.8 146.3h0M145.8 187.1h0M113.6 124.6h0M114.8 102.1h0M116.5 110.7h0M108.5 142.6h0M91.3 158.6h0M133.3 132.2h0M41.9 183.1h0M123.3 126.8h0M111.5 152.0h0M37.4 212.4h0M123.1 126.7h0M114.4 121.6h0M39.0 153.5h0M37.5 174.5h0M118.8 152.9h0M61.3 156.7h0M105.8 144.5h0M43.7 202.0h0M57.4 193.9h0M150.9 181.6h0M33.1 142.7h0M71.0 140.3h0M141.4 174.1h0M72.9 156.5h0M59.4 194.8h0M38.9 173.7h0M34.6 190.4h0M95.3 141.9h0M51.5 150.5h0M95.8 144.0h0M62.6 169.4h0M101.8 154.7h0M103.7 159.9h0M52.0 178.5h0M67.1 181.1h0M47.4 172.1h0M111.8 173.1h0M102.1 171.0h0M144.6 162.4h0M65.2 213.2h0M115.5 149.7h0M96.3 140.1h0M69.9 141.8h0M107.5 130.9h0M114.0 104.8h0M38.8 131.2h0M102.3 125.8h0M46.3 169.4h0M134.8 158.3h0M82.5 155.8h0M29.7 192.7h0M38.2 179.7h0M61.7 205.4h0M72.7 142.4h0M55.2 209.0h0M69.4 164.7h0M117.1 163.5h0M32.4 200.5h0M34.7 145.2h0M30.8 179.9h0M59.9 157.6h0M105.2 166.3h0M114.7 150.2h0M69.9 151.9h0M106.2 155.6h0M51.8 171.6h0M33.7 168.9h0M52.3 216.1h0M92.5 146.9h0M102.2 146.1h0M35.2 138.3h0M58.2 215.2h0M122.3 151.5h0M58.2 210.4h0M85.6 148.6h0M91.4 129.8h0M68.4 181.7h0M108.9 156.0h0M50.8 142.0h0M123.6 174.0h0M134.8 168.0h0M117.0 135.7h0M101.8 160.2h0M89.1 137.3h0M57.9 201.3h0M60.1 205.0h0M45.1 186.8h0M60.4 208.6h0M102.1 137.6h0M105.0 150.7h0M39.0 189.7h0M117.5 179.9h0M134.8 165.3h0M84.2 144.4h0M130.9 127.7h0M84.3 151.3h0M29.9 193.0h0M40.8 151.9h0M45.3 171.0h0M129.4 135.8h0M115.4 105.3h0M35.9 210.0h0M86.7 127.7h0M71.1 204.5h0M51.0 204.7h0M46.8 213.1h0M33.6 207.8h0M108.4 106.2h0M48.0 138.5h0M116.8 132.1h0M126.6 171.1h0M40.0 219.0h0M119.5 129.9h0M118.4 164.4h0M98.8 127.9h0M88.4 141.3h0M70.3 149.4h0M82.0 156.1h0M90.0 136.5h0M52.8 205.4h0M119.5 103.2h0M56.5 172.8h0M123.2 119.9h0M136.8 160.0h0M36.6 144.4h0M94.4 166.5h0M71.5 183.2h0M126.3 142.7h0M61.8 165.0h0M84.8 154.0h0M86.1 151.0h0M86.4 137.7h0M127.4 150.3h0M51.4 172.6h0M54.8 186.0h0M74.1 137.2h0M34.8 193.8h0M36.5 174.8h0M114.4 165.6h0M37.1 186.2h0M43.7 186.5h0M99.9 142.1h0M87.3 142.1h0M60.7 210.3h0M63.2 152.1h0M83.9 165.7h0M131.5 156.0h0M43.3 176.7h0M111.0 127.0h0M138.5 170.3h0M42.1 166.0h0M92.7 163.6h0M117.6 99.6h0M128.5 132.9h0M38.5 192.3h0M103.3 154.9h0M64.7 211.1h0M68.5 183.2h0M60.7 197.1h0M37.8 191.7h0M31.9 139.5h0M65.5 202.1h0M60.6 202.7h0M90.4 159.1h0M64.0 144.6h0M108.3 131.2h0M51.8 171.4h0M117.1 100.5h0M35.9 201.1h0M43.0 174.0h0M131.5 170.7h0M79.2 131.0h0M95.9 147.0h0M41.1 217.6h0M53.5 187.7h0M86.4 167.8h0M38.1 187.8h0M123.4 129.7h0M54.5 151.7h0M111.1 126.5h0M74.2 132.2h0M136.3 154.0h0M70.8 201.1h0M101.9 119.3h0M58.4 188.0h0M145.5 159.7h0M129.9 137.9h0M43.0 173.2h0M35.4 194.9h0M64.9 160.4h0M65.5 196.0h0M117.6 170.9h0M77.7 160.9h0M126.1 128.8h0M91.7 148.2h0M60.2 199.4h0M38.2 151.2h0M125.5 166.6h0M101.5 166.8h0M70.3 141.2h0M105.5 135.7h0M132.6 141.4h0M87.4 125.8h0M55.3 195.9h0M65.8 195.4h0M107.8 125.3h0M51.9 186.9h0M39.3 162.2h0M135.1 141.2h0M42.5 172.6h0M43.4 207.4h0M58.5 204.5h0M38.7 179.4h0M33.2 199.1h0M63.6 148.5h0M91.2 150.0h0M43.0 208.5h0M106.2 160.3h0M67.0 192.0h0M96.4 135.5h0M30.0 193.2h0M46.8 183.3h0M52.5 142.2h0M38.0 149.9h0M125.8 164.9h0M31.3 178.0h0M70.0 201.3h0M94.6 161.4h0M110.9 156.5h0M155.3 180.5h0M30.9 192.3h0M60.9 169.9h0M120.5 139.6h0M59.8 154.4h0M120.3 126.3h0M48.1 188.5h0M46.2 162.7h0M94.5 139.2h0M67.1 167.0h0M94.6 127.9h0M47.8 164.4h0M125.6 157.3h0M91.2 139.4h0M128.2 142.8h0M109.7 175.4h0M48.9 151.6h0M36.7 174.0h0M58.0 202.8h0M47.5 172.0h0M87.4 158.0h0M30.8 191.8h0M141.1 171.3h0M105.8 109.9h0M128.7 133.0h0M35.8 192.5h0M105.2 158.2h0M97.7 129.3h0M47.8 165.5h0M46.3 154.1h0M98.4 128.6h0M42.7 138.8h0M40.9 151.4h0M119.1 133.0h0M59.3 187.7h0M120.3 124.5h0M133.7 156.5h0M117.7 155.6h0M120.6 125.2h0M105.4 162.3h0M112.1 149.8h0M84.6 127.4h0M48.5 166.1h0M123.3 168.6h0M74.5 151.2h0M90.5 166.3h0M95.9 160.1h0M107.1 100.3h0M49.3 140.6h0M38.7 177.7h0M114.1 150.5h0M116.4 174.2h0M47.1 210.0h0M116.2 126.0h0M55.8 218.9h0M70.0 135.6h0M60.7 167.6h0M64.1 209.9h0M57.1 203.6h0M33.6 168.2h0M80.1 128.3h0M111.3 131.6h0M118.1 97.2h0M34.7 196.1h0M90.0 151.6h0M44.8 176.7h0M41.5 185.2h0M41.2 197.7h0M44.0 191.2h0M95.4 151.0h0M50.2 137.7h0M52.1 200.1h0M35.3 203.0h0M47.5 138.3h0M108.6 170.7h0M111.2 104.9h0M32.0 189.6h0M141.2 168.5h0M119.7 177.9h0M112.3 142.6h0M99.7 126.7h0M56.7 187.4h0M68.2 201.3h0M93.4 164.9h0M83.5 135.3h0M51.4 215.6h0M101.9 135.0h0M42.9 208.2h0M115.9 131.0h0M135.4 173.3h0M102.9 167.5h0M42.7 190.3h0M40.2 191.6h0M155.9 174.4h0M43.8 189.4h0M31.5 186.4h0M66.0 181.5h0M149.0 175.4h0M121.2 131.4h0M42.8 166.0h0M105.1 126.5h0M36.7 144.5h0M49.6 203.9h0M42.3 185.9h0M36.4 209.4h0M65.3 165.1h0M82.6 141.8h0M43.3 210.1h0M139.7 163.1h0M61.8 152.8h0M152.8 184.5h0M54.2 147.4h0M114.8 143.7h0M123.6 157.3h0M94.4 142.7h0M53.5 150.8h0M141.8 177.1h0M105.3 140.3h0M36.8 187.6h0M127.8 143.4h0M61.2 216.0h0M99.0 155.9h0M77.8 179.9h0M67.5 193.9h0M101.5 151.7h0M141.6 172.0h0M64.5 193.6h0M100.8 143.7h0M107.3 151.3h0M121.1 138.1h0M86.1 143.2h0M88.1 158.1h0M118.0 153.5h0M130.7 166.1h0M88.1 158.9h0M65.3 191.8h0M82.7 175.4h0M118.8 103.4h0M62.0 172.5h0M37.3 174.4h0M136.5 170.4h0M117.9 168.5h0M91.5 156.7h0M89.5 127.9h0M71.6 185.6h0M145.1 174.1h0M120.7 167.1h0M41.1 183.2h0M67.1 183.0h0M39.3 185.6h0M44.7 139.4h0M143.2 173.6h0M100.8 130.7h0M144.9 180.8h0M29.8 177.1h0M56.5 179.6h0M118.9 167.1h0M45.3 192.0h0M100.2 168.8h0M63.7 175.3h0M72.3 176.7h0M30.8 200.5h0M141.2 170.1h0M135.2 176.3h0M133.8 163.9h0M37.9 131.1h0M141.9 172.0h0M61.0 207.7h0M106.3 125.2h0M142.4 185.1h0M123.8 130.2h0M92.3 142.5h0M43.9 171.8h0M59.3 191.3h0M116.0 142.1h0M61.1 142.4h0M88.1 140.9h0M79.2 181.2h0M107.2 162.5h0M72.0 136.1h0M30.8 188.2h0M52.1 205.1h0M122.2 129.6h0M42.0 205.2h0M131.5 165.0h0M116.2 134.4h0M131.3 130.7h0M54.0 218.7h0M31.4 183.2h0M96.2 128.3h0M105.2 148.0h0M131.5 175.6h0M120.1 172.5h0M126.4 152.7h0M106.3 109.1h0M33.3 173.8h0M93.3 135.5h0M156.8 181.0h0M113.5 168.8h0M155.4 180.1h0M50.0 206.1h0M132.2 145.5h0M50.7 202.2h0M91.0 157.6h0M85.7 160.4h0M103.7 139.8h0M61.3 203.7h0M106.6 117.5h0M116.4 149.3h0M65.6 204.3h0M35.7 194.5h0M84.3 127.3h0M33.3 212.7h0M110.2 130.5h0M69.1 205.9h0M47.9 170.9h0M37.8 211.3h0M122.1 124.8h0M127.3 122.1h0M85.4 143.1h0M39.6 132.2h0M48.7 178.1h0M114.6 107.4h0M61.4 175.2h0M65.8 202.4h0M39.5 188.4h0M72.7 156.2h0M62.5 161.2h0M81.0 162.2h0M40.5 198.1h0M107.2 152.1h0M96.5 165.8h0M37.1 206.8h0M54.4 186.3h0M82.5 159.9h0M40.5 180.2h0M62.8 195.8h0M43.4 131.8h0M45.3 174.9h0M114.6 120.7h0M60.3 206.9h0M38.3 136.7h0M60.5 167.1h0M56.8 179.8h0M33.1 192.3h0M67.2 171.6h0M90.6 167.9h0M73.5 170.2h0M131.9 141.8h0M120.3 142.6h0M114.3 116.7h0M40.1 166.3h0M98.2 144.2h0M75.3 176.2h0M43.6 186.4h0M89.7 150.6h0M41.7 166.3h0M118.5 166.6h0M102.5 136.9h0M41.3 203.3h0M135.7 144.6h0M142.6 164.9h0M59.1 213.7h0M120.7 120.8h0M118.4 139.4h0M52.4 172.5h0M151.9 165.8h0M53.9 175.2h0M43.4 188.4h0M65.9 169.6h0M41.4 176.7h0M125.6 136.6h0M37.1 145.5h0M100.5 127.4h0M119.8 143.5h0M66.8 141.1h0M33.3 176.8h0M53.9 154.5h0M33.2 204.5h0M128.4 156.6h0M32.6 184.3h0M39.9 198.2h0M119.9 127.3h0M38.5 199.2h0M82.3 131.7h0M69.8 175.8h0M40.1 163.9h0M45.5 192.6h0M97.5 173.4h0M31.5 191.1h0M66.7 195.1h0M40.9 183.9h0M33.7 203.6h0M114.2 114.6h0M42.1 186.9h0M114.2 115.2h0M101.9 158.7h0M59.4 167.3h0M53.2 154.5h0M64.3 144.4h0M53.7 178.9h0M135.9 175.3h0M41.4 210.6h0M121.8 148.5h0M43.9 190.4h0M49.6 165.1h0M54.2 201.5h0M52.5 157.6h0M83.5 151.0h0M62.7 182.8h0M78.0 132.7h0M56.1 213.6h0M106.1 122.7h0M37.4 206.7h0M40.2 174.5h0M105.9 156.4h0M64.5 213.1h0M70.3 196.7h0M70.6 199.5h0M152.8 167.0h0M92.2 146.6h0M101.2 125.8h0M73.9 166.1h0M71.8 183.9h0M153.7 168.4h0M55.3 149.8h0M77.8 166.2h0M42.0 174.0h0M63.6 162.8h0M79.6 170.9h0M79.4 161.8h0M61.4 205.1h0M47.0 216.5h0M55.5 199.4h0M47.6 211.8h0M71.7 161.1h0M92.5 138.9h0M90.9 160.8h0M99.3 137.0h0M112.9 118.5h0M45.2 162.7h0M107.5 117.3h0M155.6 170.3h0M68.5 154.5h0M113.2 145.5h0M84.3 167.7h0M116.6 100.8h0M57.5 187.2h0M107.2 160.2h0M62.6 215.3h0M117.7 113.4h0M52.3 199.9h0M134.5 163.4h0M142.6 158.6h0M69.4 137.9h0M46.9 219.3h0M100.6 128.9h0M108.4 107.7h0M113.3 135.7h0M147.4 174.0h0M131.9 152.4h0M33.4 188.1h0M54.3 215.8h0M131.3 149.7h0M36.1 161.2h0M118.4 134.6h0M146.1 158.1h0M38.7 131.9h0M34.0 184.0h0M68.4 182.3h0M123.1 148.6h0M111.2 156.8h0M34.4 212.4h0M52.3 148.8h0M153.8 177.5h0M61.9 143.4h0M91.5 134.0h0M87.4 141.2h0M122.5 176.5h0M41.9 186.1h0M80.6 164.1h0M45.3 163.3h0M114.6 114.4h0M51.2 185.4h0M71.8 184.0h0M36.0 171.6h0M33.5 173.4h0M41.5 195.7h0M63.5 148.6h0M112.1 119.4h0M70.3 182.9h0M97.0 126.0h0M120.1 142.2h0M51.7 200.7h0M33.2 154.3h0M130.7 112.2h0M41.3 212.1h0M65.7 193.2h0M138.2 182.5h0M61.8 155.0h0M107.3 127.4h0M64.3 170.3h0M117.2 166.0h0M54.1 164.7h0M42.2 173.4h0M31.4 134.8h0M120.4 161.9h0M153.5 174.7h0M116.8 99.2h0M70.1 151.4h0M61.0 204.5h0M117.9 170.8h0M113.3 169.1h0M39.8 199.3h0M112.4 122.9h0M53.2 201.0h0M142.9 185.6h0M61.7 194.1h0M70.8 152.8h0M134.1 143.3h0M108.7 149.8h0M71.3 161.0h0M78.2 148.5h0M39.8 174.8h0M33.0 140.9h0M152.7 173.9h0M44.0 165.2h0M122.9 131.4h0M72.1 148.4h0M117.0 106.5h0M65.7 149.7h0M74.8 155.1h0M45.2 198.8h0M115.4 147.7h0M60.1 216.4h0M119.2 154.0h0M71.9 167.8h0M59.7 191.5h0M79.9 162.5h0M66.6 194.0h0M60.6 170.6h0M88.9 141.4h0M32.8 147.5h0M30.3 151.4h0M42.0 167.2h0M62.4 211.7h0M64.6 204.0h0M117.5 175.3h0M71.5 137.8h0M118.0 149.5h0M70.6 204.9h0M55.2 189.2h0M40.3 208.3h0M131.8 161.8h0M111.1 152.0h0M132.2 164.6h0M55.0 191.8h0M77.0 134.6h0M90.4 163.8h0M56.6 155.1h0M130.8 126.1h0M58.8 189.1h0M46.4 185.5h0M60.5 200.6h0M132.9 168.8h0M68.6 169.7h0M37.0 215.0h0M55.8 169.8h0M82.4 137.0h0M43.4 200.8h0M70.8 203.6h0M61.3 198.2h0M106.4 147.7h0M98.8 125.5h0M89.4 144.8h0M105.2 122.5h0M138.2 107.0h0M118.8 131.7h0M114.8 150.8h0M38.1 135.0h0M42.0 183.9h0M91.7 144.5h0M119.5 146.4h0M68.4 160.6h0M115.4 133.3h0M137.6 171.8h0M35.7 212.5h0M82.3 148.5h0M51.6 218.7h0M89.1 164.1h0M40.7 199.5h0M37.4 151.5h0M69.3 210.8h0M141.1 178.0h0M132.6 163.3h0M61.9 201.8h0M131.0 158.6h0M147.2 184.6h0M29.8 180.5h0M82.7 145.7h0M87.7 148.6h0M84.5 145.7h0M112.9 145.5h0M125.2 131.3h0M68.8 137.9h0M68.4 205.2h0M101.0 168.7h0M106.9 107.4h0M63.3 189.5h0M132.7 145.2h0M60.8 191.6h0M54.8 217.7h0M37.4 204.7h0M74.1 169.5h0M45.2 163.2h0M116.7 145.8h0M46.2 183.0h0M31.7 147.7h0M120.6 115.7h0M33.3 209.2h0M46.1 156.8h0M53.0 171.5h0M47.1 154.8h0M117.0 136.1h0M116.5 164.0h0M35.0 185.9h0M146.9 178.0h0M33.3 191.1h0M150.1 162.3h0M88.3 161.3h0M47.4 146.0h0M55.2 195.1h0M51.4 186.3h0M64.8 156.7h0M146.1 159.8h0M39.7 203.2h0M121.8 117.4h0M132.5 170.2h0M112.3 126.4h0M101.7 131.6h0M93.3 160.8h0M126.8 137.3h0M103.5 144.3h0M143.1 173.4h0M79.2 174.6h0M63.4 209.2h0M50.2 185.9h0M121.9 150.5h0M122.5 127.4h0M44.0 204.7h0M97.3 146.7h0M105.9 141.3h0M93.9 144.6h0M114.3 156.5h0M85.4 127.2h0M45.7 139.7h0M30.6 193.0h0M42.1 200.4h0M39.9 178.4h0M34.0 188.9h0M117.4 116.7h0M112.4 167.3h0M47.3 192.4h0M57.6 199.7h0M41.6 165.7h0M114.0 113.2h0M32.7 181.7h0M133.3 176.6h0M76.1 169.6h0M55.9 217.1h0M52.9 202.0h0M134.8 141.7h0M124.6 120.3h0M75.9 160.6h0M59.3 144.6h0M115.9 115.8h0M113.4 131.6h0M113.1 162.6h0M114.1 178.5h0M49.8 214.0h0M33.9 164.8h0M116.5 149.1h0M99.8 128.7h0M60.4 200.1h0M42.9 168.4h0M52.5 162.5h0M118.4 122.6h0M116.8 167.1h0M120.8 125.9h0M129.5 124.0h0M51.5 216.2h0M37.3 174.3h0M100.3 138.0h0M49.7 186.8h0M79.6 177.4h0M128.2 125.3h0M119.4 118.6h0M82.8 172.4h0M47.3 172.4h0M65.9 210.6h0M50.6 139.4h0M104.6 122.5h0M51.6 213.1h0M135.7 168.1h0M88.9 133.4h0M114.6 138.0h0M31.7 178.2h0M138.0 161.4h0M39.1 183.4h0M47.7 201.4h0M99.4 144.3h0M56.2 152.8h0M36.1 173.2h0M67.1 204.2h0M128.8 156.7h0M56.3 152.0h0M102.2 133.5h0M33.2 195.8h0M120.6 146.9h0M104.4 142.8h0M77.3 171.2h0M99.7 166.5h0M131.9 176.1h0M96.5 168.6h0M44.2 192.6h0M58.7 172.4h0M77.5 171.6h0M92.1 142.9h0M128.7 128.8h0M40.3 148.6h0M156.7 175.8h0M103.9 150.5h0M66.9 179.8h0M110.7 140.8h0M49.7 179.3h0M145.5 169.2h0M42.8 215.2h0M79.1 132.4h0M124.1 159.1h0M133.2 141.8h0M104.2 157.7h0M58.1 172.1h0M78.9 179.6h0M51.6 146.3h0M37.9 207.6h0M54.7 172.4h0M31.1 199.3h0M136.9 107.3h0M48.2 203.7h0M37.7 173.6h0M94.9 154.1h0M51.4 143.1h0M104.9 170.8h0M129.3 144.3h0M108.6 136.1h0M121.4 135.2h0M110.6 117.3h0M107.4 97.0h0M32.6 141.8h0" stroke="#5a5a5a" stroke-width="1.10" stroke-linecap="round" fill="none"/>
<path d="M55.8 173.4h0M132.4 132.0h0M46.5 201.2h0M56.2 201.6h0M46.9 200.5h0M31.6 134.0h0M95.8 152.1h0M53.4 154.7h0M57.6 204.6h0M81.2 177.2h0M154.6 178.1h0M53.3 214.8h0M58.3 159.2h0M30.3 187.1h0M49.1 190.9h0M62.2 208.5h0M67.8 157.2h0M109.6 169.5h0M39.2 184.2h0M72.7 163.8h0M37.4 217.2h0M39.8 146.6h0M63.7 152.5h0M150.8 178.2h0M76.7 177.9h0M80.5 140.0h0M99.0 140.8h0M88.0 132.4h0M127.6 162.7h0M40.9 175.1h0M66.2 138.3h0M68.6 158.6h0M108.8 158.7h0M121.1 166.2h0M42.8 178.6h0M85.8 141.4h0M52.2 150.1h0M98.5 164.4h0M64.4 199.2h0M98.6 139.0h0M45.2 180.6h0M142.9 157.6h0M79.4 136.5h0M104.0 119.6h0M67.3 210.5h0M117.2 162.8h0M94.2 136.1h0M60.8 207.4h0M117.8 117.5h0M73.4 155.9h0M111.6 115.7h0M36.9 177.1h0M51.9 171.8h0M113.7 155.1h0M36.2 175.9h0M65.1 142.1h0M62.8 212.9h0M33.5 147.4h0M105.2 117.8h0M53.4 150.1h0M67.2 206.9h0M94.1 155.9h0M146.8 165.5h0M43.2 167.1h0M58.1 216.4h0M146.7 184.4h0M139.2 175.9h0M103.9 126.1h0M103.4 151.1h0M83.7 131.9h0M119.2 107.1h0M148.2 165.5h0M115.0 130.6h0M76.5 155.1h0M124.6 129.7h0M123.9 156.5h0M147.7 174.0h0M123.5 145.8h0M115.5 103.3h0M114.6 143.8h0M46.0 173.3h0M65.3 153.2h0M103.0 169.1h0M141.5 157.3h0M133.3 169.9h0M51.7 168.8h0M147.4 182.7h0M45.8 220.0h0M66.0 197.0h0M34.4 198.7h0M136.2 165.3h0M40.7 177.8h0M61.1 216.0h0M63.4 194.9h0M118.6 107.7h0M46.1 174.7h0M53.2 154.9h0M116.3 153.5h0M65.2 194.4h0M113.9 103.3h0M78.2 134.6h0M64.0 160.4h0M47.0 220.1h0M81.5 168.5h0M129.1 147.9h0M66.0 205.1h0M96.0 140.2h0M66.4 199.3h0M86.9 143.3h0M64.8 151.5h0M60.4 178.9h0M44.8 182.7h0M43.6 142.1h0M48.1 210.8h0M40.2 179.2h0M132.3 165.5h0M46.5 218.8h0M31.8 149.1h0M123.0 121.1h0M76.7 135.4h0M73.9 182.1h0M49.4 175.2h0M123.5 175.7h0M106.4 176.3h0M62.6 155.9h0M114.4 153.2h0M146.8 175.0h0M47.3 172.6h0M62.3 211.8h0M63.2 179.4h0M63.6 168.0h0M100.0 144.4h0M69.8 171.2h0M70.0 142.7h0M34.8 149.7h0M115.1 123.9h0M110.8 147.2h0M73.4 145.4h0M117.9 136.0h0M76.9 162.3h0M51.0 206.8h0M101.2 130.2h0M58.6 156.0h0M35.8 205.0h0M52.4 204.6h0M65.2 195.0h0M60.9 164.9h0M89.4 132.0h0M61.3 193.7h0M103.9 148.7h0M119.7 163.5h0M98.8 145.1h0M57.7 197.4h0M73.7 150.7h0M60.8 206.5h0M118.1 174.0h0M32.9 147.9h0M38.9 142.4h0M134.1 156.6h0M88.9 144.7h0M116.4 171.9h0M112.3 160.8h0M71.3 173.0h0M105.1 104.9h0M50.4 191.9h0M35.9 192.1h0M67.0 173.0h0M43.2 192.0h0M110.5 175.2h0M33.6 199.5h0M132.8 138.0h0M103.5 134.2h0M65.0 157.2h0M78.6 145.3h0M133.7 151.4h0M49.5 190.7h0M64.2 184.1h0M79.4 133.4h0M42.1 162.5h0M62.2 202.4h0M101.4 148.3h0M71.0 183.5h0M106.0 151.0h0M109.9 127.1h0M51.2 160.3h0M67.1 210.4h0M144.2 167.5h0M68.2 155.9h0M51.0 187.8h0M69.0 205.8h0M44.2 200.7h0M109.0 116.2h0M58.7 198.3h0M59.8 150.6h0M50.6 208.6h0M78.9 138.9h0M72.3 146.9h0M106.4 143.0h0M110.9 139.7h0M141.7 176.2h0M102.9 165.2h0M134.6 137.5h0M70.4 144.5h0M45.4 167.0h0M43.7 141.8h0M155.8 180.1h0M36.7 185.6h0M110.9 151.2h0M33.0 211.9h0M67.3 183.9h0M38.3 170.7h0M118.6 112.1h0M98.4 152.6h0M83.4 161.4h0M118.2 158.9h0M109.1 127.0h0M76.3 138.1h0M84.4 161.3h0M129.8 159.9h0M37.9 201.4h0M73.4 166.4h0M41.8 153.3h0M40.0 157.8h0M113.0 141.8h0M115.9 152.6h0M65.8 194.1h0M115.9 108.0h0M64.6 201.8h0M80.6 160.8h0M73.4 169.2h0M66.1 170.3h0M91.8 160.5h0M131.7 161.2h0M91.1 150.1h0M44.2 153.1h0M116.0 130.3h0M48.8 215.9h0M93.8 168.9h0M65.7 183.6h0M151.0 167.7h0M49.9 144.8h0M32.2 191.5h0M37.3 194.2h0M64.7 200.8h0M149.2 179.1h0M89.1 139.3h0M77.3 136.5h0M37.3 164.6h0M99.4 126.8h0M90.4 164.0h0M91.2 151.8h0M138.3 167.3h0M96.4 132.2h0M78.4 130.5h0M152.0 183.8h0M91.8 149.2h0M36.1 141.8h0M136.4 167.6h0M60.5 165.2h0M87.3 172.4h0M57.2 214.9h0M82.4 137.3h0M44.4 180.9h0M55.7 194.2h0M34.7 205.0h0M105.7 165.7h0M37.3 175.9h0M70.1 140.9h0M94.6 166.3h0M134.8 111.7h0M74.3 132.3h0M68.3 211.1h0M41.4 157.7h0M38.1 201.0h0M58.2 144.0h0M33.9 156.4h0M59.9 208.4h0M147.4 172.8h0M118.2 140.7h0M62.8 197.1h0M50.1 202.1h0M69.9 159.9h0M41.6 211.8h0M75.3 175.8h0M46.2 217.9h0M143.3 160.2h0M49.3 173.0h0M105.9 174.3h0M61.1 168.3h0M46.7 162.5h0M101.4 129.5h0M61.6 205.5h0M30.2 189.8h0M57.7 152.9h0M35.5 201.5h0M44.7 156.0h0M73.5 173.3h0M87.7 132.8h0M109.1 111.9h0M72.1 133.4h0M86.2 129.2h0M111.5 163.3h0M81.1 149.3h0M68.0 198.8h0M39.8 156.2h0M43.3 174.2h0M83.1 138.1h0M64.0 153.5h0M83.6 145.1h0M97.7 133.6h0M39.9 162.9h0M87.6 146.6h0M35.4 180.4h0M43.3 151.4h0M142.0 156.8h0M96.2 171.8h0M68.7 194.0h0M45.3 136.4h0M73.6 141.0h0M43.9 137.9h0M43.9 173.5h0M133.3 145.9h0M124.8 143.9h0M101.6 132.6h0M52.6 152.1h0M116.2 131.4h0M59.0 207.6h0M85.2 134.5h0M31.8 149.4h0M43.2 161.7h0M57.7 147.4h0M123.6 170.8h0M44.0 197.1h0M80.7 144.0h0M119.8 119.8h0M41.7 179.3h0M60.8 201.7h0M87.6 129.0h0M112.8 153.7h0M52.5 176.7h0M78.8 170.5h0M87.2 167.5h0M67.3 185.5h0M70.3 179.2h0M33.5 175.3h0M32.9 185.7h0M147.1 161.6h0M120.1 160.8h0M103.2 124.5h0M37.6 208.8h0M129.3 133.3h0M117.6 121.4h0M98.6 169.6h0M114.2 151.0h0M113.8 103.3h0M92.5 152.7h0M86.3 159.6h0M61.2 197.0h0M150.8 186.1h0M57.9 147.8h0M39.8 146.8h0M64.7 143.1h0M40.8 191.8h0M45.2 135.6h0M68.0 207.1h0M62.1 150.9h0M58.4 152.9h0M36.8 140.4h0M71.5 170.6h0M53.3 197.5h0M110.3 122.6h0M41.8 195.6h0M103.4 172.7h0M103.3 128.0h0M60.3 192.4h0M50.7 169.1h0M97.3 157.9h0M51.3 215.0h0M48.2 176.6h0M29.6 192.5h0M42.9 191.4h0M44.3 193.0h0M69.7 200.6h0M113.0 160.4h0M82.3 164.5h0M32.6 209.6h0M34.0 171.7h0M44.0 182.6h0M105.9 126.4h0M45.3 206.4h0M100.1 131.5h0M94.6 163.2h0M80.4 172.8h0M115.1 166.0h0M65.7 156.2h0M59.5 162.1h0M94.1 153.7h0M103.0 157.1h0M44.9 172.6h0M49.7 149.2h0M47.9 148.9h0M141.0 156.3h0M147.2 167.2h0M44.0 177.9h0M67.7 176.5h0M131.2 161.6h0M51.7 212.8h0M35.6 182.1h0M105.6 147.8h0M58.3 156.9h0M115.3 99.3h0M128.7 161.0h0M61.3 190.7h0M41.4 196.7h0M99.5 138.8h0M48.1 181.5h0M73.7 170.9h0M115.3 147.7h0M104.5 117.2h0M45.4 163.3h0M110.1 165.1h0M111.8 123.9h0M55.9 217.6h0M67.6 208.4h0M116.7 116.1h0M37.3 215.8h0M136.7 158.0h0M101.3 142.6h0M104.3 163.5h0M98.2 135.1h0M64.5 162.1h0M37.4 175.2h0M108.6 167.6h0M56.7 177.2h0M100.0 152.5h0M111.8 162.0h0M106.1 99.2h0M87.2 145.0h0M55.2 213.1h0M134.1 138.6h0M45.6 180.7h0M81.9 136.2h0M118.9 147.8h0M122.5 128.2h0M130.6 172.7h0M61.6 206.5h0M77.1 158.7h0M90.6 161.7h0M36.8 172.3h0M103.1 156.3h0M42.5 190.7h0M65.5 147.0h0M131.6 163.9h0M105.1 138.8h0M95.7 153.2h0M46.4 176.7h0M131.0 174.1h0M98.7 147.4h0M130.4 168.5h0M112.0 129.5h0M38.1 177.9h0M77.8 138.0h0M34.8 145.4h0M152.0 176.4h0M58.1 170.9h0M34.1 191.4h0M121.6 126.4h0M60.3 149.3h0M42.0 178.1h0M100.9 144.3h0M50.3 150.0h0M126.1 171.3h0M115.1 149.0h0M38.6 192.5h0M73.4 139.6h0M50.7 168.4h0M30.7 187.5h0M110.9 145.2h0M135.9 165.0h0M39.6 152.4h0M34.0 152.8h0M46.2 198.3h0M57.0 170.7h0M45.8 146.8h0M60.0 207.0h0M66.7 151.7h0M59.6 197.2h0M66.9 192.6h0M127.8 139.0h0M34.1 207.5h0M32.5 138.5h0M112.1 131.6h0M128.9 137.6h0M43.5 131.1h0M38.9 192.2h0M138.1 168.8h0M47.4 140.2h0M89.1 129.1h0M148.6 162.0h0M64.1 193.6h0M63.4 210.9h0M64.4 171.3h0M44.6 176.3h0M93.4 166.9h0M59.0 174.3h0M58.5 213.4h0M50.3 153.7h0M53.2 151.1h0M130.4 137.9h0M39.5 131.4h0M95.6 153.6h0M123.1 151.7h0M52.1 152.6h0M109.7 172.5h0M134.4 167.6h0M107.8 177.2h0M44.9 191.1h0M81.0 175.9h0M77.2 147.2h0M154.6 176.9h0M100.7 164.5h0M86.8 129.3h0M109.4 147.7h0M68.8 195.5h0M60.1 215.7h0M146.4 180.0h0M116.7 117.5h0M100.5 136.8h0M32.2 149.7h0M71.1 168.9h0M54.3 189.7h0M111.8 152.3h0M42.2 206.1h0M36.8 151.8h0M41.8 179.6h0M107.8 156.3h0M55.2 194.8h0M56.8 206.0h0M97.7 173.3h0M132.7 140.8h0M32.4 135.2h0M109.0 176.6h0M35.1 201.4h0M103.5 171.9h0M61.6 198.5h0M79.3 169.6h0M35.9 194.5h0M113.8 107.3h0M83.1 150.4h0M122.4 178.4h0M73.7 169.2h0M52.7 148.8h0M94.8 142.3h0M34.2 157.7h0M36.6 194.1h0M56.3 215.5h0M134.6 106.9h0M35.2 193.3h0M85.4 161.6h0M54.2 165.4h0M121.5 140.1h0M75.4 154.9h0M39.2 176.1h0M40.1 203.6h0M147.7 166.2h0M35.1 177.6h0M121.0 120.7h0M41.4 167.7h0M45.8 143.5h0M122.5 134.9h0M86.7 136.5h0M62.9 143.4h0M57.1 218.8h0M127.4 125.4h0M90.5 169.0h0M143.0 157.2h0M112.4 121.1h0M132.0 109.8h0M37.5 170.9h0M38.4 177.9h0M45.1 185.3h0M67.4 166.2h0M101.5 150.4h0M145.0 162.4h0M94.0 163.2h0M120.5 119.6h0M48.1 169.9h0M137.5 174.1h0M95.8 167.6h0M133.1 162.5h0M120.7 178.6h0M106.3 126.7h0M41.6 210.7h0M56.0 211.4h0M47.8 177.6h0M108.7 161.6h0M37.6 143.8h0M129.9 151.1h0M129.8 138.3h0M127.0 154.2h0M69.2 177.1h0M132.4 141.4h0M139.0 165.2h0M35.4 217.1h0M84.6 126.2h0M68.3 144.4h0M62.8 215.0h0M111.4 168.0h0M110.2 156.9h0M35.2 184.0h0M63.6 161.5h0M45.6 166.7h0M31.8 208.3h0M62.6 165.7h0M101.6 168.1h0M105.4 107.1h0M63.4 160.4h0M31.1 192.1h0M62.7 200.2h0M41.3 162.4h0M71.7 161.7h0M59.0 179.5h0M46.6 212.0h0M69.1 145.0h0M68.4 201.9h0M31.2 143.7h0M93.0 156.0h0M57.0 192.8h0M35.6 162.0h0M94.8 161.3h0M69.6 197.6h0M68.8 151.2h0M152.1 172.5h0M102.8 126.1h0M76.2 154.4h0M130.5 111.1h0M100.4 167.3h0M51.9 156.1h0M121.2 119.6h0M58.1 175.2h0M104.1 122.2h0M105.1 165.0h0M79.3 160.4h0M112.3 176.6h0M116.0 120.7h0M64.5 140.8h0M37.0 167.6h0M145.0 166.9h0M53.9 172.5h0M66.8 209.6h0M67.0 193.6h0M129.2 126.4h0M70.1 178.4h0M125.0 133.7h0M112.7 136.0h0M114.9 118.8h0M74.9 133.9h0M92.9 144.0h0M103.0 134.5h0M40.7 130.6h0M56.3 200.4h0M137.2 160.7h0M90.1 146.9h0M109.1 128.7h0M76.8 159.1h0M50.1 171.0h0M81.7 166.1h0M46.2 174.2h0M115.3 119.8h0M132.0 157.4h0M48.5 166.4h0M133.4 151.3h0M50.2 179.5h0M44.9 184.7h0M117.6 178.5h0M37.0 177.2h0M99.4 131.1h0M134.2 148.9h0M120.4 163.4h0M65.8 185.5h0M68.9 183.6h0M104.8 124.4h0M80.2 161.5h0M60.4 189.1h0" stroke="#7a7a7a" stroke-width="1.10" stroke-linecap="round" fill="none"/>
<path d="M65.5 162.4h0M85.9 169.4h0M116.8 165.8h0M106.5 107.2h0M84.4 159.8h0M84.6 151.6h0M110.7 130.2h0M102.9 152.5h0M121.5 120.0h0M98.5 161.1h0M59.6 144.1h0M72.8 152.2h0M121.9 122.5h0M79.9 155.8h0M110.9 167.9h0M116.0 152.3h0M89.3 162.7h0M55.1 157.7h0M126.1 149.4h0M90.9 133.4h0M99.2 129.3h0M124.7 152.0h0M115.8 100.8h0M127.9 130.6h0M103.3 122.0h0M113.6 153.0h0M115.1 158.1h0M78.6 144.4h0M109.4 107.4h0M67.5 165.1h0M82.2 168.9h0M126.2 123.7h0M51.7 171.2h0M120.0 163.1h0M39.8 175.3h0M98.7 153.9h0M109.8 121.0h0M120.7 128.4h0M115.5 177.5h0M114.1 146.1h0M127.7 127.2h0M95.4 159.9h0M47.7 163.2h0M98.8 137.8h0M69.9 184.1h0M118.0 129.3h0M93.4 130.7h0M63.3 181.4h0M55.0 160.5h0M79.2 180.1h0M128.8 150.7h0M115.3 124.8h0M123.8 131.8h0M116.0 160.3h0M70.6 148.6h0M111.5 113.6h0M58.5 165.6h0M92.3 160.3h0M105.4 151.3h0M69.8 173.6h0M96.1 163.9h0M106.5 137.6h0M129.5 148.7h0M114.7 151.8h0M80.4 134.7h0M76.9 165.2h0M81.9 145.2h0M95.0 170.0h0M81.9 132.8h0M105.9 168.0h0M93.8 160.0h0M35.3 170.6h0M104.6 134.3h0M104.2 122.3h0M107.7 97.6h0M119.4 124.9h0M44.9 164.0h0M124.2 143.6h0M75.0 158.8h0M65.8 157.8h0M64.1 156.6h0M101.8 128.5h0M111.5 148.2h0M119.3 138.8h0M63.6 152.1h0M129.8 126.5h0M100.1 136.6h0M89.0 156.4h0M69.9 149.8h0M114.4 170.8h0M118.3 131.8h0M112.8 160.1h0M55.4 162.8h0M110.8 160.5h0M108.0 150.8h0M113.3 149.3h0M100.4 119.4h0M67.1 184.7h0M121.4 161.2h0M82.1 168.9h0M80.5 149.8h0M119.8 176.7h0M108.6 126.5h0M118.4 149.7h0M124.2 136.0h0M111.8 117.9h0M37.3 171.4h0M69.6 144.7h0M117.9 176.8h0M103.3 145.4h0M86.8 132.0h0M122.8 143.5h0M56.7 143.6h0M107.1 96.6h0M74.5 182.0h0M106.8 140.1h0M64.9 178.2h0M54.6 153.4h0M87.2 128.7h0M62.6 173.6h0M101.3 131.3h0M98.5 134.0h0M106.9 174.1h0M104.6 173.9h0M68.6 185.3h0M93.6 142.2h0M58.4 180.9h0M108.8 171.4h0M103.1 152.6h0M80.3 127.9h0M107.6 143.1h0M112.4 156.3h0M55.5 174.0h0M108.1 166.3h0M70.7 165.8h0M126.7 135.5h0M58.6 175.4h0M83.5 166.8h0M66.4 156.5h0M87.6 142.4h0M81.5 162.4h0M38.9 179.2h0M97.3 144.8h0M45.8 171.2h0M108.3 133.0h0M75.6 142.4h0M35.3 164.5h0M58.0 146.5h0M62.5 144.8h0M53.3 168.1h0M94.8 140.0h0M65.5 181.3h0M58.2 160.3h0M115.1 131.5h0M105.6 171.8h0M100.1 132.6h0M112.1 141.7h0M93.0 132.1h0M43.1 166.7h0M110.4 175.4h0M88.1 146.4h0M72.6 180.4h0M102.0 129.2h0M93.9 127.9h0M105.4 128.8h0M74.0 183.4h0M53.3 157.5h0M65.2 156.1h0M110.5 137.5h0M110.3 138.1h0M68.2 143.7h0M102.6 121.8h0M101.2 122.4h0M108.6 160.7h0M68.9 156.8h0M69.1 184.2h0M37.5 165.7h0M34.2 165.9h0M126.7 122.4h0M61.4 172.2h0M87.0 167.8h0M107.1 112.2h0M125.1 165.8h0M95.2 151.5h0M124.3 153.1h0M124.2 168.9h0M125.4 134.3h0M86.2 141.9h0M64.4 177.7h0M114.0 131.9h0M111.5 129.7h0M90.8 165.8h0M117.1 116.4h0M39.3 169.5h0M116.2 102.6h0M104.0 130.4h0M79.1 149.0h0M68.4 149.2h0M76.5 155.7h0M113.7 135.2h0M115.8 143.1h0M117.9 172.8h0M95.1 126.0h0M120.6 132.6h0M73.1 153.0h0M80.3 139.9h0M132.5 108.1h0M67.1 152.4h0M86.5 169.7h0M74.7 160.3h0M117.1 103.9h0M75.3 168.2h0M64.8 159.5h0M86.5 138.1h0M70.1 175.3h0M72.4 144.1h0M93.0 148.4h0M111.1 176.2h0M65.1 180.0h0M136.2 140.3h0M75.1 160.0h0M101.4 159.7h0M92.3 141.5h0M77.5 141.9h0M70.0 135.6h0M55.0 177.1h0M111.3 139.0h0M117.5 118.4h0M107.8 144.0h0M78.3 149.8h0M107.1 117.3h0M90.5 139.0h0M114.9 107.8h0M95.3 163.9h0M81.5 165.4h0M94.2 161.9h0M111.1 156.2h0M89.2 125.5h0M128.7 135.9h0" stroke="#ffffff" stroke-width="1.10" stroke-linecap="round" fill="none"/>
<g filter="url(#soft)">
<polygon points="319,96 324,93 330,94 335,98 336,106 334,113 325,115 320,110 318,103" fill="#e3e3e3" fill-opacity="0.9"/>
<polygon points="372,74 374,72.5 377,78 379,74 381,73.5 384,80 383,84 376,84 373,80" fill="#e3e3e3" fill-opacity="0.9"/>
<polygon points="338,108 350,100 362,93 372,88 376,95 368,104 356,110 346,116 340,118" fill="#ececec" fill-opacity="0.6"/>
<polygon points="317.7,127.3 320,120 324,114 335,112.5 347.7,113.5 353,118 359.2,125 352.3,138.8 345.4,148 335.4,150.4 323.8,148.8 318,141" fill="#888888" fill-opacity="0.92"/>
<polygon points="328,128 338,122 348,124 353,130 351,139 346,147 338,150.4 330,150 326,145 325,136" fill="#e2302a" fill-opacity="0.85"/>
<polygon points="336,118 346,118 354,121 352,127 344,127 338,124" fill="#ffffff" fill-opacity="0.95"/>
<ellipse cx="354.5" cy="107.3" rx="3.5" ry="2.5" transform="rotate(0 354.5 107.3)" fill="#4a9a80" fill-opacity="0.8"/>
<polygon points="356,108 370,104 388,104 389,112 370,113 358,112" fill="#b48466" fill-opacity="0.7"/>
<ellipse cx="362.0" cy="116.5" rx="6.0" ry="5.5" transform="rotate(0 362.0 116.5)" fill="#e4322a" fill-opacity="0.9"/>
<polygon points="367.7,112 378,110 385,113 386,122 378,126 370,125 367,119" fill="#ef7e1a" fill-opacity="0.9"/>
<polygon points="373,92 380,90 388,91 392,96 391,103 382,105 374,104 372,98" fill="#ec8632" fill-opacity="0.85"/>
<polygon points="389.6,86 394,82 397,81.6 396,85 391,88" fill="#e88a3a" fill-opacity="0.8"/>
<ellipse cx="354.0" cy="125.5" rx="5.0" ry="2.8" transform="rotate(-15 354.0 125.5)" fill="#3d9a4c" fill-opacity="0.7"/>
<ellipse cx="395.0" cy="121.0" rx="12.5" ry="10.0" transform="rotate(40 395.0 121.0)" fill="#1f78b8" fill-opacity="0.95"/>
</g>
<path d="M358.1 116.2h0M356.4 116.3h0M362.4 111.5h0M363.2 114.3h0" stroke="#bb2922" stroke-width="1.30" stroke-linecap="round" fill="none"/>
<path d="M352.9 133.6h0M333.3 125.1h0M338.7 125.8h0M344.0 138.6h0M339.2 142.9h0M339.0 131.2h0M340.6 130.5h0M336.0 148.3h0M344.9 132.9h0M352.3 131.1h0M344.9 125.9h0M346.4 146.8h0M338.9 140.3h0M336.8 130.2h0M353.4 129.8h0M345.2 127.1h0M326.5 146.7h0M350.0 127.4h0M337.6 145.6h0" stroke="#b92722" stroke-width="1.30" stroke-linecap="round" fill="none"/>
<path d="M384.7 121.9h0M398.8 124.7h0M398.1 112.3h0M392.6 122.8h0M385.7 126.1h0M394.0 110.5h0M391.9 122.5h0M389.2 124.9h0M400.1 114.1h0M388.2 113.6h0M393.4 131.8h0M388.4 114.2h0M405.6 117.5h0M386.5 119.1h0M401.5 123.1h0M396.9 111.6h0M395.8 122.1h0M385.9 119.2h0M401.8 125.9h0M399.1 114.9h0M393.3 114.6h0M398.5 111.3h0M388.0 121.3h0M384.8 119.8h0M393.8 131.4h0M398.8 113.1h0M388.6 124.8h0M394.8 110.7h0M385.9 119.8h0M399.4 114.9h0M403.7 119.4h0M396.9 132.6h0M401.4 118.5h0M387.9 117.0h0M386.6 120.5h0M399.8 130.8h0M393.3 109.8h0M386.9 112.2h0M389.7 126.5h0M396.3 122.3h0M390.4 117.3h0M394.4 131.0h0M388.6 129.2h0M404.7 117.3h0M391.4 120.6h0M385.5 121.8h0M389.0 116.4h0M395.7 112.6h0" stroke="#2478b4" stroke-width="1.30" stroke-linecap="round" fill="none"/>
<path d="M336.3 119.1h0M320.1 140.3h0M339.6 141.7h0M319.8 131.5h0M337.4 135.8h0M334.9 133.0h0M335.8 127.0h0M358.3 127.2h0M353.8 129.6h0M340.7 139.1h0M351.6 123.0h0M330.3 123.6h0M340.5 129.3h0M344.2 146.3h0M345.5 115.8h0M324.1 138.8h0M320.7 123.5h0M331.2 145.5h0M333.8 142.6h0M337.0 143.2h0M325.4 131.0h0M337.8 137.7h0M336.9 140.0h0M331.4 150.3h0M340.7 125.0h0M325.9 114.8h0M345.5 136.1h0M324.9 145.0h0M319.6 136.4h0M342.0 121.1h0M318.4 131.2h0M341.5 119.2h0M331.6 122.1h0M341.5 132.8h0M340.8 125.9h0M352.3 120.0h0M320.1 134.5h0M348.7 132.1h0M329.4 120.3h0M353.6 125.6h0M351.4 134.3h0M322.9 139.1h0M350.9 129.4h0M317.2 127.8h0M357.0 124.2h0M333.8 136.4h0M328.2 125.5h0M345.6 147.1h0M324.5 117.8h0M341.3 141.2h0M329.8 116.1h0M336.6 135.5h0M354.4 134.8h0M347.2 126.0h0M326.6 135.7h0M331.0 140.0h0M342.4 115.7h0M336.8 136.7h0M344.1 122.1h0M334.4 140.6h0M348.4 132.0h0M337.5 144.1h0M348.7 119.1h0M342.6 139.6h0M320.5 139.0h0M334.4 150.0h0M334.5 139.1h0M323.2 142.6h0M349.1 122.2h0M328.4 127.4h0M337.2 136.9h0M353.1 122.4h0M341.3 144.8h0M330.7 124.7h0M322.0 126.8h0M327.6 122.2h0M324.4 142.1h0M357.6 123.0h0M349.6 132.4h0M337.1 127.7h0M348.7 116.7h0M336.3 117.0h0M326.6 126.6h0M341.7 128.4h0M333.4 127.5h0M328.4 137.7h0M325.7 128.1h0M345.9 136.5h0M335.1 145.5h0M335.2 122.1h0M335.3 112.0h0M321.7 143.4h0M324.5 131.1h0M333.4 140.0h0M335.3 125.5h0M321.6 118.5h0M317.3 138.6h0M336.4 146.3h0M347.1 134.1h0M351.7 137.8h0M339.5 119.0h0M326.8 128.8h0M321.4 120.4h0M322.0 122.1h0M324.7 136.9h0M331.2 148.7h0M353.0 134.2h0M328.5 113.1h0M321.8 117.3h0M336.5 116.4h0M336.8 115.2h0M321.3 121.9h0M339.5 119.4h0M353.6 128.2h0M320.7 127.5h0M342.1 133.3h0M324.1 148.9h0M319.3 141.6h0M349.7 134.6h0M336.1 121.8h0M348.6 129.6h0M342.0 135.4h0M329.8 146.7h0M332.3 141.8h0M319.7 125.3h0M322.9 127.5h0M332.1 148.4h0M331.4 142.9h0" stroke="#848484" stroke-width="1.30" stroke-linecap="round" fill="none"/>
<path d="M346.2 121.6h0M324.2 122.6h0M356.2 126.4h0M328.0 142.9h0M340.8 134.1h0M352.6 134.5h0M328.0 126.6h0M334.4 112.5h0M338.0 126.4h0M317.4 125.7h0M331.2 117.2h0M319.2 126.0h0M342.8 148.4h0M338.7 114.8h0M351.8 117.9h0M348.0 113.7h0M348.9 132.0h0M329.0 127.8h0M357.7 123.2h0M340.5 119.4h0M348.2 130.9h0M329.8 128.8h0M322.2 142.0h0M329.5 116.4h0M337.5 131.9h0M339.1 121.8h0M332.5 116.1h0M350.9 126.1h0M322.2 117.9h0M327.7 146.4h0M348.6 116.7h0M350.6 127.6h0M334.9 141.9h0M334.1 143.9h0M332.2 122.7h0M345.2 122.4h0M349.3 138.9h0M339.9 132.6h0" stroke="#707070" stroke-width="1.30" stroke-linecap="round" fill="none"/>
<path d="M380.1 108.3h0M368.9 104.6h0M372.3 105.9h0M365.1 108.1h0" stroke="#cc4848" stroke-width="1.30" stroke-linecap="round" fill="none"/>
<path d="M379.9 96.7h0M372.1 94.1h0M382.9 89.8h0M375.7 94.6h0M377.5 103.3h0M386.6 98.1h0M373.8 98.0h0M371.8 95.8h0M392.1 96.8h0M385.8 99.3h0M375.9 92.1h0M376.8 100.6h0" stroke="#b48454" stroke-width="1.30" stroke-linecap="round" fill="none"/>
<path d="M400.5 113.0h0M394.2 129.9h0M393.8 125.4h0M401.3 120.6h0M401.7 128.4h0M387.9 115.8h0M397.0 126.4h0M405.4 125.1h0M388.9 116.8h0M400.2 132.4h0M389.1 114.4h0M401.7 126.6h0M390.1 113.3h0M400.7 128.8h0M392.9 119.1h0M390.9 113.0h0M399.6 124.0h0M398.8 117.1h0M402.1 115.5h0" stroke="#196297" stroke-width="1.30" stroke-linecap="round" fill="none"/>
<path d="M382.7 103.9h0M388.3 105.4h0M376.0 108.7h0M377.4 105.1h0M368.8 113.5h0M385.0 105.6h0M360.1 106.7h0M358.1 108.0h0M386.6 107.6h0M365.9 105.8h0M381.2 105.2h0M368.6 109.6h0" stroke="#d8843c" stroke-width="1.30" stroke-linecap="round" fill="none"/>
<path d="M376.7 123.8h0M377.0 118.4h0M369.8 117.9h0M379.0 125.6h0M371.2 124.0h0M371.9 122.6h0M370.7 117.1h0M384.0 117.9h0M377.3 121.3h0M375.6 112.3h0M378.8 111.8h0M373.1 114.7h0M383.3 115.4h0M371.6 123.4h0M367.3 119.6h0M369.0 115.8h0M376.6 116.4h0M369.2 117.7h0M375.4 117.3h0M371.1 117.0h0M369.7 120.5h0M367.4 116.1h0M373.2 111.0h0M367.6 114.0h0M380.2 118.3h0M381.7 117.5h0M386.0 122.1h0M367.2 112.8h0M386.5 119.9h0M385.2 121.3h0M369.6 114.6h0M381.0 115.6h0M386.1 118.5h0M370.7 114.9h0" stroke="#f07818" stroke-width="1.30" stroke-linecap="round" fill="none"/>
<path d="M330.1 144.1h0M339.0 132.9h0M351.1 127.9h0M347.6 124.9h0M340.2 127.2h0M327.7 149.6h0M327.4 132.7h0M331.1 138.5h0M351.7 131.9h0M329.9 143.4h0M338.1 129.6h0M352.9 129.8h0M348.6 125.1h0M325.4 141.7h0M346.6 133.3h0M329.1 144.5h0M331.4 130.4h0M345.1 143.7h0M324.7 137.6h0M331.7 132.8h0M345.4 124.3h0M331.8 132.1h0M331.3 131.3h0M361.1 113.9h0M342.1 127.3h0M331.0 119.0h0M358.8 122.0h0M344.9 136.2h0M330.5 130.1h0M348.5 130.9h0M342.1 148.9h0M335.1 131.1h0M334.0 128.1h0M345.8 115.7h0M349.0 131.8h0M339.1 149.6h0M346.8 132.8h0M346.6 137.1h0M335.4 150.5h0M350.9 116.8h0M318.7 127.9h0M327.2 128.4h0M341.2 126.4h0M337.5 119.7h0M335.1 138.3h0M334.2 115.6h0M364.0 122.2h0M334.4 131.0h0M347.1 135.9h0M324.8 132.4h0M340.3 141.9h0M343.1 133.7h0M336.9 123.9h0M338.7 124.5h0M333.9 135.2h0M342.4 131.0h0M335.7 117.5h0M338.2 148.9h0" stroke="#b45454" stroke-width="1.30" stroke-linecap="round" fill="none"/>
<path d="M382.2 94.6h0M387.8 98.6h0M372.1 94.4h0M386.6 91.9h0M382.6 101.2h0M376.7 100.8h0M375.1 94.4h0" stroke="#c26e29" stroke-width="1.30" stroke-linecap="round" fill="none"/>
<path d="M348.5 124.4h0M326.7 134.2h0M336.2 147.7h0M349.0 137.4h0M341.4 143.0h0M362.2 120.8h0M360.5 110.9h0M332.3 135.7h0M334.3 128.4h0M343.8 134.3h0M342.0 145.6h0M328.0 138.2h0M363.9 120.5h0M343.2 145.4h0M333.8 127.6h0M327.7 135.6h0M337.7 143.3h0M348.0 140.5h0M326.9 141.1h0M326.8 136.1h0M325.2 133.4h0M334.9 139.1h0M335.7 138.6h0M342.4 141.5h0M330.7 135.8h0M338.3 150.1h0M331.9 133.1h0M364.9 118.3h0M346.9 133.5h0M340.8 138.4h0M329.8 141.8h0M339.7 135.0h0M332.2 144.1h0M337.1 149.5h0M337.7 141.6h0M346.8 146.6h0M349.1 140.5h0M334.6 148.9h0M345.2 139.4h0M338.4 148.3h0M342.7 145.9h0M348.1 125.7h0M336.7 143.1h0M362.7 119.3h0M343.0 146.7h0M331.9 133.6h0M327.9 131.5h0M333.3 132.6h0M346.4 146.2h0M329.9 140.7h0M357.5 119.9h0M326.9 130.4h0M345.8 133.0h0M338.3 150.0h0M336.2 127.0h0M339.6 135.4h0M348.3 126.8h0M337.7 123.5h0M333.5 139.5h0M330.9 131.5h0M339.8 128.8h0M341.3 136.4h0M364.8 112.9h0M340.8 145.1h0M360.7 119.5h0M339.7 145.0h0" stroke="#e42424" stroke-width="1.30" stroke-linecap="round" fill="none"/>
<path d="M384.2 103.2h0M383.4 93.9h0M385.1 92.6h0M380.6 104.8h0M377.5 99.7h0M376.7 102.9h0M390.9 97.1h0M397.2 82.2h0M382.7 96.4h0M387.3 102.9h0M388.9 91.6h0M379.5 92.6h0M386.8 91.5h0M390.0 97.6h0M388.2 96.5h0M388.4 95.6h0M376.9 97.7h0M380.3 97.1h0M377.6 90.5h0" stroke="#f08424" stroke-width="1.30" stroke-linecap="round" fill="none"/>
<path d="M363.8 105.4h0M387.1 104.7h0M376.6 105.8h0M368.5 109.7h0M384.6 111.4h0M373.5 105.1h0M373.4 111.4h0M361.5 110.9h0M379.5 105.0h0M370.1 111.4h0" stroke="#946c54" stroke-width="1.30" stroke-linecap="round" fill="none"/>
<path d="M350.7 106.7h0" stroke="#3d7e69" stroke-width="1.30" stroke-linecap="round" fill="none"/>
<path d="M383.4 118.1h0M397.1 126.3h0M404.9 129.6h0M402.2 119.5h0M388.8 126.4h0M394.5 120.7h0M389.1 128.9h0" stroke="#186ca8" stroke-width="1.30" stroke-linecap="round" fill="none"/>
<path d="M351.2 108.6h0M352.4 107.5h0" stroke="#489c78" stroke-width="1.30" stroke-linecap="round" fill="none"/>
<path d="M357.2 108.9h0" stroke="#54786c" stroke-width="1.30" stroke-linecap="round" fill="none"/>
<path d="M360.4 112.1h0M358.6 111.0h0M382.2 109.5h0M387.5 111.7h0M384.5 109.3h0M369.7 108.1h0M369.4 104.7h0M377.3 112.1h0M365.5 105.4h0M382.4 108.9h0M363.7 111.2h0M367.9 112.5h0M368.5 108.7h0M371.1 111.1h0" stroke="#9c8478" stroke-width="1.30" stroke-linecap="round" fill="none"/>
<path d="M379.9 125.8h0M383.5 112.5h0M368.7 122.4h0M378.2 114.1h0M386.0 118.5h0M374.3 118.0h0M382.1 111.3h0M380.3 118.8h0M375.9 124.7h0M368.7 111.4h0M375.4 120.8h0" stroke="#c46715" stroke-width="1.30" stroke-linecap="round" fill="none"/>
<path d="M381.0 115.0h0" stroke="#b47848" stroke-width="1.30" stroke-linecap="round" fill="none"/>
<path d="M390.7 85.1h0" stroke="#be7130" stroke-width="1.30" stroke-linecap="round" fill="none"/>
<path d="M351.6 122.7h0M357.4 124.3h0M355.4 122.0h0" stroke="#327e3e" stroke-width="1.30" stroke-linecap="round" fill="none"/>
<path d="M354.2 124.6h0M352.0 126.8h0" stroke="#309c48" stroke-width="1.30" stroke-linecap="round" fill="none"/>
<path d="M336.3 142.0h0M325.9 135.5h0M348.7 127.9h0M351.2 131.0h0M330.7 137.6h0M342.6 114.8h0M321.4 122.7h0M347.6 114.4h0M339.6 124.7h0M330.6 114.1h0M323.9 128.8h0M325.4 147.6h0M335.2 138.3h0M346.0 114.2h0M345.1 146.2h0M323.5 145.8h0M331.6 150.5h0M338.4 133.2h0M335.4 149.7h0M338.8 137.5h0M343.7 121.8h0M332.9 130.4h0M343.7 117.4h0M346.4 147.2h0M334.1 113.5h0M327.7 124.6h0M354.3 131.7h0M339.0 136.4h0M339.8 138.1h0M342.8 132.6h0M323.5 146.8h0M344.6 139.5h0M327.1 138.8h0M324.7 123.9h0M321.9 117.5h0M322.4 143.9h0M331.6 129.0h0M345.6 119.1h0M325.2 127.4h0M320.2 129.9h0M342.9 138.4h0M341.9 115.7h0M341.2 114.0h0M352.7 126.9h0M320.3 121.0h0" stroke="#707070" stroke-width="1.30" stroke-linecap="round" fill="none"/>
<path d="M363.3 119.0h0M331.7 142.2h0M344.7 125.9h0M329.7 134.7h0M349.0 127.9h0M343.2 127.3h0M329.4 126.3h0M333.5 145.0h0M337.5 124.0h0M342.5 132.4h0M331.2 131.3h0M361.7 115.5h0M342.1 126.3h0M357.2 119.4h0M339.5 126.0h0M327.8 146.4h0M327.5 141.7h0M334.8 137.9h0M329.1 135.5h0M327.9 143.5h0M361.8 110.7h0M366.9 118.8h0M336.8 143.7h0M350.6 133.7h0M333.8 142.4h0M351.7 137.4h0M335.6 139.8h0M336.3 133.4h0M348.2 140.2h0M363.5 115.8h0M352.1 130.2h0M337.5 140.3h0M344.1 140.4h0M357.9 112.6h0M335.2 124.4h0M347.8 128.9h0M345.0 123.2h0M330.2 145.7h0M349.5 131.7h0M334.3 148.7h0M343.8 129.9h0M363.7 111.9h0M344.1 123.7h0M329.8 128.5h0M358.4 115.1h0M338.9 138.7h0M326.5 143.0h0M331.2 149.2h0M328.2 138.6h0M326.6 139.1h0M344.8 138.6h0M331.9 146.0h0M336.4 145.2h0M337.0 148.4h0M343.5 128.7h0M333.4 142.8h0M332.2 125.6h0M347.7 141.5h0M347.2 127.1h0M324.5 137.1h0M325.8 138.4h0M350.8 130.1h0M362.9 116.1h0M326.5 141.2h0M328.1 144.2h0M363.6 111.3h0M366.4 118.3h0M349.1 132.9h0M335.0 129.0h0M345.4 138.0h0M338.2 131.7h0M331.6 147.3h0M344.3 137.3h0M333.2 143.4h0M344.3 146.2h0M360.1 113.9h0M353.4 129.5h0M325.0 134.3h0" stroke="#e42424" stroke-width="1.30" stroke-linecap="round" fill="none"/>
<path d="M375.2 94.7h0M396.3 82.3h0M388.2 101.3h0M391.0 87.6h0M391.6 85.9h0M391.6 97.2h0M378.5 103.2h0M374.3 96.2h0M374.1 100.1h0M379.3 96.7h0M373.9 92.9h0M377.9 91.1h0M379.3 103.7h0M396.8 81.3h0M386.4 93.3h0M386.4 103.9h0M385.8 99.8h0M391.2 84.9h0M373.4 96.3h0M383.8 93.5h0M374.5 92.5h0M383.2 103.2h0M373.8 99.2h0M371.4 97.8h0M376.1 100.8h0M383.0 91.9h0M387.0 104.2h0M386.9 93.8h0M397.0 82.9h0M395.9 85.1h0M381.3 93.6h0M378.1 101.6h0M382.8 100.3h0" stroke="#f08424" stroke-width="1.30" stroke-linecap="round" fill="none"/>
<path d="M405.4 119.9h0M399.5 132.5h0M403.3 124.6h0M393.8 113.7h0M388.0 116.8h0M390.3 127.0h0M393.0 111.5h0M404.7 121.0h0M384.7 120.5h0M384.1 114.5h0M396.3 128.4h0M396.1 116.3h0M401.7 128.7h0M388.2 115.1h0M394.2 131.7h0M401.5 112.7h0M389.0 113.3h0M395.0 129.6h0M395.1 118.3h0M385.1 117.2h0M398.0 114.6h0M398.7 122.3h0M404.9 126.4h0M402.6 128.9h0M387.0 123.8h0M384.4 115.6h0M392.2 130.5h0M395.5 131.6h0M383.8 116.9h0M395.9 123.4h0M400.9 120.3h0M388.8 128.6h0M396.5 129.9h0M406.3 120.1h0M395.8 111.0h0M392.4 117.9h0M400.2 131.6h0M400.4 129.4h0M390.7 128.2h0M393.6 126.0h0M405.0 128.2h0M403.4 124.6h0M394.7 128.3h0M398.9 124.3h0M403.9 124.7h0M394.1 115.1h0M395.6 130.5h0" stroke="#2478b4" stroke-width="1.30" stroke-linecap="round" fill="none"/>
<path d="M378.9 105.6h0M368.6 112.2h0M377.4 113.0h0M372.3 106.0h0M370.5 110.4h0M362.2 112.3h0M384.8 108.5h0M370.8 108.5h0M388.0 111.3h0M379.4 104.7h0M386.7 110.7h0M383.2 111.2h0M379.1 105.4h0" stroke="#946c54" stroke-width="1.30" stroke-linecap="round" fill="none"/>
<path d="M384.7 106.9h0M367.6 110.5h0M376.0 111.7h0M372.1 107.7h0M376.1 107.6h0M386.9 106.1h0" stroke="#d8843c" stroke-width="1.30" stroke-linecap="round" fill="none"/>
<path d="M378.9 122.9h0M378.0 115.0h0M378.0 121.6h0M373.5 116.7h0M366.8 116.0h0M375.5 115.9h0M377.8 124.0h0M367.2 121.0h0M370.7 113.8h0M377.5 111.4h0M384.4 118.1h0M371.2 112.8h0M367.9 120.5h0M368.2 115.8h0M369.1 112.9h0M385.0 115.1h0M372.7 116.7h0M379.9 114.7h0M383.1 119.8h0M370.6 124.8h0M375.0 118.5h0M372.6 120.5h0M378.3 111.5h0" stroke="#f07818" stroke-width="1.30" stroke-linecap="round" fill="none"/>
<path d="M328.3 130.0h0M324.0 113.9h0M349.3 143.5h0M357.3 126.3h0M339.1 144.0h0M318.3 133.5h0M354.1 119.4h0M324.1 124.6h0M321.5 146.0h0M340.0 115.4h0M341.1 138.7h0M341.2 125.5h0M324.8 116.2h0M343.2 144.9h0M322.0 135.8h0M352.4 136.0h0M324.4 143.8h0M359.4 125.3h0M352.1 131.9h0M324.2 148.0h0M331.0 114.2h0M353.3 134.8h0M321.2 125.9h0M327.7 139.3h0M326.9 140.2h0M324.0 123.2h0M343.1 122.9h0M339.0 118.9h0M333.8 133.8h0M330.5 121.8h0M341.0 119.6h0M323.4 128.4h0M344.0 125.8h0M336.6 129.6h0M328.8 137.0h0M320.1 138.5h0M331.4 140.1h0M332.8 127.5h0M333.0 113.8h0M329.6 144.4h0M329.2 142.9h0M331.6 129.6h0M322.3 129.3h0M339.3 122.1h0M330.6 117.1h0M322.2 124.6h0M354.0 136.4h0M338.1 118.6h0M342.1 129.8h0M336.8 113.8h0M329.3 119.3h0M330.5 137.6h0M333.1 144.7h0M332.4 131.8h0M318.3 123.7h0M331.7 144.8h0M341.6 133.9h0M338.5 117.2h0M342.7 122.9h0M320.3 144.8h0M328.3 114.9h0M323.0 145.3h0M352.9 122.8h0M326.8 124.0h0M325.7 138.5h0M332.2 121.2h0M348.0 123.7h0M329.7 131.1h0M325.3 132.0h0M327.7 113.7h0M317.7 136.4h0M330.8 122.9h0M327.2 115.7h0M337.0 132.3h0M330.9 146.4h0M316.9 127.6h0M324.3 120.8h0M348.2 125.0h0M339.2 141.4h0M339.2 119.3h0M323.6 119.7h0M324.0 122.1h0M347.7 143.4h0M330.4 134.0h0M327.1 142.0h0M343.0 121.0h0M324.2 128.4h0M332.4 127.9h0M332.6 145.4h0M333.2 139.5h0M335.7 137.3h0M348.7 122.0h0M336.6 135.3h0M322.9 135.0h0M323.8 137.9h0M326.5 131.9h0M330.1 136.9h0M346.4 115.3h0M347.8 130.0h0M339.9 128.7h0M332.0 136.4h0M328.8 149.6h0M339.2 115.3h0M340.0 148.4h0M346.1 130.1h0M318.8 131.3h0M339.3 148.3h0M339.8 143.6h0M343.7 127.6h0M335.9 144.6h0M343.9 140.6h0M342.1 140.5h0M351.2 125.5h0M346.5 124.8h0M325.4 142.3h0M353.4 124.8h0M340.7 138.7h0M342.9 117.2h0M323.5 115.8h0M348.4 127.9h0M342.0 137.0h0M331.5 136.7h0M350.1 119.7h0M325.4 147.2h0M352.9 134.9h0M329.3 149.5h0M351.5 140.0h0M344.1 147.9h0M322.6 116.3h0M327.0 117.7h0M343.5 124.7h0M335.6 149.9h0M331.7 131.1h0M327.2 119.0h0" stroke="#848484" stroke-width="1.30" stroke-linecap="round" fill="none"/>
<path d="M333.1 137.1h0M344.0 138.0h0M323.8 139.7h0M343.4 125.8h0M318.1 124.8h0M355.8 130.6h0M356.9 112.8h0M330.3 139.4h0M346.4 147.0h0M338.6 124.6h0M346.3 137.3h0M322.2 136.7h0M328.5 119.6h0M348.1 136.4h0M339.7 122.8h0M347.9 127.0h0M336.8 125.1h0M348.9 128.0h0M351.8 132.8h0M330.0 125.9h0M341.6 149.1h0M349.9 115.9h0M339.3 133.0h0M349.7 131.5h0M339.2 146.1h0M336.2 113.9h0M326.9 135.5h0M351.4 137.1h0M354.6 123.5h0M328.6 115.0h0M326.8 138.6h0M346.5 123.9h0M346.8 134.3h0M327.1 131.1h0M333.0 146.1h0M325.4 121.4h0M333.0 134.2h0M328.7 142.6h0M335.8 123.9h0M317.7 137.7h0M335.4 121.4h0M349.9 128.7h0M324.4 121.4h0M346.1 140.3h0M362.6 110.4h0M335.2 147.2h0M321.0 142.5h0M333.6 146.1h0M336.8 141.5h0M334.5 137.3h0" stroke="#b45454" stroke-width="1.30" stroke-linecap="round" fill="none"/>
<path d="M383.9 101.9h0M384.2 95.5h0M373.9 104.4h0M381.5 95.8h0" stroke="#b48454" stroke-width="1.30" stroke-linecap="round" fill="none"/>
<path d="M336.5 134.7h0M332.9 146.7h0M328.7 130.3h0M347.2 139.0h0M335.5 130.5h0M338.8 125.6h0M340.6 122.1h0M348.3 134.1h0M339.5 136.0h0M348.0 125.7h0M338.0 143.7h0M347.1 139.1h0M338.3 139.3h0M328.6 130.3h0M351.3 135.5h0M334.4 145.0h0M336.5 139.8h0" stroke="#b92722" stroke-width="1.30" stroke-linecap="round" fill="none"/>
<path d="M376.7 122.3h0M370.4 116.0h0M378.5 112.3h0M369.4 114.4h0M371.6 118.1h0M371.1 114.8h0M381.8 121.2h0" stroke="#b47848" stroke-width="1.30" stroke-linecap="round" fill="none"/>
<path d="M358.9 125.7h0M350.5 126.3h0M352.9 123.1h0" stroke="#327e3e" stroke-width="1.30" stroke-linecap="round" fill="none"/>
<path d="M406.3 123.4h0M387.7 122.8h0M388.3 110.1h0M383.9 115.3h0M397.5 116.9h0M405.7 120.4h0M398.1 117.4h0M392.8 118.7h0M389.6 129.0h0M387.4 115.0h0M392.0 129.6h0M403.9 119.9h0M406.6 122.5h0" stroke="#196297" stroke-width="1.30" stroke-linecap="round" fill="none"/>
<path d="M354.0 108.4h0M352.6 107.8h0M354.3 106.3h0" stroke="#489c78" stroke-width="1.30" stroke-linecap="round" fill="none"/>
<path d="M405.7 118.9h0M387.4 127.8h0M396.0 130.3h0M395.9 127.8h0M394.4 128.6h0M384.6 118.4h0" stroke="#186ca8" stroke-width="1.30" stroke-linecap="round" fill="none"/>
<path d="M375.7 100.5h0M376.7 92.7h0M389.9 99.4h0M387.3 93.0h0M382.1 96.0h0M381.1 101.4h0M375.1 99.4h0M389.1 103.6h0M375.1 94.7h0" stroke="#c26e29" stroke-width="1.30" stroke-linecap="round" fill="none"/>
<path d="M378.7 109.1h0M365.7 111.6h0M361.6 108.0h0M383.9 107.7h0M361.2 110.0h0M372.3 104.7h0M378.8 111.6h0M372.7 104.9h0M384.8 106.1h0M370.4 108.2h0" stroke="#9c8478" stroke-width="1.30" stroke-linecap="round" fill="none"/>
<path d="M385.7 122.1h0M377.6 111.9h0M375.9 126.1h0M380.7 125.1h0M383.6 116.1h0" stroke="#c46715" stroke-width="1.30" stroke-linecap="round" fill="none"/>
<path d="M382.7 112.0h0M371.3 111.9h0M377.1 110.8h0M386.7 110.7h0" stroke="#cc4848" stroke-width="1.30" stroke-linecap="round" fill="none"/>
<path d="M358.7 122.7h0M354.2 126.6h0M352.5 125.6h0M355.7 124.8h0M353.6 127.5h0" stroke="#309c48" stroke-width="1.30" stroke-linecap="round" fill="none"/>
<path d="M352.1 126.8h0" stroke="#609060" stroke-width="1.30" stroke-linecap="round" fill="none"/>
<path d="M363.0 111.8h0M366.3 120.2h0M361.1 116.0h0M367.0 117.9h0" stroke="#bb2922" stroke-width="1.30" stroke-linecap="round" fill="none"/>
<path d="M352.4 107.5h0" stroke="#3d7e69" stroke-width="1.30" stroke-linecap="round" fill="none"/>
<path d="M336.2 137.1h0M325.4 132.5h0M341.7 121.6h0M336.3 142.2h0M343.6 144.4h0M340.6 141.3h0M354.7 121.8h0M332.3 123.4h0M335.2 121.7h0M349.3 143.1h0M345.1 148.6h0M334.7 124.6h0M337.5 134.7h0M351.2 125.9h0M344.7 127.2h0M346.5 138.9h0M354.9 129.9h0M335.6 133.3h0M321.9 127.9h0M334.5 121.2h0M323.1 129.4h0M329.3 147.5h0M327.1 138.9h0M337.3 121.8h0M320.1 127.4h0M353.7 130.8h0M353.0 134.8h0M326.3 127.2h0M332.1 130.1h0M333.9 125.4h0M332.1 149.3h0M338.3 141.3h0M339.4 130.0h0M339.0 139.1h0M332.6 135.1h0M341.0 114.3h0M352.3 138.9h0M322.9 146.9h0M344.0 132.7h0M320.2 123.1h0" stroke="#707070" stroke-width="1.30" stroke-linecap="round" fill="none"/>
<path d="M357.9 125.0h0M351.9 124.2h0M352.5 127.5h0M350.4 126.3h0M352.9 122.2h0M358.3 123.9h0" stroke="#309c48" stroke-width="1.30" stroke-linecap="round" fill="none"/>
<path d="M384.6 119.1h0M400.3 121.8h0M392.0 126.0h0M399.3 116.9h0M404.7 116.8h0M397.1 116.0h0M404.7 127.9h0M400.4 126.0h0M397.9 112.9h0M391.7 120.3h0M404.2 123.3h0M387.4 112.6h0M387.1 120.4h0M402.0 114.2h0" stroke="#186ca8" stroke-width="1.30" stroke-linecap="round" fill="none"/>
<path d="M324.0 134.4h0M333.8 131.2h0M335.9 128.9h0M331.8 149.9h0M353.6 137.6h0M343.2 126.9h0M321.5 133.5h0M345.2 113.7h0M349.1 132.5h0M334.3 125.1h0M318.6 129.4h0M350.4 119.0h0M342.7 112.8h0M319.7 130.7h0M338.9 146.7h0M342.3 142.3h0M338.9 121.3h0M347.3 124.3h0M351.1 122.6h0M339.5 147.2h0M342.8 139.9h0M336.5 133.5h0M337.5 140.4h0M354.4 125.8h0M342.9 119.8h0M333.3 141.3h0M328.0 122.7h0M324.4 143.9h0M332.0 113.3h0M336.4 149.4h0M330.6 141.3h0M340.3 126.5h0M332.9 132.8h0M348.0 118.2h0M329.4 127.8h0M352.9 122.9h0M336.9 112.6h0M340.8 140.2h0M349.5 123.9h0M325.0 139.1h0M350.1 124.8h0M351.9 118.6h0M349.1 119.3h0M350.2 127.3h0M326.2 126.6h0M354.9 125.9h0M336.6 115.9h0M348.3 140.8h0M354.8 119.5h0M343.2 119.5h0M327.4 139.7h0M327.1 138.5h0M324.7 119.0h0M328.2 120.9h0M328.0 143.6h0M337.3 126.8h0M345.2 147.9h0M324.2 126.5h0M355.5 129.9h0M334.2 127.3h0M338.7 116.1h0M340.2 132.0h0M330.7 113.1h0M341.6 134.5h0M344.5 135.3h0M337.7 115.2h0M345.0 134.6h0M322.8 129.2h0M344.6 139.1h0M331.2 118.9h0M325.9 127.2h0M329.7 134.8h0M320.9 119.4h0M341.1 121.3h0M337.7 124.4h0M329.0 116.7h0M322.1 144.2h0M328.0 131.5h0M336.0 117.5h0M332.4 135.7h0M327.4 126.4h0M353.8 120.8h0M327.1 115.1h0M342.8 146.0h0M324.5 126.7h0M354.9 120.7h0M318.0 128.0h0M337.1 145.3h0M323.8 137.3h0M352.2 118.5h0M338.5 133.7h0M322.3 128.5h0M354.7 127.1h0M343.3 116.5h0M336.0 126.3h0M347.2 146.2h0M343.2 139.0h0M326.5 120.3h0M319.4 121.8h0M323.6 139.9h0M348.0 116.6h0M338.3 119.2h0M349.9 126.8h0M335.0 135.8h0M329.8 130.0h0M322.9 144.8h0M332.3 132.5h0M325.0 142.9h0M355.8 125.6h0M329.5 127.6h0M341.3 144.6h0M324.2 145.7h0M328.1 130.3h0M324.9 118.8h0M330.7 120.9h0M324.3 129.0h0M341.8 113.9h0M341.0 113.6h0M342.7 130.3h0" stroke="#848484" stroke-width="1.30" stroke-linecap="round" fill="none"/>
<path d="M350.1 127.2h0" stroke="#327e3e" stroke-width="1.30" stroke-linecap="round" fill="none"/>
<path d="M383.5 94.5h0M377.8 95.5h0M379.5 94.2h0M382.2 94.5h0M384.0 94.0h0M379.3 101.5h0M390.4 96.7h0" stroke="#b48454" stroke-width="1.30" stroke-linecap="round" fill="none"/>
<path d="M331.4 134.2h0M347.5 135.6h0M334.0 127.6h0M329.2 131.5h0M347.7 132.3h0M356.2 119.0h0M333.7 125.7h0M344.0 126.5h0M360.8 112.0h0M331.5 146.3h0M330.9 150.6h0M326.4 142.1h0M334.9 145.5h0M346.2 146.1h0M332.3 143.3h0M330.1 126.6h0M346.2 132.0h0M357.4 119.0h0M360.3 116.4h0M325.6 136.0h0M360.0 113.8h0M324.8 137.4h0M331.5 148.3h0M347.7 128.8h0M361.3 115.2h0M326.6 142.1h0M340.3 125.0h0M331.8 128.6h0M324.9 139.6h0M334.6 150.9h0M341.4 123.9h0M335.4 137.1h0M335.5 149.6h0M328.7 139.7h0M329.5 133.2h0M330.7 131.9h0M343.8 146.6h0M351.2 129.2h0M366.0 111.5h0M327.7 147.7h0M343.1 130.1h0M346.2 136.5h0M351.7 133.8h0M348.0 126.6h0M349.9 130.1h0M344.8 128.6h0M360.8 113.4h0M348.1 135.8h0M341.4 145.8h0M340.2 123.9h0M363.8 118.4h0M342.9 148.2h0M344.1 143.4h0M348.9 127.8h0M342.6 140.1h0M330.3 130.3h0M334.9 145.2h0M334.4 132.2h0M339.2 137.9h0M332.7 133.6h0M344.2 140.2h0M327.8 147.5h0M327.8 131.7h0M348.3 137.4h0M366.0 117.4h0M338.4 131.6h0M343.0 142.4h0M360.9 110.4h0M361.2 112.3h0M341.1 125.6h0M338.7 140.3h0M361.8 114.9h0M337.5 138.9h0M331.5 143.2h0" stroke="#e42424" stroke-width="1.30" stroke-linecap="round" fill="none"/>
<path d="M352.9 126.8h0M351.7 119.3h0M329.2 120.6h0M331.6 116.9h0M337.5 126.9h0M350.8 133.6h0M331.4 122.9h0M355.9 116.5h0M344.4 133.8h0M342.9 135.8h0M350.3 117.1h0M335.5 130.5h0M339.0 145.1h0M332.7 116.5h0M358.8 126.4h0M333.9 125.9h0M344.4 123.3h0M340.2 114.1h0M345.7 129.9h0M317.2 129.8h0M319.6 123.1h0M327.6 144.5h0M350.0 131.0h0M329.1 132.4h0M334.3 138.9h0M321.4 117.9h0M355.8 124.2h0M335.6 123.7h0M349.0 134.2h0M335.4 131.8h0M329.6 113.9h0M340.8 136.9h0M343.2 135.3h0M336.8 117.8h0M334.9 125.7h0M350.5 120.1h0M325.1 121.3h0M351.1 118.0h0M347.8 129.7h0M347.6 129.4h0M351.0 138.8h0M331.4 115.7h0M320.6 126.0h0M340.1 138.9h0M330.5 141.2h0M348.7 129.4h0M336.3 121.1h0M347.2 125.8h0M331.7 147.4h0M319.9 121.9h0M342.8 127.2h0M337.6 126.0h0M327.3 138.1h0M338.6 137.6h0" stroke="#b45454" stroke-width="1.30" stroke-linecap="round" fill="none"/>
<path d="M370.8 105.4h0M360.9 106.8h0M360.8 108.6h0M379.4 107.7h0M368.5 107.8h0M373.5 109.5h0M371.0 109.3h0M373.2 104.9h0M360.6 107.3h0M368.4 106.0h0M369.1 103.9h0M357.4 109.7h0" stroke="#d8843c" stroke-width="1.30" stroke-linecap="round" fill="none"/>
<path d="M342.7 146.6h0M344.5 123.2h0M332.8 148.7h0M344.9 130.6h0M348.5 128.5h0M344.5 137.3h0M335.1 143.7h0M342.1 140.4h0M329.9 126.6h0M338.0 135.7h0M346.7 137.4h0M341.3 144.7h0M342.8 127.5h0M340.7 128.6h0M343.8 125.3h0M342.1 149.2h0M335.6 130.7h0M344.4 134.7h0M344.6 140.9h0M347.8 123.5h0" stroke="#b92722" stroke-width="1.30" stroke-linecap="round" fill="none"/>
<path d="M401.5 118.4h0M398.0 131.2h0M394.8 112.1h0M404.8 126.8h0M398.0 130.0h0M404.4 122.5h0M393.8 122.7h0M391.9 126.2h0M402.0 129.6h0M401.5 113.0h0" stroke="#196297" stroke-width="1.30" stroke-linecap="round" fill="none"/>
<path d="M382.1 117.9h0M385.9 116.7h0M367.7 118.9h0M382.4 120.4h0M379.2 121.9h0M368.3 120.2h0M366.4 118.9h0M384.3 121.5h0M369.5 113.4h0M383.6 121.2h0M371.5 115.7h0M375.3 122.4h0M368.4 111.9h0M369.8 118.1h0M381.1 122.6h0M372.9 125.3h0M383.2 120.0h0M367.2 115.2h0M374.5 111.0h0M368.5 119.8h0M373.1 116.0h0M384.1 118.6h0M372.8 119.0h0" stroke="#f07818" stroke-width="1.30" stroke-linecap="round" fill="none"/>
<path d="M394.1 129.8h0M394.8 118.6h0M384.8 118.4h0M396.7 132.7h0M388.4 126.6h0M395.4 124.0h0M396.0 119.7h0M397.1 112.7h0M389.8 118.2h0M387.7 125.9h0M394.7 119.2h0M388.0 111.2h0M404.1 126.9h0M399.4 117.5h0M398.3 121.6h0M396.1 116.6h0M396.5 131.2h0M398.9 130.2h0M385.4 120.2h0M383.9 117.4h0M400.8 122.4h0M386.3 121.9h0M399.1 111.1h0M404.3 126.9h0M398.3 118.7h0M384.9 122.6h0M395.0 125.8h0M404.6 121.9h0M406.6 121.2h0M400.8 122.9h0M404.5 128.4h0M387.8 110.2h0M397.6 117.1h0M398.4 119.0h0M402.4 123.3h0M385.3 121.7h0M400.7 117.9h0M401.3 121.1h0M396.3 126.8h0M390.4 127.1h0M404.2 126.2h0M396.6 119.0h0M391.3 111.5h0M392.0 130.8h0M387.6 123.8h0M388.7 129.7h0M388.9 115.6h0M386.4 114.2h0M402.2 122.8h0M389.6 116.4h0M387.1 113.3h0" stroke="#2478b4" stroke-width="1.30" stroke-linecap="round" fill="none"/>
<path d="M388.1 111.8h0M374.7 110.0h0M387.9 104.7h0M362.4 106.1h0M358.0 110.0h0M375.0 109.1h0M371.2 105.9h0M381.7 110.5h0M373.1 112.7h0" stroke="#9c8478" stroke-width="1.30" stroke-linecap="round" fill="none"/>
<path d="M370.3 109.6h0M365.9 110.1h0M374.6 107.0h0M360.8 108.8h0M368.4 107.3h0M362.1 111.9h0M379.6 108.6h0M378.6 104.9h0M380.0 110.3h0" stroke="#cc4848" stroke-width="1.30" stroke-linecap="round" fill="none"/>
<path d="M374.1 99.0h0M377.0 102.4h0M376.4 94.3h0M384.9 96.8h0M381.0 94.0h0M387.2 98.3h0M384.5 92.2h0M377.9 104.2h0M374.0 91.6h0M375.2 94.4h0M379.9 100.3h0M388.4 100.9h0M397.0 83.3h0M391.2 84.3h0M389.9 86.4h0M382.3 96.5h0M387.3 102.8h0M377.1 99.9h0M386.3 96.6h0M380.5 103.6h0M386.1 97.8h0M378.0 97.6h0M384.3 98.4h0M378.2 104.4h0M391.9 96.3h0M376.6 97.0h0M378.4 96.5h0M379.8 100.4h0M378.6 104.8h0M372.5 101.3h0M395.8 82.5h0M387.7 98.6h0" stroke="#f08424" stroke-width="1.30" stroke-linecap="round" fill="none"/>
<path d="M383.3 105.9h0M356.6 108.2h0M367.0 106.8h0M386.5 104.2h0M387.7 108.3h0M360.1 108.9h0" stroke="#946c54" stroke-width="1.30" stroke-linecap="round" fill="none"/>
<path d="M377.7 111.7h0M383.7 116.3h0M382.3 117.8h0M382.9 112.0h0M383.1 115.4h0M376.7 116.2h0M373.0 122.5h0M367.2 119.8h0M375.2 122.3h0M369.0 121.5h0" stroke="#c46715" stroke-width="1.30" stroke-linecap="round" fill="none"/>
<path d="M376.7 114.5h0M372.1 123.6h0M377.3 121.0h0M368.9 117.8h0M381.7 110.9h0" stroke="#b47848" stroke-width="1.30" stroke-linecap="round" fill="none"/>
<path d="M356.6 114.3h0M361.7 121.1h0M357.3 112.4h0" stroke="#bb2922" stroke-width="1.30" stroke-linecap="round" fill="none"/>
<path d="M381.0 102.6h0M391.2 96.1h0M383.9 100.8h0M384.0 100.6h0M384.3 93.0h0M371.3 98.2h0M391.8 99.5h0M376.8 96.0h0M378.2 91.0h0M387.3 101.7h0" stroke="#c26e29" stroke-width="1.30" stroke-linecap="round" fill="none"/>
<path d="M353.3 108.3h0M351.6 105.7h0M357.2 105.5h0" stroke="#3d7e69" stroke-width="1.30" stroke-linecap="round" fill="none"/>
<path d="M353.6 109.7h0M356.3 110.2h0" stroke="#489c78" stroke-width="1.30" stroke-linecap="round" fill="none"/>
<path d="M326.4 103.5h0M328.9 94.3h0M319.6 106.4h0M382.9 87.4h0M367.1 99.3h0M378.5 84.7h0M352.1 102.8h0M374.8 88.4h0M363.9 93.5h0M381.6 87.0h0M380.2 82.6h0M373.5 87.0h0M385.1 88.4h0M365.2 95.9h0M341.1 107.4h0M342.4 115.1h0M349.4 104.5h0M356.3 101.1h0M352.1 110.0h0M364.1 98.1h0M364.1 100.7h0M344.0 105.7h0M333.8 100.7h0M371.1 94.3h0M357.1 96.8h0M354.1 103.4h0M348.2 109.9h0M348.4 106.4h0M361.6 100.9h0M347.7 103.9h0M346.7 110.0h0M370.0 92.9h0M381.1 84.7h0M350.7 105.9h0M341.1 112.2h0M370.6 94.6h0M327.3 111.8h0M328.9 109.1h0M360.6 96.8h0M342.6 111.4h0M342.9 110.0h0M324.6 111.7h0M339.3 117.8h0M357.7 99.9h0M337.7 111.9h0M322.8 93.2h0M373.9 89.2h0M346.6 106.2h0M362.7 103.3h0M341.2 107.0h0M319.7 99.9h0M347.3 105.9h0M347.4 107.9h0M372.8 93.4h0M374.6 88.0h0M376.2 84.1h0M356.8 99.6h0M341.1 109.9h0M359.2 99.9h0M359.9 100.8h0M354.8 101.8h0M331.8 100.4h0M379.2 83.2h0M323.8 108.9h0M362.6 95.0h0M317.9 104.1h0M382.7 84.2h0M354.9 99.2h0M353.8 97.2h0M321.2 99.0h0M385.7 82.8h0M346.5 108.1h0M351.9 98.9h0M357.6 102.6h0M319.4 100.6h0M358.3 105.8h0M366.9 94.4h0M381.6 81.5h0M351.2 107.9h0M339.0 109.0h0M384.5 79.8h0M329.5 112.4h0M355.9 104.8h0" stroke="#585858" stroke-width="1.60" stroke-linecap="round" fill="none"/>
<path d="M357.2 97.1h0M353.4 104.5h0M343.1 105.2h0M340.2 114.0h0M340.2 116.1h0M343.6 112.1h0M350.4 108.1h0M347.4 107.0h0M373.4 86.8h0M347.7 104.5h0M340.9 115.0h0M352.2 102.7h0M351.5 103.4h0M356.5 106.2h0M382.3 84.0h0M346.6 108.2h0M365.9 97.9h0M363.3 93.9h0M385.2 79.7h0M340.5 115.7h0M353.0 100.8h0M370.3 91.9h0M337.4 113.7h0M347.9 111.2h0M339.7 108.6h0M352.3 104.5h0M341.3 107.6h0M362.3 99.7h0M351.8 107.5h0M358.0 96.4h0M345.4 110.9h0M356.3 98.4h0M358.2 102.2h0M371.3 91.4h0M358.8 104.0h0M373.3 83.6h0M370.3 93.3h0M342.7 111.3h0M365.7 94.0h0M343.0 107.7h0M348.7 105.2h0M346.2 108.3h0M359.2 106.1h0M382.2 81.5h0M367.1 96.7h0M354.4 104.2h0M348.2 103.5h0M360.0 95.5h0M369.2 90.9h0M335.4 112.6h0M348.4 100.6h0M340.1 108.3h0M342.3 105.5h0M361.0 96.8h0M357.1 96.5h0M383.7 83.5h0M347.7 102.0h0M352.5 104.4h0M379.4 86.4h0M358.0 98.9h0M346.7 107.3h0M362.1 100.7h0M360.8 97.6h0M365.6 93.2h0M350.2 100.6h0M361.2 103.9h0M365.8 101.4h0M361.6 99.5h0M352.2 100.5h0M358.0 103.4h0M356.5 99.4h0M360.9 101.5h0" stroke="#4f8a5c" stroke-width="1.60" stroke-linecap="round" fill="none"/>
<g filter="url(#soft)">
<polygon points="320,268 330,264 342,266 346,275 345,290 338,298 326,298 320,290 318,278" fill="#e0e0e0" fill-opacity="0.9"/>
<polygon points="340,262 360,256 373,254.6 385,258 399.6,268 399.6,276 392,279 380,276 365,270 350,272 342,270" fill="#e0e0e0" fill-opacity="0.9"/>
<polygon points="366,226 369,224.6 372,230 375,225 377.7,226 378,235 373,237 367,235" fill="#e0e0e0" fill-opacity="0.9"/>
<polygon points="365,235 378,235 384.6,240 384.6,254.6 373,256 366,250" fill="#e0e0e0" fill-opacity="0.9"/>
<polygon points="318.9,244.5 323,242.5 329.3,246.2 333,252 332.8,258.9 328,263 323.5,265.8 319,262 317.2,256.6 316.6,248.5" fill="#7b7b7b" fill-opacity="0.95"/>
<polygon points="332.8,253.2 340.8,248.5 350,242.8 360.5,240.5 367.4,239.9 368,245 367.4,250.8 358,255.5 346.6,257.8 335,258.9" fill="#90d0da" fill-opacity="0.92"/>
<ellipse cx="357.0" cy="251.5" rx="6.0" ry="3.8" transform="rotate(-10 357.0 251.5)" fill="#bcc650" fill-opacity="0.75"/>
<ellipse cx="341.5" cy="275.0" rx="6.0" ry="4.5" transform="rotate(0 341.5 275.0)" fill="#c8c860" fill-opacity="0.5"/>
<polygon points="382.3,233 386,230 389.2,229.2 386,234.5 383,235" fill="#7fb4d0" fill-opacity="0.4"/>
</g>
<path d="M321.9 255.5h0M326.9 261.2h0M322.7 252.8h0M327.6 259.2h0M318.5 256.9h0M322.3 255.2h0M328.9 263.2h0M320.0 247.4h0" stroke="#656565" stroke-width="1.30" stroke-linecap="round" fill="none"/>
<path d="M336.4 265.8h0M328.2 281.0h0M327.0 282.1h0M319.0 278.8h0M352.5 269.4h0M386.2 258.0h0M375.4 259.9h0M327.9 294.2h0M400.1 275.9h0M324.6 280.5h0M381.0 238.2h0M342.7 269.3h0M325.2 287.5h0M332.7 274.3h0M342.8 269.5h0M386.1 265.5h0M352.0 270.3h0M397.2 270.5h0M365.8 266.6h0M324.1 292.5h0M368.4 226.6h0M332.1 282.2h0M365.4 264.2h0M320.4 281.6h0M382.0 255.0h0M360.9 261.0h0M325.6 267.6h0M353.4 268.9h0M381.2 264.3h0M378.6 234.3h0M359.9 270.7h0M344.3 287.9h0M388.3 259.6h0M375.9 226.1h0M339.0 284.8h0M328.3 284.7h0M327.3 274.8h0M389.0 263.7h0M324.3 278.2h0M362.2 264.7h0M381.7 238.3h0M377.9 261.4h0M342.9 291.8h0M378.6 257.6h0M336.9 274.8h0M344.4 264.1h0M343.6 261.2h0M366.7 259.8h0M356.1 269.6h0M383.4 247.9h0M320.2 273.3h0M345.9 261.9h0M379.1 240.3h0M352.7 269.1h0M362.5 263.7h0M324.4 295.1h0M343.0 262.3h0M394.3 267.6h0M353.8 262.1h0M321.9 277.7h0M338.7 271.4h0M367.4 231.0h0" stroke="#d8d8d8" stroke-width="1.30" stroke-linecap="round" fill="none"/>
<path d="M385.0 270.6h0M339.3 277.2h0M374.7 247.6h0M328.2 280.5h0M329.1 298.0h0M373.6 268.0h0M323.9 276.7h0M373.9 240.8h0M376.8 239.5h0M371.4 264.1h0M389.5 275.0h0M365.5 225.7h0M369.3 266.5h0M383.0 272.0h0M368.3 245.4h0M382.8 274.4h0M360.0 262.3h0" stroke="#9c9c9c" stroke-width="1.30" stroke-linecap="round" fill="none"/>
<path d="M361.6 251.1h0M357.3 249.5h0M355.6 255.1h0" stroke="#a8cc90" stroke-width="1.30" stroke-linecap="round" fill="none"/>
<path d="M381.4 253.3h0M383.5 238.7h0M387.6 275.1h0M331.1 279.4h0M375.7 249.7h0M378.1 234.3h0M378.9 240.8h0M375.3 253.6h0M373.0 237.5h0M333.0 298.7h0M378.8 252.8h0M344.5 282.2h0M321.2 284.1h0M371.2 249.4h0M336.6 275.7h0M342.0 272.5h0M377.6 268.6h0M330.7 285.2h0M346.5 270.7h0M334.1 280.7h0M330.4 272.1h0M323.6 273.3h0M376.8 255.2h0M323.0 275.1h0M330.6 285.2h0M392.1 272.5h0M383.6 246.4h0M339.2 269.8h0M372.4 245.2h0" stroke="#b8b8b8" stroke-width="1.30" stroke-linecap="round" fill="none"/>
<path d="M319.2 256.5h0M318.7 253.8h0M319.9 252.0h0M322.3 245.1h0M320.8 263.4h0M326.9 252.6h0M324.8 246.6h0M316.6 249.8h0M325.6 255.8h0M323.3 247.2h0M330.3 260.6h0M316.9 255.8h0M327.8 247.9h0M318.1 252.4h0M327.7 246.4h0M323.1 263.4h0M317.3 250.2h0M317.4 258.4h0M323.4 244.8h0M327.7 247.7h0M326.1 252.2h0M325.9 256.5h0M321.4 255.1h0M321.9 257.7h0M322.8 264.3h0M329.0 251.1h0M322.9 245.5h0M319.7 255.6h0M321.4 256.3h0M328.3 246.6h0M316.2 250.1h0M333.7 251.8h0M319.2 247.9h0M319.7 251.5h0M331.8 250.7h0M328.1 256.3h0M328.2 256.9h0M328.1 257.7h0" stroke="#787878" stroke-width="1.30" stroke-linecap="round" fill="none"/>
<path d="M330.5 250.8h0M325.9 253.5h0M319.5 263.3h0M327.8 259.2h0M330.7 251.8h0M321.7 251.1h0M318.0 255.2h0M323.5 259.0h0" stroke="#6c6c6c" stroke-width="1.30" stroke-linecap="round" fill="none"/>
<path d="M354.6 252.6h0M356.0 242.3h0M363.3 242.9h0M360.8 252.9h0M353.0 257.1h0M356.5 242.7h0M333.1 254.9h0M363.9 248.6h0M333.8 255.3h0M355.0 254.3h0M340.1 258.5h0M341.5 249.9h0M363.8 246.8h0M358.9 250.1h0M364.1 243.3h0M367.9 240.9h0M339.2 257.5h0M363.1 253.6h0M351.4 255.3h0M340.1 254.5h0M357.9 250.2h0" stroke="#76abb3" stroke-width="1.30" stroke-linecap="round" fill="none"/>
<path d="M351.3 241.8h0M345.5 255.2h0M354.7 251.7h0M366.2 240.1h0M360.4 244.7h0M364.6 247.4h0M339.2 255.6h0M350.0 245.2h0M361.0 240.0h0M342.3 251.3h0M351.0 256.3h0M357.0 245.7h0M365.3 251.1h0M342.8 249.6h0M360.3 246.0h0M339.7 253.3h0M365.8 246.9h0M348.7 254.8h0M361.1 248.7h0M337.5 257.9h0M333.1 254.7h0M354.3 244.7h0M360.3 248.4h0M339.3 257.5h0M367.8 247.6h0M362.7 248.9h0M347.9 250.0h0M339.9 250.7h0M356.4 241.0h0M344.3 257.4h0" stroke="#90ccd8" stroke-width="1.30" stroke-linecap="round" fill="none"/>
<path d="M385.7 232.4h0" stroke="#6c9cb4" stroke-width="1.30" stroke-linecap="round" fill="none"/>
<path d="M344.1 257.6h0M352.7 249.9h0M367.8 244.3h0M345.0 248.2h0M367.2 250.5h0M350.0 253.1h0M358.7 254.9h0M340.0 248.8h0M359.6 242.7h0" stroke="#84a8a8" stroke-width="1.30" stroke-linecap="round" fill="none"/>
<path d="M338.3 277.8h0M343.4 272.1h0M348.1 274.8h0M340.2 275.0h0M341.5 279.6h0M340.7 274.0h0M342.1 279.4h0" stroke="#c0c03c" stroke-width="1.30" stroke-linecap="round" fill="none"/>
<path d="M361.9 242.8h0M356.7 243.5h0M338.5 250.9h0" stroke="#a8cc78" stroke-width="1.30" stroke-linecap="round" fill="none"/>
<path d="M359.1 251.0h0M356.5 252.6h0M350.8 251.0h0" stroke="#c0c030" stroke-width="1.30" stroke-linecap="round" fill="none"/>
<path d="M334.8 275.1h0M345.6 275.6h0M340.2 272.0h0M344.7 276.3h0M343.9 278.8h0" stroke="#909060" stroke-width="1.30" stroke-linecap="round" fill="none"/>
<path d="M352.4 248.7h0" stroke="#9aa242" stroke-width="1.30" stroke-linecap="round" fill="none"/>
<path d="M385.8 232.1h0" stroke="#6894ab" stroke-width="1.30" stroke-linecap="round" fill="none"/>
<path d="M388.1 231.5h0" stroke="#48a8c0" stroke-width="1.30" stroke-linecap="round" fill="none"/>
<path d="M367.2 250.7h0M362.7 240.1h0M356.0 255.7h0M352.9 241.8h0M364.5 239.7h0M341.4 254.7h0M360.2 245.0h0M367.1 250.0h0M364.0 248.4h0M361.8 252.6h0M354.4 250.3h0M366.4 243.8h0M362.9 244.1h0M349.3 244.0h0M354.3 249.3h0M354.7 248.4h0M345.9 257.9h0M361.2 248.1h0M354.8 246.9h0M359.2 241.0h0M346.8 254.3h0M352.7 254.0h0M364.2 244.7h0M342.7 253.0h0M349.7 246.1h0M348.0 247.4h0M366.3 241.8h0M337.2 252.0h0M337.0 253.7h0M355.2 242.9h0M357.3 250.0h0M338.6 255.6h0M354.4 256.1h0M344.1 251.7h0M359.2 240.3h0M341.1 249.9h0M338.7 251.7h0M344.6 257.1h0M346.5 244.9h0M356.2 251.8h0M348.4 257.7h0M341.8 248.0h0M345.0 255.8h0M344.7 247.2h0M361.8 240.3h0M355.7 241.7h0M351.8 242.4h0M350.0 251.9h0M350.8 251.8h0" stroke="#90ccd8" stroke-width="1.30" stroke-linecap="round" fill="none"/>
<path d="M332.5 286.3h0M376.7 255.4h0M365.9 266.1h0M329.0 273.9h0M377.8 229.8h0M341.1 291.0h0M385.3 267.4h0M355.4 259.2h0M323.2 279.7h0M382.8 275.6h0M319.7 287.5h0M365.6 261.8h0M335.3 297.1h0M396.0 274.7h0M378.5 238.1h0" stroke="#9c9c9c" stroke-width="1.30" stroke-linecap="round" fill="none"/>
<path d="M352.9 264.4h0M378.4 263.9h0M396.0 270.6h0M375.6 228.4h0M382.4 237.6h0M358.0 265.3h0M333.1 274.2h0M364.1 264.4h0M368.7 266.1h0M381.4 268.9h0M397.9 272.0h0M331.4 268.6h0M375.6 241.1h0M374.9 247.5h0M369.2 244.5h0M380.8 262.1h0M382.7 257.9h0M341.0 291.1h0M343.8 266.0h0M376.5 270.1h0M375.6 243.0h0M329.3 274.6h0M373.0 232.8h0M367.3 261.6h0M323.3 286.6h0M340.0 287.2h0M348.4 267.8h0M345.3 273.0h0M379.4 241.2h0M372.2 237.4h0M345.8 270.9h0M370.3 243.0h0M357.3 269.7h0M333.1 267.0h0M373.6 248.8h0M360.8 260.3h0M375.9 255.3h0M380.5 255.3h0M320.6 280.6h0M372.7 268.3h0M321.1 277.0h0M367.3 247.6h0M357.3 270.9h0M367.5 229.6h0M343.9 268.8h0M322.6 294.6h0M372.7 240.9h0M326.6 280.5h0M383.4 272.2h0M389.1 263.1h0M383.6 239.7h0M398.4 273.5h0M351.7 270.2h0M326.9 294.0h0M387.3 271.3h0M385.0 260.0h0M365.4 243.1h0M381.8 274.2h0M397.2 276.1h0" stroke="#d8d8d8" stroke-width="1.30" stroke-linecap="round" fill="none"/>
<path d="M319.5 246.6h0M324.1 247.2h0M326.1 255.2h0M331.0 248.9h0M329.5 254.2h0M319.7 249.5h0M328.1 259.7h0M324.7 248.4h0" stroke="#656565" stroke-width="1.30" stroke-linecap="round" fill="none"/>
<path d="M336.2 273.3h0M339.1 275.3h0M345.2 278.5h0M340.7 273.9h0M339.4 275.3h0" stroke="#a4a44f" stroke-width="1.30" stroke-linecap="round" fill="none"/>
<path d="M328.7 255.7h0M330.9 250.1h0M331.8 257.0h0M322.8 244.1h0M320.7 247.5h0M333.5 255.0h0M331.6 257.5h0M325.1 256.1h0M316.6 255.1h0M324.4 255.7h0M329.9 254.9h0M320.2 256.9h0M324.3 250.4h0M325.2 259.8h0M321.3 259.3h0M316.7 256.0h0M320.4 255.9h0M324.7 248.5h0M320.0 258.9h0M323.5 257.1h0M332.5 259.6h0M317.6 255.5h0M330.4 256.4h0M329.4 260.2h0M319.7 255.3h0M326.4 253.2h0M322.5 265.6h0M328.1 245.8h0M324.4 260.8h0" stroke="#787878" stroke-width="1.30" stroke-linecap="round" fill="none"/>
<path d="M348.7 255.1h0M346.0 254.5h0M349.6 257.2h0M351.3 254.1h0M343.7 257.3h0M350.9 257.5h0M359.8 253.3h0M363.8 240.0h0M351.1 243.2h0M338.3 249.6h0M349.9 257.0h0M361.2 249.1h0M333.4 256.3h0M355.6 251.1h0M348.4 254.9h0M361.2 242.1h0M340.4 258.6h0M345.8 248.0h0" stroke="#76abb3" stroke-width="1.30" stroke-linecap="round" fill="none"/>
<path d="M338.7 279.6h0M337.7 274.3h0M342.3 273.2h0M337.9 271.2h0M340.1 277.8h0M344.3 279.0h0" stroke="#c0c03c" stroke-width="1.30" stroke-linecap="round" fill="none"/>
<path d="M359.4 249.7h0M357.0 247.8h0M353.6 249.0h0M354.6 255.2h0" stroke="#a8cc90" stroke-width="1.30" stroke-linecap="round" fill="none"/>
<path d="M322.4 267.4h0M332.6 294.9h0M370.8 229.3h0M323.1 266.5h0M325.0 284.4h0M337.7 268.6h0M398.9 274.9h0M326.0 284.3h0M389.9 264.5h0M338.1 292.5h0M339.8 280.4h0M370.6 260.0h0M341.6 280.8h0M319.3 271.3h0M343.3 285.4h0M337.5 278.7h0M356.6 265.6h0M384.9 257.4h0M374.6 249.2h0M388.4 261.0h0M327.5 265.9h0M331.7 288.8h0M333.2 271.1h0M319.1 274.2h0M396.3 271.6h0M350.9 265.6h0M367.9 236.6h0M371.4 256.3h0" stroke="#b8b8b8" stroke-width="1.30" stroke-linecap="round" fill="none"/>
<path d="M359.8 252.8h0M356.1 249.6h0M360.9 252.9h0M351.8 252.6h0" stroke="#9aa242" stroke-width="1.30" stroke-linecap="round" fill="none"/>
<path d="M334.9 255.4h0M359.8 249.6h0M359.5 244.9h0" stroke="#84a8a8" stroke-width="1.30" stroke-linecap="round" fill="none"/>
<path d="M328.1 259.8h0M327.0 253.0h0M325.7 253.5h0M320.6 248.0h0M317.6 250.0h0M317.5 259.3h0" stroke="#6c6c6c" stroke-width="1.30" stroke-linecap="round" fill="none"/>
<path d="M352.3 253.1h0M359.2 254.9h0M355.6 247.1h0M354.7 250.8h0M357.0 248.6h0M351.0 250.1h0M354.8 251.6h0" stroke="#c0c030" stroke-width="1.30" stroke-linecap="round" fill="none"/>
<path d="M382.6 233.9h0M387.7 232.5h0" stroke="#48a8c0" stroke-width="1.30" stroke-linecap="round" fill="none"/>
<path d="M337.6 277.9h0M344.2 271.1h0M343.9 279.4h0" stroke="#909060" stroke-width="1.30" stroke-linecap="round" fill="none"/>
<path d="M342.7 253.8h0" stroke="#a8cc78" stroke-width="1.30" stroke-linecap="round" fill="none"/>
<path d="M373.5 269.3h0M396.9 272.7h0M334.0 296.0h0M351.4 265.8h0M343.9 262.5h0M342.1 275.1h0M357.2 266.7h0M374.4 260.5h0M334.9 275.8h0M336.9 274.3h0M350.1 258.5h0M369.3 235.6h0M323.3 267.1h0M361.9 256.8h0M373.5 251.8h0M395.1 275.1h0M341.1 279.2h0M323.1 272.5h0M360.2 263.8h0M376.2 258.8h0M323.0 292.6h0M382.1 261.9h0M344.4 272.8h0M372.7 231.9h0M342.1 268.2h0M329.4 268.8h0M384.1 246.9h0" stroke="#b8b8b8" stroke-width="1.30" stroke-linecap="round" fill="none"/>
<path d="M362.6 240.0h0M358.4 253.4h0M360.4 245.0h0M346.6 245.4h0M345.5 256.6h0M354.9 249.5h0M359.0 241.5h0M340.8 250.1h0M352.3 246.4h0M339.7 252.2h0M363.0 250.4h0M342.6 256.1h0M356.6 241.4h0M350.0 250.6h0M362.9 242.9h0M363.8 242.8h0M366.1 241.0h0M339.8 253.1h0M364.2 244.8h0M353.4 253.3h0M348.8 252.3h0M356.1 248.5h0M352.0 254.1h0M349.5 251.9h0M347.1 248.3h0M334.8 258.0h0M353.7 250.9h0M363.5 243.1h0M341.8 253.3h0M349.7 244.0h0M362.1 253.2h0M344.1 249.0h0M357.8 250.6h0M349.4 254.6h0M345.0 256.2h0M335.6 256.7h0M343.6 249.0h0M353.9 245.6h0M357.0 241.1h0M358.7 248.3h0M345.4 249.9h0M336.4 259.0h0M353.3 251.8h0M362.1 246.1h0M344.4 254.2h0M356.9 240.8h0M345.3 252.1h0M349.4 256.5h0M340.8 257.4h0M363.3 240.9h0M364.1 242.2h0" stroke="#90ccd8" stroke-width="1.30" stroke-linecap="round" fill="none"/>
<path d="M384.5 261.7h0M375.9 264.4h0M361.4 267.1h0M330.4 267.6h0M382.1 257.7h0M336.5 298.7h0M343.3 282.1h0M333.8 282.5h0M386.3 277.1h0M321.3 268.6h0M387.4 268.8h0M341.9 264.5h0M329.0 264.7h0M399.2 269.6h0M368.5 257.8h0M383.8 271.8h0M338.4 284.3h0M364.9 241.8h0M337.5 296.3h0M332.3 279.7h0M397.0 273.2h0M322.1 275.2h0M332.3 274.5h0M383.3 264.5h0M364.8 264.5h0M359.7 257.0h0M337.5 290.3h0M387.0 273.0h0M368.3 227.3h0M376.9 257.2h0M375.1 241.1h0M368.1 254.7h0M344.0 280.5h0M322.0 289.6h0M374.4 255.4h0M369.7 249.5h0M332.1 280.3h0M327.0 274.1h0M377.0 268.3h0M388.2 259.5h0M344.8 291.0h0M369.6 233.4h0M335.8 264.6h0M372.5 253.9h0M364.9 256.6h0M368.8 271.5h0M356.2 267.8h0M343.7 271.1h0M357.7 268.0h0M343.7 260.7h0M341.0 285.7h0M369.3 252.9h0M345.4 260.7h0M343.9 290.8h0M346.5 270.6h0M346.8 270.6h0M386.8 267.0h0M371.5 239.4h0M372.6 243.0h0M339.1 283.7h0M372.0 263.6h0M343.0 279.9h0M329.8 280.0h0M353.3 260.4h0M321.4 290.8h0" stroke="#d8d8d8" stroke-width="1.30" stroke-linecap="round" fill="none"/>
<path d="M347.0 273.8h0M344.2 272.6h0M341.7 273.5h0" stroke="#909060" stroke-width="1.30" stroke-linecap="round" fill="none"/>
<path d="M354.3 255.7h0M335.7 253.5h0M355.8 247.8h0M335.5 251.3h0M348.4 254.4h0M357.3 249.7h0M359.0 252.0h0M341.7 258.1h0M353.9 245.6h0M354.1 244.8h0M361.0 244.5h0" stroke="#76abb3" stroke-width="1.30" stroke-linecap="round" fill="none"/>
<path d="M328.8 262.4h0M325.7 243.4h0M321.7 257.4h0M323.6 248.9h0M332.8 259.6h0M318.8 252.9h0M325.3 252.3h0M325.4 250.2h0" stroke="#6c6c6c" stroke-width="1.30" stroke-linecap="round" fill="none"/>
<path d="M323.5 248.7h0M318.0 259.3h0M329.0 254.8h0M325.6 254.5h0M319.9 253.4h0M322.6 252.9h0M322.1 261.1h0M318.9 247.4h0M323.2 265.1h0M319.5 262.4h0M323.2 244.6h0M331.9 249.0h0M328.9 260.7h0M325.7 257.4h0M323.2 249.7h0M330.1 249.1h0M318.1 247.1h0M320.3 249.8h0M328.4 255.7h0M317.3 250.9h0M324.1 250.2h0M328.6 260.6h0M322.9 246.4h0M328.4 260.4h0M332.5 254.7h0M319.0 248.2h0" stroke="#787878" stroke-width="1.30" stroke-linecap="round" fill="none"/>
<path d="M324.0 288.0h0M379.9 245.7h0M371.3 244.3h0M387.4 263.5h0M380.7 266.0h0M319.5 279.4h0M367.6 256.2h0M371.1 241.3h0M366.5 241.5h0M337.2 288.2h0M397.0 275.0h0M379.0 256.7h0M374.9 237.8h0M374.8 242.4h0M341.4 288.3h0" stroke="#9c9c9c" stroke-width="1.30" stroke-linecap="round" fill="none"/>
<path d="M359.1 252.0h0M333.4 256.3h0" stroke="#a8cc78" stroke-width="1.30" stroke-linecap="round" fill="none"/>
<path d="M355.6 249.0h0M351.3 253.6h0M353.5 253.5h0M359.2 252.9h0M354.8 249.1h0" stroke="#9aa242" stroke-width="1.30" stroke-linecap="round" fill="none"/>
<path d="M342.3 250.8h0M362.6 250.4h0M366.2 239.8h0M358.7 243.4h0M366.1 243.5h0" stroke="#84a8a8" stroke-width="1.30" stroke-linecap="round" fill="none"/>
<path d="M317.4 248.3h0M330.2 247.3h0M329.3 247.9h0M326.8 254.0h0M319.1 260.1h0" stroke="#656565" stroke-width="1.30" stroke-linecap="round" fill="none"/>
<path d="M343.4 278.2h0M344.0 272.2h0M339.7 278.4h0M341.3 275.5h0" stroke="#c0c03c" stroke-width="1.30" stroke-linecap="round" fill="none"/>
<path d="M382.3 233.7h0M386.4 234.2h0" stroke="#48a8c0" stroke-width="1.30" stroke-linecap="round" fill="none"/>
<path d="M386.9 231.9h0" stroke="#6894ab" stroke-width="1.30" stroke-linecap="round" fill="none"/>
<path d="M355.9 248.0h0M352.5 249.5h0M362.7 248.8h0M356.8 251.3h0" stroke="#c0c030" stroke-width="1.30" stroke-linecap="round" fill="none"/>
<path d="M386.7 232.3h0M382.8 235.2h0M387.5 231.4h0" stroke="#6c9cb4" stroke-width="1.30" stroke-linecap="round" fill="none"/>
<path d="M346.9 278.0h0M338.9 279.8h0M337.2 273.6h0M344.2 275.9h0M342.3 270.7h0" stroke="#a4a44f" stroke-width="1.30" stroke-linecap="round" fill="none"/>
<path d="M362.3 250.8h0M355.7 255.6h0M361.3 249.1h0M360.8 248.1h0" stroke="#a8cc90" stroke-width="1.30" stroke-linecap="round" fill="none"/>
<path d="M348.4 265.1h0M364.9 263.6h0M351.1 262.9h0M373.8 258.9h0M373.1 256.5h0M378.9 261.7h0M332.0 265.7h0M365.1 240.0h0M371.0 235.0h0M367.1 264.0h0M333.3 265.6h0M343.4 285.9h0M375.4 256.3h0M353.4 263.8h0M355.0 255.1h0M356.5 259.3h0M354.3 261.2h0M329.0 289.6h0M381.2 237.3h0M396.6 266.7h0M332.9 259.6h0M342.3 261.6h0M378.5 252.1h0M326.6 271.8h0M391.7 268.5h0M375.5 242.6h0M332.9 282.9h0M374.7 261.2h0M335.9 263.5h0M353.0 261.8h0M342.6 262.9h0M358.6 255.4h0M389.5 269.9h0M336.9 261.5h0M365.7 258.7h0M376.6 241.3h0M351.5 261.1h0M384.2 270.8h0M374.1 255.6h0M390.1 266.8h0M337.1 266.3h0M379.9 259.9h0M398.2 276.5h0M378.0 259.5h0M324.1 289.5h0M372.4 255.0h0M377.9 243.7h0M363.1 255.5h0M383.6 254.8h0M350.5 262.2h0M349.5 263.0h0M376.3 266.9h0M335.5 266.2h0M329.3 263.7h0M345.4 268.1h0M379.3 258.6h0M383.0 266.1h0M364.8 262.7h0M361.7 257.7h0M334.0 267.2h0M382.6 241.5h0M326.4 286.6h0M357.8 254.9h0M345.4 265.6h0M355.1 257.7h0M337.8 277.8h0M341.8 261.1h0M399.7 271.1h0M332.4 278.2h0M342.8 266.9h0M383.1 240.1h0M383.6 243.8h0M335.9 291.6h0M380.9 265.5h0M382.6 266.1h0M345.5 267.7h0M379.9 274.4h0M377.4 250.6h0M394.6 268.2h0M335.3 272.0h0M369.2 262.3h0M385.0 250.4h0M377.3 262.8h0M344.1 268.0h0M374.0 256.4h0M346.2 262.0h0M374.0 260.4h0M372.7 270.9h0M361.0 265.9h0M359.6 261.5h0M369.4 265.4h0M352.0 257.5h0M339.1 272.8h0M336.6 265.1h0M341.3 259.1h0M366.6 266.4h0M348.2 270.1h0M383.3 249.2h0M339.7 273.8h0M335.5 268.4h0M381.6 243.8h0M372.3 254.0h0M369.5 258.6h0M332.1 267.6h0M372.7 252.0h0M359.8 263.6h0M376.2 270.6h0M371.3 248.7h0M337.9 267.5h0M366.6 262.1h0M355.8 255.0h0M380.1 268.9h0M322.9 269.8h0M353.4 258.4h0M367.7 260.2h0M343.2 288.2h0M333.4 257.7h0M359.8 263.5h0M380.2 274.1h0M371.8 244.0h0M385.1 271.6h0M337.7 268.8h0M329.4 274.6h0M377.0 271.7h0M395.2 276.8h0M352.1 260.1h0M369.0 270.5h0M383.5 260.8h0M340.2 273.4h0M377.0 256.6h0M365.2 261.8h0M376.2 258.5h0M331.2 263.5h0M373.7 257.2h0M383.5 266.2h0M358.9 259.1h0M379.6 261.6h0M377.6 249.8h0M367.7 260.0h0M371.6 260.0h0M330.6 257.9h0" stroke="#4a4a4a" stroke-width="1.60" stroke-linecap="round" fill="none"/>
<path d="M367.6 266.4h0M342.3 257.8h0M364.5 263.0h0M367.3 255.9h0M369.1 270.0h0M372.8 264.5h0M340.9 265.2h0M367.4 257.7h0M379.0 267.7h0M362.5 263.9h0M336.2 259.0h0M372.2 259.2h0M373.2 268.2h0M346.3 261.7h0M392.0 266.0h0M378.3 271.0h0M388.5 265.8h0M392.4 266.0h0M336.5 261.6h0M389.2 266.6h0M374.3 260.0h0M351.3 260.3h0M335.3 262.9h0M382.2 271.0h0M339.2 263.8h0M381.2 264.1h0M360.3 263.5h0M372.2 265.8h0M342.8 262.2h0M340.3 267.0h0M371.7 270.8h0M378.2 257.1h0M385.1 265.1h0M393.0 266.8h0M364.5 256.4h0M376.6 261.8h0M368.3 257.0h0M371.8 257.5h0M346.4 262.2h0M387.8 266.3h0M378.5 259.4h0M368.1 266.7h0M384.0 262.2h0" stroke="#a8a830" stroke-width="1.60" stroke-linecap="round" fill="none"/>
<g filter="url(#soft)">
<ellipse cx="48.5" cy="287.0" rx="6.5" ry="8.5" transform="rotate(0 48.5 287.0)" fill="#e2e2e2" fill-opacity="0.95"/>
<polygon points="42,300 50,297 62,298 68,308 67,322 62,331 50,331.3 43,324 41,310" fill="#e2e2e2" fill-opacity="0.95"/>
<polygon points="52,285 64.4,278 78,276 90.4,276 100,284 110,292 118,298 123.3,305 120,312.3 110,310 100,302 85,300 70,305 60,302" fill="#e2e2e2" fill-opacity="0.95"/>
<polygon points="87,258 90,257.5 93,261 97,262 101,266 105,272 107,280 104,286 98,284 93,280 88,276 86,268" fill="#d277a8" fill-opacity="0.85"/>
<polygon points="96,266 101,266 106,272 109.4,280 109,289.8 103,290 98,284 95,276" fill="#9a5a58" fill-opacity="0.85"/>
</g>
<path d="M89.6 262.4h0M98.8 282.4h0M100.3 270.4h0M90.8 271.7h0M89.5 276.8h0M94.8 275.0h0M89.0 272.3h0M92.8 272.2h0M101.6 280.9h0M92.9 263.5h0M103.2 284.6h0M103.6 272.1h0M89.1 270.5h0M87.1 260.0h0M90.0 274.4h0M89.4 271.7h0M102.0 268.3h0M92.8 278.2h0M89.6 272.4h0M93.2 279.3h0M92.7 274.5h0M106.5 278.3h0M94.7 261.3h0M102.4 279.0h0M88.9 271.2h0M91.3 277.3h0M101.4 280.7h0M100.4 284.1h0M99.1 275.6h0M86.1 264.4h0M88.4 276.8h0M91.1 266.2h0M95.6 271.9h0M97.6 281.3h0M106.8 279.7h0" stroke="#d878b4" stroke-width="1.30" stroke-linecap="round" fill="none"/>
<path d="M102.4 283.3h0M109.6 279.6h0M95.6 267.4h0M99.7 281.0h0M97.7 271.8h0M97.2 279.6h0M100.1 267.5h0M105.1 282.7h0M99.8 272.1h0M99.2 284.3h0M104.4 277.3h0M98.9 284.6h0M96.4 280.0h0M107.8 278.8h0M105.9 279.8h0M99.0 265.6h0" stroke="#7e4a48" stroke-width="1.30" stroke-linecap="round" fill="none"/>
<path d="M92.5 272.8h0M91.9 269.9h0M89.4 266.4h0M105.8 283.4h0M93.6 268.3h0M94.3 275.1h0M100.7 283.5h0M90.0 277.4h0M90.2 269.4h0M99.7 264.3h0M95.6 282.4h0M89.2 268.6h0M102.8 280.4h0M96.6 270.0h0" stroke="#c06090" stroke-width="1.30" stroke-linecap="round" fill="none"/>
<path d="M86.8 269.0h0M100.2 271.7h0M106.4 282.6h0M96.5 273.3h0M101.8 279.0h0M87.8 258.3h0M96.8 278.9h0M88.4 273.4h0M90.6 265.7h0M104.2 277.8h0M100.1 273.5h0M92.0 262.5h0M93.5 270.3h0M86.2 266.7h0M90.1 264.9h0M100.4 266.2h0M99.6 276.2h0M89.5 264.3h0M94.9 266.4h0M97.6 264.2h0" stroke="#ac628a" stroke-width="1.30" stroke-linecap="round" fill="none"/>
<path d="M101.6 280.3h0M100.7 276.0h0M107.7 287.6h0M100.4 265.5h0M109.9 282.7h0M100.5 283.4h0M100.7 273.9h0M95.0 271.6h0M108.9 285.7h0M109.1 283.0h0M107.1 289.4h0M99.4 267.6h0M103.0 289.6h0M104.9 281.9h0M103.1 288.1h0M101.3 270.2h0M104.7 276.1h0M103.0 274.6h0M100.3 280.7h0M96.8 272.8h0M95.4 269.8h0M100.2 270.7h0M99.1 283.2h0M98.6 283.4h0M102.1 272.6h0" stroke="#9c5454" stroke-width="1.30" stroke-linecap="round" fill="none"/>
<path d="M106.4 283.6h0M107.4 279.8h0M106.0 281.6h0M108.7 285.3h0M106.6 278.3h0M107.1 275.8h0M108.9 278.2h0M100.2 276.8h0M106.3 285.7h0M96.1 265.7h0M97.0 267.1h0" stroke="#845448" stroke-width="1.30" stroke-linecap="round" fill="none"/>
<path d="M86.8 263.5h0M101.0 269.8h0M105.3 275.7h0M102.0 285.4h0M101.8 267.6h0M99.9 265.8h0M96.2 280.3h0M93.0 271.8h0M90.4 276.6h0M91.5 261.8h0M91.6 264.4h0M104.9 284.8h0M96.6 267.5h0M87.7 266.5h0M100.7 283.7h0M88.3 268.4h0M107.2 279.7h0M104.9 270.7h0M98.3 269.2h0M101.5 283.6h0M99.5 269.2h0M102.9 285.1h0M97.8 272.2h0M94.6 265.2h0M99.7 283.9h0M98.9 275.3h0M100.5 282.2h0M90.8 269.4h0" stroke="#d878b4" stroke-width="1.30" stroke-linecap="round" fill="none"/>
<path d="M97.8 277.9h0M99.2 286.0h0M104.9 281.5h0M102.2 277.1h0M108.1 285.7h0M105.8 281.4h0M101.4 267.9h0M102.1 267.7h0M95.8 278.5h0M96.4 271.1h0M96.9 280.6h0M96.2 276.3h0M107.9 278.6h0M108.5 281.0h0M101.1 268.7h0M96.0 271.2h0M103.1 269.0h0M99.2 266.9h0M107.4 277.1h0M98.6 282.5h0M95.9 266.1h0M104.2 285.9h0M98.4 278.9h0M103.0 289.1h0M103.3 273.8h0" stroke="#9c5454" stroke-width="1.30" stroke-linecap="round" fill="none"/>
<path d="M97.8 268.1h0M93.3 276.0h0M93.7 273.1h0M89.0 265.1h0M89.1 277.7h0M88.0 276.8h0M90.9 277.1h0M98.8 282.4h0M100.4 282.5h0M93.5 271.3h0M89.5 274.4h0M88.7 262.4h0M99.9 276.2h0M105.4 271.8h0M102.7 284.1h0M92.3 260.6h0M96.6 267.2h0M95.1 270.3h0M100.3 283.9h0M86.2 270.4h0M103.4 284.8h0M97.1 280.3h0M98.4 277.6h0M90.3 258.1h0M95.4 261.0h0" stroke="#ac628a" stroke-width="1.30" stroke-linecap="round" fill="none"/>
<path d="M90.1 260.6h0M91.3 262.5h0M102.5 272.2h0M96.0 269.5h0M94.6 270.2h0M102.9 268.1h0M103.7 277.4h0M99.2 271.9h0M95.6 263.7h0M87.8 266.1h0M87.1 264.7h0M89.0 268.3h0M93.3 267.5h0M90.7 277.6h0M99.6 284.2h0M88.3 265.4h0M95.6 270.8h0" stroke="#c06090" stroke-width="1.30" stroke-linecap="round" fill="none"/>
<path d="M95.3 272.1h0M96.5 274.2h0M99.6 273.1h0M100.6 279.0h0M100.5 278.9h0M107.3 281.9h0M102.5 282.6h0M106.5 289.0h0M107.2 286.8h0M95.3 268.8h0M95.0 269.8h0" stroke="#7e4a48" stroke-width="1.30" stroke-linecap="round" fill="none"/>
<path d="M98.2 282.7h0M109.1 287.9h0M97.4 276.7h0M101.8 283.1h0M108.0 279.2h0M98.9 285.1h0M94.9 271.7h0M107.2 281.5h0M106.3 272.2h0M99.4 275.4h0M100.7 265.4h0M98.5 282.7h0M107.3 283.3h0M103.2 289.9h0" stroke="#845448" stroke-width="1.30" stroke-linecap="round" fill="none"/>
<path d="M88.1 267.2h0M96.5 280.6h0M101.6 282.2h0M93.7 278.8h0M103.0 284.1h0M103.6 285.5h0M100.3 283.5h0M97.1 282.3h0M92.9 260.9h0M86.6 257.7h0M95.8 262.4h0M99.8 264.8h0M87.4 265.8h0M87.7 260.8h0" stroke="#ac628a" stroke-width="1.30" stroke-linecap="round" fill="none"/>
<path d="M89.7 274.8h0M102.3 279.1h0M86.6 267.3h0M98.2 272.0h0M94.8 280.8h0M103.0 279.5h0M99.2 268.2h0M91.9 260.1h0M86.8 257.6h0M92.0 276.0h0M104.0 270.9h0M93.2 280.9h0M104.5 280.4h0M94.9 267.2h0M97.8 266.9h0M107.5 280.3h0M100.5 276.5h0M90.1 267.3h0M99.4 274.4h0M92.4 262.0h0M104.8 281.9h0M98.8 268.1h0M99.3 279.9h0M102.8 269.7h0M101.5 274.6h0M98.9 279.1h0M100.5 265.2h0M92.7 268.1h0M90.0 266.7h0M103.3 270.6h0M98.4 269.2h0M94.3 275.5h0M89.8 276.9h0M96.8 263.2h0M101.1 267.5h0M102.4 269.1h0M103.8 271.6h0M99.5 277.5h0M89.5 272.0h0M102.9 276.8h0M102.5 280.9h0M100.8 272.9h0M91.9 265.3h0M95.5 277.4h0M106.0 275.8h0M104.9 276.4h0M92.4 260.5h0M105.5 283.1h0M96.1 273.7h0M92.8 266.3h0M87.5 269.7h0" stroke="#d878b4" stroke-width="1.30" stroke-linecap="round" fill="none"/>
<path d="M108.5 285.3h0M96.5 280.7h0M105.4 285.6h0M100.5 271.1h0M94.6 273.6h0M105.2 290.6h0M105.1 287.6h0M97.4 267.4h0M98.7 271.0h0" stroke="#7e4a48" stroke-width="1.30" stroke-linecap="round" fill="none"/>
<path d="M106.3 277.2h0M98.8 282.9h0M88.4 268.2h0M105.9 282.2h0M99.3 280.3h0M101.6 270.0h0M98.1 265.5h0M88.4 260.1h0M88.4 275.4h0M93.3 262.3h0M101.9 281.4h0" stroke="#c06090" stroke-width="1.30" stroke-linecap="round" fill="none"/>
<path d="M107.0 273.6h0M104.7 281.2h0M96.6 280.5h0M102.4 285.3h0" stroke="#845448" stroke-width="1.30" stroke-linecap="round" fill="none"/>
<path d="M105.3 278.1h0M100.6 272.6h0M106.0 288.2h0M104.9 285.9h0M104.5 270.7h0M107.1 285.1h0M104.3 280.4h0M106.4 289.5h0M107.8 283.6h0M101.0 274.5h0M100.9 280.6h0M101.0 268.9h0M109.2 278.8h0M109.5 289.3h0M104.1 278.9h0M104.4 273.2h0M103.8 276.3h0M102.1 286.5h0M107.0 287.7h0M107.6 276.8h0M106.8 273.5h0M95.7 277.4h0M98.3 284.6h0M95.8 271.6h0M107.0 286.6h0M97.3 267.8h0M106.9 289.7h0M109.3 289.3h0M102.6 275.4h0M105.0 278.3h0M107.6 279.0h0" stroke="#9c5454" stroke-width="1.30" stroke-linecap="round" fill="none"/>
<path d="M77.8 306.8h0M58.5 288.6h0M108.3 290.1h0M99.6 283.9h0M53.7 326.0h0M85.6 301.3h0M65.6 317.4h0M45.4 301.1h0M116.8 299.6h0M105.5 300.6h0M67.5 294.3h0M46.3 309.3h0M65.1 286.5h0M89.7 298.7h0M83.0 287.9h0M59.6 300.5h0M61.3 283.0h0M82.7 278.8h0M75.2 304.8h0M83.1 296.4h0M48.3 309.4h0M69.7 307.8h0M96.8 302.1h0M74.4 295.5h0M85.1 300.9h0M65.7 296.9h0M121.5 304.2h0M45.2 288.8h0M63.7 291.7h0M108.0 301.0h0M64.3 315.7h0M47.2 324.2h0M97.8 300.9h0M41.6 308.2h0M48.8 278.3h0M49.9 289.6h0M58.1 290.2h0M84.5 298.9h0M118.0 306.2h0M83.4 303.2h0M78.8 286.1h0M53.3 307.7h0M85.6 277.7h0M94.8 290.9h0M95.6 302.4h0M59.9 298.4h0M87.5 302.9h0M47.3 280.5h0M61.7 286.4h0M77.1 301.7h0M73.7 305.7h0M65.1 313.9h0M66.9 316.8h0M106.5 300.5h0M68.5 284.0h0M64.8 301.8h0M82.3 301.6h0M51.5 304.2h0M92.4 295.3h0M40.2 305.9h0M43.7 301.9h0M94.3 300.3h0M83.8 297.9h0M43.4 308.7h0M51.9 288.1h0M59.9 330.3h0M84.7 298.5h0M63.0 300.4h0M115.3 299.2h0M107.8 292.1h0M68.2 286.0h0M75.1 308.0h0M65.8 313.8h0M81.6 305.6h0M94.2 283.4h0M77.9 298.6h0" stroke="#585858" stroke-width="1.70" stroke-linecap="round" fill="none"/>
<path d="M73.0 304.1h0M71.9 306.8h0M87.5 301.7h0M63.6 315.9h0M68.5 312.5h0M66.8 306.9h0M66.6 312.6h0M81.5 306.6h0M65.6 316.8h0M76.3 306.6h0M78.5 299.8h0M86.3 300.1h0M76.5 308.3h0M86.3 297.6h0M72.2 310.7h0M66.7 312.8h0M68.2 310.6h0M81.7 299.3h0M66.2 311.2h0M67.7 306.7h0M73.7 306.2h0M78.2 305.2h0M65.6 315.8h0M82.5 303.5h0M73.9 307.4h0M86.2 302.7h0" stroke="#8a4a5a" stroke-width="1.70" stroke-linecap="round" fill="none"/>
<path d="M62.6 291.6h0M104.1 290.5h0M78.3 298.8h0M91.6 291.8h0M120.9 306.2h0M73.6 295.8h0M66.3 303.8h0M88.1 283.5h0M94.6 297.1h0M60.1 292.6h0M70.2 292.0h0M95.7 291.4h0M95.1 287.5h0M83.0 296.6h0M84.2 291.5h0M60.5 297.0h0M74.0 279.0h0M82.2 296.6h0M65.0 282.4h0M89.0 286.8h0M76.3 303.1h0M68.5 284.7h0M60.1 288.4h0M59.3 299.9h0M70.4 305.9h0M85.0 300.2h0M103.2 303.2h0M64.0 290.7h0M111.4 308.2h0M100.0 289.6h0M110.4 306.6h0M63.9 301.7h0M120.5 310.3h0M80.4 285.2h0M58.0 291.8h0M114.1 295.0h0M100.0 296.2h0M62.5 281.5h0M82.3 291.5h0M92.9 286.0h0M86.2 289.0h0M75.1 297.2h0M72.2 299.4h0M71.0 300.8h0M85.0 295.0h0M71.5 292.7h0" stroke="#7a4a50" stroke-width="1.70" stroke-linecap="round" fill="none"/>
<path d="M86.9 302.6h0M66.1 317.8h0M76.7 306.0h0M70.7 310.3h0M79.7 307.0h0M88.9 299.1h0M77.3 307.2h0M89.9 298.9h0M70.6 305.9h0M73.8 308.7h0M75.6 304.6h0M80.4 304.4h0M78.8 300.8h0M88.4 299.9h0M72.5 306.2h0M83.6 303.0h0M69.2 309.7h0M69.0 309.6h0M89.7 299.4h0M78.8 302.3h0M63.0 315.8h0M82.9 305.0h0M74.3 307.9h0M72.9 303.7h0M78.9 301.1h0M84.1 300.9h0M75.6 304.1h0M73.5 310.2h0M69.1 306.1h0M69.1 306.5h0M85.2 300.6h0M85.3 304.4h0M74.8 307.6h0M74.6 307.3h0M76.5 302.2h0M70.5 312.6h0M63.3 315.0h0M67.9 311.9h0M68.9 305.1h0" stroke="#e27bbd" stroke-width="1.70" stroke-linecap="round" fill="none"/>
<rect x="0.5" y="0.5" width="519" height="641" fill="none" stroke="#5e5e5e" stroke-width="1.0"/>
</svg>
</body></html>
